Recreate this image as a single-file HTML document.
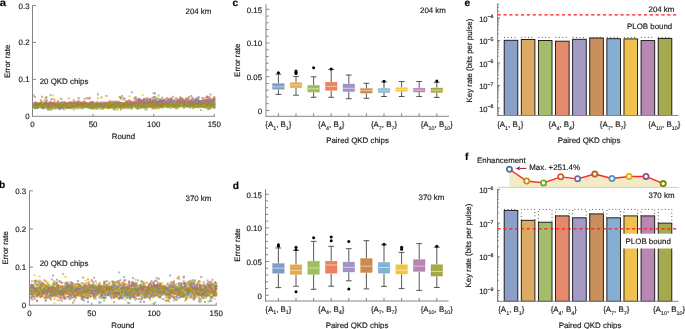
<!DOCTYPE html>
<html><head><meta charset="utf-8"><style>
html,body{margin:0;padding:0;background:#fff;}
svg{display:block;font-family:"Liberation Sans", sans-serif;will-change:transform;text-rendering:geometricPrecision;}
text{stroke:#1a1a1a;stroke-width:0.16px;}
</style></head><body>
<svg width="685" height="329" viewBox="0 0 685 329">
<defs><filter id="soft" x="-5%" y="-20%" width="110%" height="140%"><feGaussianBlur stdDeviation="0.35"/></filter><filter id="glob" x="0" y="0" width="685" height="329" filterUnits="userSpaceOnUse"><feGaussianBlur stdDeviation="0.3"/></filter></defs>
<rect width="685" height="329" fill="#fff"/>
<g filter="url(#glob)">
<g filter="url(#soft)">
<path d="M32.7 104.3h2.1v2.1h-2.1zM33.9 106.3h2.1v2.1h-2.1zM35.1 104.4h2.1v2.1h-2.1zM36.3 106.6h2.1v2.1h-2.1zM37.5 104.9h2.1v2.1h-2.1zM38.7 105.0h2.1v2.1h-2.1zM39.9 104.2h2.1v2.1h-2.1zM41.1 101.1h2.1v2.1h-2.1zM42.4 103.8h2.1v2.1h-2.1zM43.6 99.3h2.1v2.1h-2.1zM44.8 105.3h2.1v2.1h-2.1zM46.0 104.4h2.1v2.1h-2.1zM47.2 103.8h2.1v2.1h-2.1zM48.4 107.1h2.1v2.1h-2.1zM49.6 103.8h2.1v2.1h-2.1zM50.8 106.7h2.1v2.1h-2.1zM52.1 104.8h2.1v2.1h-2.1zM53.3 100.4h2.1v2.1h-2.1zM54.5 104.8h2.1v2.1h-2.1zM55.7 105.1h2.1v2.1h-2.1zM56.9 103.9h2.1v2.1h-2.1zM58.1 104.6h2.1v2.1h-2.1zM59.3 106.1h2.1v2.1h-2.1zM60.5 98.1h2.1v2.1h-2.1zM61.8 105.4h2.1v2.1h-2.1zM63.0 108.4h2.1v2.1h-2.1zM64.2 104.1h2.1v2.1h-2.1zM65.4 106.3h2.1v2.1h-2.1zM66.6 106.4h2.1v2.1h-2.1zM67.8 106.5h2.1v2.1h-2.1zM69.0 101.8h2.1v2.1h-2.1zM70.2 104.7h2.1v2.1h-2.1zM71.4 104.1h2.1v2.1h-2.1zM72.7 104.0h2.1v2.1h-2.1zM73.9 103.2h2.1v2.1h-2.1zM75.1 104.8h2.1v2.1h-2.1zM76.3 105.5h2.1v2.1h-2.1zM77.5 105.6h2.1v2.1h-2.1zM78.7 104.3h2.1v2.1h-2.1zM79.9 104.4h2.1v2.1h-2.1zM81.1 105.8h2.1v2.1h-2.1zM82.4 106.8h2.1v2.1h-2.1zM83.6 103.2h2.1v2.1h-2.1zM84.8 103.8h2.1v2.1h-2.1zM86.0 104.8h2.1v2.1h-2.1zM87.2 105.3h2.1v2.1h-2.1zM88.4 103.8h2.1v2.1h-2.1zM89.6 105.6h2.1v2.1h-2.1zM90.8 105.3h2.1v2.1h-2.1zM92.0 108.0h2.1v2.1h-2.1zM93.3 103.8h2.1v2.1h-2.1zM94.5 104.2h2.1v2.1h-2.1zM95.7 105.4h2.1v2.1h-2.1zM96.9 104.3h2.1v2.1h-2.1zM98.1 105.7h2.1v2.1h-2.1zM99.3 103.9h2.1v2.1h-2.1zM100.5 105.1h2.1v2.1h-2.1zM101.7 105.9h2.1v2.1h-2.1zM103.0 105.6h2.1v2.1h-2.1zM104.2 103.8h2.1v2.1h-2.1zM105.4 105.0h2.1v2.1h-2.1zM106.6 104.0h2.1v2.1h-2.1zM107.8 106.4h2.1v2.1h-2.1zM109.0 104.9h2.1v2.1h-2.1zM110.2 105.3h2.1v2.1h-2.1zM111.4 103.7h2.1v2.1h-2.1zM112.7 106.2h2.1v2.1h-2.1zM113.9 104.7h2.1v2.1h-2.1zM115.1 104.5h2.1v2.1h-2.1zM116.3 104.0h2.1v2.1h-2.1zM117.5 104.5h2.1v2.1h-2.1zM118.7 103.9h2.1v2.1h-2.1zM119.9 103.8h2.1v2.1h-2.1zM121.1 105.8h2.1v2.1h-2.1zM122.4 106.4h2.1v2.1h-2.1zM123.6 104.4h2.1v2.1h-2.1zM124.8 104.6h2.1v2.1h-2.1zM126.0 104.3h2.1v2.1h-2.1zM127.2 104.7h2.1v2.1h-2.1zM128.4 104.7h2.1v2.1h-2.1zM129.6 105.7h2.1v2.1h-2.1zM130.8 106.6h2.1v2.1h-2.1zM132.0 105.1h2.1v2.1h-2.1zM133.3 105.1h2.1v2.1h-2.1zM134.5 106.7h2.1v2.1h-2.1zM135.7 105.6h2.1v2.1h-2.1zM136.9 107.0h2.1v2.1h-2.1zM138.1 103.7h2.1v2.1h-2.1zM139.3 106.9h2.1v2.1h-2.1zM140.5 105.6h2.1v2.1h-2.1zM141.7 103.1h2.1v2.1h-2.1zM143.0 107.0h2.1v2.1h-2.1zM144.2 107.6h2.1v2.1h-2.1zM145.4 106.0h2.1v2.1h-2.1zM146.6 102.9h2.1v2.1h-2.1zM147.8 104.0h2.1v2.1h-2.1zM149.0 98.3h2.1v2.1h-2.1zM150.2 105.3h2.1v2.1h-2.1zM151.4 104.2h2.1v2.1h-2.1zM152.6 106.6h2.1v2.1h-2.1zM153.9 101.6h2.1v2.1h-2.1zM155.1 104.7h2.1v2.1h-2.1zM156.3 105.1h2.1v2.1h-2.1zM157.5 105.1h2.1v2.1h-2.1zM158.7 105.5h2.1v2.1h-2.1zM159.9 104.8h2.1v2.1h-2.1zM161.1 105.1h2.1v2.1h-2.1zM162.3 102.0h2.1v2.1h-2.1zM163.6 105.7h2.1v2.1h-2.1zM164.8 104.6h2.1v2.1h-2.1zM166.0 103.7h2.1v2.1h-2.1zM167.2 103.1h2.1v2.1h-2.1zM168.4 106.0h2.1v2.1h-2.1zM169.6 103.6h2.1v2.1h-2.1zM170.8 103.0h2.1v2.1h-2.1zM172.0 105.9h2.1v2.1h-2.1zM173.3 103.4h2.1v2.1h-2.1zM174.5 102.3h2.1v2.1h-2.1zM175.7 107.5h2.1v2.1h-2.1zM176.9 101.7h2.1v2.1h-2.1zM178.1 103.8h2.1v2.1h-2.1zM179.3 105.4h2.1v2.1h-2.1zM180.5 101.1h2.1v2.1h-2.1zM181.7 104.6h2.1v2.1h-2.1zM182.9 104.2h2.1v2.1h-2.1zM184.2 104.1h2.1v2.1h-2.1zM185.4 104.0h2.1v2.1h-2.1zM186.6 105.6h2.1v2.1h-2.1zM187.8 105.7h2.1v2.1h-2.1zM189.0 104.7h2.1v2.1h-2.1zM190.2 105.1h2.1v2.1h-2.1zM191.4 102.8h2.1v2.1h-2.1zM192.6 104.2h2.1v2.1h-2.1zM193.9 104.5h2.1v2.1h-2.1zM195.1 103.1h2.1v2.1h-2.1zM196.3 106.0h2.1v2.1h-2.1zM197.5 105.8h2.1v2.1h-2.1zM198.7 103.8h2.1v2.1h-2.1zM199.9 104.6h2.1v2.1h-2.1zM201.1 103.3h2.1v2.1h-2.1zM202.3 103.3h2.1v2.1h-2.1zM203.6 105.6h2.1v2.1h-2.1zM204.8 103.1h2.1v2.1h-2.1zM206.0 102.9h2.1v2.1h-2.1zM207.2 104.8h2.1v2.1h-2.1zM208.4 104.8h2.1v2.1h-2.1zM209.6 106.7h2.1v2.1h-2.1zM210.8 103.7h2.1v2.1h-2.1zM212.0 101.5h2.1v2.1h-2.1zM213.2 106.6h2.1v2.1h-2.1z" fill="#5D9EC7" fill-opacity="0.6"/>
<path d="M32.7 102.3h2.1v2.1h-2.1zM33.9 105.9h2.1v2.1h-2.1zM35.1 106.1h2.1v2.1h-2.1zM36.3 103.9h2.1v2.1h-2.1zM37.5 102.1h2.1v2.1h-2.1zM38.7 104.1h2.1v2.1h-2.1zM39.9 103.9h2.1v2.1h-2.1zM41.1 103.4h2.1v2.1h-2.1zM42.4 103.5h2.1v2.1h-2.1zM43.6 103.2h2.1v2.1h-2.1zM44.8 105.7h2.1v2.1h-2.1zM46.0 107.5h2.1v2.1h-2.1zM47.2 103.7h2.1v2.1h-2.1zM48.4 104.0h2.1v2.1h-2.1zM49.6 104.7h2.1v2.1h-2.1zM50.8 106.4h2.1v2.1h-2.1zM52.1 105.6h2.1v2.1h-2.1zM53.3 104.9h2.1v2.1h-2.1zM54.5 103.8h2.1v2.1h-2.1zM55.7 105.0h2.1v2.1h-2.1zM56.9 106.2h2.1v2.1h-2.1zM58.1 104.8h2.1v2.1h-2.1zM59.3 97.6h2.1v2.1h-2.1zM60.5 104.5h2.1v2.1h-2.1zM61.8 106.4h2.1v2.1h-2.1zM63.0 103.1h2.1v2.1h-2.1zM64.2 104.7h2.1v2.1h-2.1zM65.4 104.9h2.1v2.1h-2.1zM66.6 101.6h2.1v2.1h-2.1zM67.8 105.3h2.1v2.1h-2.1zM69.0 103.5h2.1v2.1h-2.1zM70.2 103.5h2.1v2.1h-2.1zM71.4 105.6h2.1v2.1h-2.1zM72.7 104.3h2.1v2.1h-2.1zM73.9 103.9h2.1v2.1h-2.1zM75.1 100.7h2.1v2.1h-2.1zM76.3 104.2h2.1v2.1h-2.1zM77.5 102.5h2.1v2.1h-2.1zM78.7 104.9h2.1v2.1h-2.1zM79.9 104.9h2.1v2.1h-2.1zM81.1 105.5h2.1v2.1h-2.1zM82.4 104.6h2.1v2.1h-2.1zM83.6 105.7h2.1v2.1h-2.1zM84.8 104.0h2.1v2.1h-2.1zM86.0 104.0h2.1v2.1h-2.1zM87.2 103.7h2.1v2.1h-2.1zM88.4 107.0h2.1v2.1h-2.1zM89.6 105.0h2.1v2.1h-2.1zM90.8 104.3h2.1v2.1h-2.1zM92.0 102.3h2.1v2.1h-2.1zM93.3 105.0h2.1v2.1h-2.1zM94.5 103.4h2.1v2.1h-2.1zM95.7 101.7h2.1v2.1h-2.1zM96.9 104.5h2.1v2.1h-2.1zM98.1 104.6h2.1v2.1h-2.1zM99.3 105.5h2.1v2.1h-2.1zM100.5 106.6h2.1v2.1h-2.1zM101.7 103.4h2.1v2.1h-2.1zM103.0 104.6h2.1v2.1h-2.1zM104.2 104.7h2.1v2.1h-2.1zM105.4 101.5h2.1v2.1h-2.1zM106.6 106.3h2.1v2.1h-2.1zM107.8 104.4h2.1v2.1h-2.1zM109.0 106.1h2.1v2.1h-2.1zM110.2 103.9h2.1v2.1h-2.1zM111.4 104.2h2.1v2.1h-2.1zM112.7 106.2h2.1v2.1h-2.1zM113.9 104.7h2.1v2.1h-2.1zM115.1 103.8h2.1v2.1h-2.1zM116.3 102.1h2.1v2.1h-2.1zM117.5 104.1h2.1v2.1h-2.1zM118.7 104.2h2.1v2.1h-2.1zM119.9 104.4h2.1v2.1h-2.1zM121.1 105.6h2.1v2.1h-2.1zM122.4 99.0h2.1v2.1h-2.1zM123.6 103.6h2.1v2.1h-2.1zM124.8 103.8h2.1v2.1h-2.1zM126.0 103.0h2.1v2.1h-2.1zM127.2 104.0h2.1v2.1h-2.1zM128.4 95.3h2.1v2.1h-2.1zM129.6 103.6h2.1v2.1h-2.1zM130.8 106.2h2.1v2.1h-2.1zM132.0 105.7h2.1v2.1h-2.1zM133.3 103.2h2.1v2.1h-2.1zM134.5 103.8h2.1v2.1h-2.1zM135.7 105.1h2.1v2.1h-2.1zM136.9 103.7h2.1v2.1h-2.1zM138.1 106.5h2.1v2.1h-2.1zM139.3 102.6h2.1v2.1h-2.1zM140.5 105.5h2.1v2.1h-2.1zM141.7 105.8h2.1v2.1h-2.1zM143.0 102.9h2.1v2.1h-2.1zM144.2 104.2h2.1v2.1h-2.1zM145.4 104.0h2.1v2.1h-2.1zM146.6 104.7h2.1v2.1h-2.1zM147.8 104.7h2.1v2.1h-2.1zM149.0 105.1h2.1v2.1h-2.1zM150.2 102.4h2.1v2.1h-2.1zM151.4 108.4h2.1v2.1h-2.1zM152.6 100.4h2.1v2.1h-2.1zM153.9 97.2h2.1v2.1h-2.1zM155.1 107.8h2.1v2.1h-2.1zM156.3 104.1h2.1v2.1h-2.1zM157.5 102.7h2.1v2.1h-2.1zM158.7 104.5h2.1v2.1h-2.1zM159.9 103.6h2.1v2.1h-2.1zM161.1 105.6h2.1v2.1h-2.1zM162.3 104.5h2.1v2.1h-2.1zM163.6 102.2h2.1v2.1h-2.1zM164.8 104.1h2.1v2.1h-2.1zM166.0 105.9h2.1v2.1h-2.1zM167.2 105.3h2.1v2.1h-2.1zM168.4 103.2h2.1v2.1h-2.1zM169.6 102.8h2.1v2.1h-2.1zM170.8 104.4h2.1v2.1h-2.1zM172.0 104.3h2.1v2.1h-2.1zM173.3 105.8h2.1v2.1h-2.1zM174.5 104.3h2.1v2.1h-2.1zM175.7 105.0h2.1v2.1h-2.1zM176.9 105.5h2.1v2.1h-2.1zM178.1 104.1h2.1v2.1h-2.1zM179.3 103.8h2.1v2.1h-2.1zM180.5 102.8h2.1v2.1h-2.1zM181.7 102.2h2.1v2.1h-2.1zM182.9 104.1h2.1v2.1h-2.1zM184.2 104.5h2.1v2.1h-2.1zM185.4 101.5h2.1v2.1h-2.1zM186.6 102.8h2.1v2.1h-2.1zM187.8 103.1h2.1v2.1h-2.1zM189.0 104.2h2.1v2.1h-2.1zM190.2 104.3h2.1v2.1h-2.1zM191.4 105.5h2.1v2.1h-2.1zM192.6 104.6h2.1v2.1h-2.1zM193.9 104.4h2.1v2.1h-2.1zM195.1 103.9h2.1v2.1h-2.1zM196.3 103.6h2.1v2.1h-2.1zM197.5 105.9h2.1v2.1h-2.1zM198.7 103.4h2.1v2.1h-2.1zM199.9 105.3h2.1v2.1h-2.1zM201.1 104.7h2.1v2.1h-2.1zM202.3 100.8h2.1v2.1h-2.1zM203.6 104.1h2.1v2.1h-2.1zM204.8 101.9h2.1v2.1h-2.1zM206.0 102.2h2.1v2.1h-2.1zM207.2 104.7h2.1v2.1h-2.1zM208.4 103.2h2.1v2.1h-2.1zM209.6 105.6h2.1v2.1h-2.1zM210.8 105.1h2.1v2.1h-2.1zM212.0 104.0h2.1v2.1h-2.1zM213.2 100.3h2.1v2.1h-2.1z" fill="#FFBF00" fill-opacity="0.6"/>
<path d="M32.7 103.9h2.1v2.1h-2.1zM33.9 105.7h2.1v2.1h-2.1zM35.1 103.2h2.1v2.1h-2.1zM36.3 103.5h2.1v2.1h-2.1zM37.5 103.8h2.1v2.1h-2.1zM38.7 104.9h2.1v2.1h-2.1zM39.9 105.0h2.1v2.1h-2.1zM41.1 105.3h2.1v2.1h-2.1zM42.4 102.2h2.1v2.1h-2.1zM43.6 102.3h2.1v2.1h-2.1zM44.8 102.4h2.1v2.1h-2.1zM46.0 103.7h2.1v2.1h-2.1zM47.2 102.7h2.1v2.1h-2.1zM48.4 105.4h2.1v2.1h-2.1zM49.6 102.6h2.1v2.1h-2.1zM50.8 106.2h2.1v2.1h-2.1zM52.1 104.7h2.1v2.1h-2.1zM53.3 104.5h2.1v2.1h-2.1zM54.5 103.6h2.1v2.1h-2.1zM55.7 102.6h2.1v2.1h-2.1zM56.9 103.2h2.1v2.1h-2.1zM58.1 104.8h2.1v2.1h-2.1zM59.3 101.9h2.1v2.1h-2.1zM60.5 104.3h2.1v2.1h-2.1zM61.8 104.5h2.1v2.1h-2.1zM63.0 104.4h2.1v2.1h-2.1zM64.2 105.1h2.1v2.1h-2.1zM65.4 104.2h2.1v2.1h-2.1zM66.6 105.3h2.1v2.1h-2.1zM67.8 106.8h2.1v2.1h-2.1zM69.0 105.3h2.1v2.1h-2.1zM70.2 106.3h2.1v2.1h-2.1zM71.4 103.1h2.1v2.1h-2.1zM72.7 106.6h2.1v2.1h-2.1zM73.9 102.2h2.1v2.1h-2.1zM75.1 104.9h2.1v2.1h-2.1zM76.3 103.1h2.1v2.1h-2.1zM77.5 104.7h2.1v2.1h-2.1zM78.7 103.5h2.1v2.1h-2.1zM79.9 106.5h2.1v2.1h-2.1zM81.1 104.7h2.1v2.1h-2.1zM82.4 103.9h2.1v2.1h-2.1zM83.6 100.8h2.1v2.1h-2.1zM84.8 105.7h2.1v2.1h-2.1zM86.0 104.5h2.1v2.1h-2.1zM87.2 103.9h2.1v2.1h-2.1zM88.4 104.5h2.1v2.1h-2.1zM89.6 103.6h2.1v2.1h-2.1zM90.8 103.8h2.1v2.1h-2.1zM92.0 102.4h2.1v2.1h-2.1zM93.3 103.1h2.1v2.1h-2.1zM94.5 104.6h2.1v2.1h-2.1zM95.7 104.9h2.1v2.1h-2.1zM96.9 106.3h2.1v2.1h-2.1zM98.1 104.4h2.1v2.1h-2.1zM99.3 102.1h2.1v2.1h-2.1zM100.5 104.5h2.1v2.1h-2.1zM101.7 104.4h2.1v2.1h-2.1zM103.0 106.1h2.1v2.1h-2.1zM104.2 103.1h2.1v2.1h-2.1zM105.4 105.8h2.1v2.1h-2.1zM106.6 102.7h2.1v2.1h-2.1zM107.8 106.5h2.1v2.1h-2.1zM109.0 106.1h2.1v2.1h-2.1zM110.2 104.4h2.1v2.1h-2.1zM111.4 104.7h2.1v2.1h-2.1zM112.7 103.7h2.1v2.1h-2.1zM113.9 104.6h2.1v2.1h-2.1zM115.1 103.5h2.1v2.1h-2.1zM116.3 105.0h2.1v2.1h-2.1zM117.5 100.7h2.1v2.1h-2.1zM118.7 102.6h2.1v2.1h-2.1zM119.9 102.8h2.1v2.1h-2.1zM121.1 102.6h2.1v2.1h-2.1zM122.4 103.4h2.1v2.1h-2.1zM123.6 103.3h2.1v2.1h-2.1zM124.8 103.8h2.1v2.1h-2.1zM126.0 103.7h2.1v2.1h-2.1zM127.2 101.8h2.1v2.1h-2.1zM128.4 103.4h2.1v2.1h-2.1zM129.6 102.8h2.1v2.1h-2.1zM130.8 104.4h2.1v2.1h-2.1zM132.0 102.2h2.1v2.1h-2.1zM133.3 103.9h2.1v2.1h-2.1zM134.5 101.0h2.1v2.1h-2.1zM135.7 106.9h2.1v2.1h-2.1zM136.9 104.7h2.1v2.1h-2.1zM138.1 100.6h2.1v2.1h-2.1zM139.3 102.6h2.1v2.1h-2.1zM140.5 105.2h2.1v2.1h-2.1zM141.7 103.9h2.1v2.1h-2.1zM143.0 98.4h2.1v2.1h-2.1zM144.2 104.4h2.1v2.1h-2.1zM145.4 103.0h2.1v2.1h-2.1zM146.6 105.6h2.1v2.1h-2.1zM147.8 103.0h2.1v2.1h-2.1zM149.0 102.6h2.1v2.1h-2.1zM150.2 105.5h2.1v2.1h-2.1zM151.4 103.8h2.1v2.1h-2.1zM152.6 104.4h2.1v2.1h-2.1zM153.9 96.0h2.1v2.1h-2.1zM155.1 102.2h2.1v2.1h-2.1zM156.3 105.6h2.1v2.1h-2.1zM157.5 103.7h2.1v2.1h-2.1zM158.7 104.2h2.1v2.1h-2.1zM159.9 101.9h2.1v2.1h-2.1zM161.1 104.1h2.1v2.1h-2.1zM162.3 103.3h2.1v2.1h-2.1zM163.6 105.0h2.1v2.1h-2.1zM164.8 103.2h2.1v2.1h-2.1zM166.0 104.4h2.1v2.1h-2.1zM167.2 102.2h2.1v2.1h-2.1zM168.4 101.5h2.1v2.1h-2.1zM169.6 102.6h2.1v2.1h-2.1zM170.8 103.1h2.1v2.1h-2.1zM172.0 104.9h2.1v2.1h-2.1zM173.3 102.0h2.1v2.1h-2.1zM174.5 107.0h2.1v2.1h-2.1zM175.7 102.8h2.1v2.1h-2.1zM176.9 102.3h2.1v2.1h-2.1zM178.1 103.5h2.1v2.1h-2.1zM179.3 96.2h2.1v2.1h-2.1zM180.5 104.2h2.1v2.1h-2.1zM181.7 103.1h2.1v2.1h-2.1zM182.9 101.8h2.1v2.1h-2.1zM184.2 104.7h2.1v2.1h-2.1zM185.4 103.9h2.1v2.1h-2.1zM186.6 104.1h2.1v2.1h-2.1zM187.8 104.5h2.1v2.1h-2.1zM189.0 105.1h2.1v2.1h-2.1zM190.2 100.8h2.1v2.1h-2.1zM191.4 104.8h2.1v2.1h-2.1zM192.6 101.4h2.1v2.1h-2.1zM193.9 102.0h2.1v2.1h-2.1zM195.1 102.5h2.1v2.1h-2.1zM196.3 105.7h2.1v2.1h-2.1zM197.5 102.2h2.1v2.1h-2.1zM198.7 103.5h2.1v2.1h-2.1zM199.9 102.8h2.1v2.1h-2.1zM201.1 100.9h2.1v2.1h-2.1zM202.3 102.3h2.1v2.1h-2.1zM203.6 105.0h2.1v2.1h-2.1zM204.8 105.4h2.1v2.1h-2.1zM206.0 99.0h2.1v2.1h-2.1zM207.2 102.4h2.1v2.1h-2.1zM208.4 101.3h2.1v2.1h-2.1zM209.6 103.9h2.1v2.1h-2.1zM210.8 102.4h2.1v2.1h-2.1zM212.0 103.5h2.1v2.1h-2.1zM213.2 102.6h2.1v2.1h-2.1z" fill="#C56E1A" fill-opacity="0.6"/>
<path d="M32.7 103.6h2.1v2.1h-2.1zM33.9 106.6h2.1v2.1h-2.1zM35.1 103.9h2.1v2.1h-2.1zM36.3 107.0h2.1v2.1h-2.1zM37.5 104.9h2.1v2.1h-2.1zM38.7 104.2h2.1v2.1h-2.1zM39.9 106.3h2.1v2.1h-2.1zM41.1 104.4h2.1v2.1h-2.1zM42.4 102.4h2.1v2.1h-2.1zM43.6 104.8h2.1v2.1h-2.1zM44.8 104.1h2.1v2.1h-2.1zM46.0 102.4h2.1v2.1h-2.1zM47.2 103.0h2.1v2.1h-2.1zM48.4 104.7h2.1v2.1h-2.1zM49.6 103.4h2.1v2.1h-2.1zM50.8 104.3h2.1v2.1h-2.1zM52.1 105.7h2.1v2.1h-2.1zM53.3 104.8h2.1v2.1h-2.1zM54.5 101.7h2.1v2.1h-2.1zM55.7 104.3h2.1v2.1h-2.1zM56.9 103.7h2.1v2.1h-2.1zM58.1 105.1h2.1v2.1h-2.1zM59.3 106.4h2.1v2.1h-2.1zM60.5 105.3h2.1v2.1h-2.1zM61.8 103.9h2.1v2.1h-2.1zM63.0 104.0h2.1v2.1h-2.1zM64.2 102.3h2.1v2.1h-2.1zM65.4 104.9h2.1v2.1h-2.1zM66.6 104.3h2.1v2.1h-2.1zM67.8 105.5h2.1v2.1h-2.1zM69.0 103.3h2.1v2.1h-2.1zM70.2 104.1h2.1v2.1h-2.1zM71.4 105.5h2.1v2.1h-2.1zM72.7 103.0h2.1v2.1h-2.1zM73.9 104.3h2.1v2.1h-2.1zM75.1 102.4h2.1v2.1h-2.1zM76.3 102.2h2.1v2.1h-2.1zM77.5 103.7h2.1v2.1h-2.1zM78.7 105.4h2.1v2.1h-2.1zM79.9 105.0h2.1v2.1h-2.1zM81.1 105.0h2.1v2.1h-2.1zM82.4 106.2h2.1v2.1h-2.1zM83.6 101.6h2.1v2.1h-2.1zM84.8 104.2h2.1v2.1h-2.1zM86.0 105.7h2.1v2.1h-2.1zM87.2 103.5h2.1v2.1h-2.1zM88.4 105.6h2.1v2.1h-2.1zM89.6 104.4h2.1v2.1h-2.1zM90.8 102.1h2.1v2.1h-2.1zM92.0 103.4h2.1v2.1h-2.1zM93.3 106.0h2.1v2.1h-2.1zM94.5 105.4h2.1v2.1h-2.1zM95.7 103.5h2.1v2.1h-2.1zM96.9 103.9h2.1v2.1h-2.1zM98.1 104.5h2.1v2.1h-2.1zM99.3 103.9h2.1v2.1h-2.1zM100.5 104.1h2.1v2.1h-2.1zM101.7 103.0h2.1v2.1h-2.1zM103.0 101.5h2.1v2.1h-2.1zM104.2 102.9h2.1v2.1h-2.1zM105.4 103.2h2.1v2.1h-2.1zM106.6 105.2h2.1v2.1h-2.1zM107.8 104.2h2.1v2.1h-2.1zM109.0 105.9h2.1v2.1h-2.1zM110.2 104.0h2.1v2.1h-2.1zM111.4 104.8h2.1v2.1h-2.1zM112.7 103.2h2.1v2.1h-2.1zM113.9 104.2h2.1v2.1h-2.1zM115.1 101.5h2.1v2.1h-2.1zM116.3 103.1h2.1v2.1h-2.1zM117.5 105.2h2.1v2.1h-2.1zM118.7 102.8h2.1v2.1h-2.1zM119.9 103.1h2.1v2.1h-2.1zM121.1 104.6h2.1v2.1h-2.1zM122.4 102.1h2.1v2.1h-2.1zM123.6 103.8h2.1v2.1h-2.1zM124.8 100.5h2.1v2.1h-2.1zM126.0 104.8h2.1v2.1h-2.1zM127.2 104.2h2.1v2.1h-2.1zM128.4 101.5h2.1v2.1h-2.1zM129.6 101.7h2.1v2.1h-2.1zM130.8 102.6h2.1v2.1h-2.1zM132.0 102.1h2.1v2.1h-2.1zM133.3 102.7h2.1v2.1h-2.1zM134.5 103.7h2.1v2.1h-2.1zM135.7 98.3h2.1v2.1h-2.1zM136.9 99.9h2.1v2.1h-2.1zM138.1 99.5h2.1v2.1h-2.1zM139.3 100.3h2.1v2.1h-2.1zM140.5 100.7h2.1v2.1h-2.1zM141.7 101.0h2.1v2.1h-2.1zM143.0 100.2h2.1v2.1h-2.1zM144.2 100.9h2.1v2.1h-2.1zM145.4 103.2h2.1v2.1h-2.1zM146.6 102.6h2.1v2.1h-2.1zM147.8 102.2h2.1v2.1h-2.1zM149.0 102.2h2.1v2.1h-2.1zM150.2 102.8h2.1v2.1h-2.1zM151.4 99.2h2.1v2.1h-2.1zM152.6 101.6h2.1v2.1h-2.1zM153.9 98.8h2.1v2.1h-2.1zM155.1 100.6h2.1v2.1h-2.1zM156.3 101.1h2.1v2.1h-2.1zM157.5 102.2h2.1v2.1h-2.1zM158.7 101.3h2.1v2.1h-2.1zM159.9 99.8h2.1v2.1h-2.1zM161.1 96.7h2.1v2.1h-2.1zM162.3 105.0h2.1v2.1h-2.1zM163.6 101.4h2.1v2.1h-2.1zM164.8 103.4h2.1v2.1h-2.1zM166.0 100.3h2.1v2.1h-2.1zM167.2 99.1h2.1v2.1h-2.1zM168.4 103.3h2.1v2.1h-2.1zM169.6 104.3h2.1v2.1h-2.1zM170.8 99.7h2.1v2.1h-2.1zM172.0 103.9h2.1v2.1h-2.1zM173.3 99.8h2.1v2.1h-2.1zM174.5 98.3h2.1v2.1h-2.1zM175.7 101.2h2.1v2.1h-2.1zM176.9 99.2h2.1v2.1h-2.1zM178.1 101.0h2.1v2.1h-2.1zM179.3 102.8h2.1v2.1h-2.1zM180.5 103.4h2.1v2.1h-2.1zM181.7 102.5h2.1v2.1h-2.1zM182.9 102.0h2.1v2.1h-2.1zM184.2 103.9h2.1v2.1h-2.1zM185.4 101.2h2.1v2.1h-2.1zM186.6 101.1h2.1v2.1h-2.1zM187.8 102.8h2.1v2.1h-2.1zM189.0 100.8h2.1v2.1h-2.1zM190.2 99.2h2.1v2.1h-2.1zM191.4 102.8h2.1v2.1h-2.1zM192.6 101.3h2.1v2.1h-2.1zM193.9 100.3h2.1v2.1h-2.1zM195.1 102.5h2.1v2.1h-2.1zM196.3 98.8h2.1v2.1h-2.1zM197.5 102.1h2.1v2.1h-2.1zM198.7 101.8h2.1v2.1h-2.1zM199.9 101.4h2.1v2.1h-2.1zM201.1 100.2h2.1v2.1h-2.1zM202.3 101.2h2.1v2.1h-2.1zM203.6 102.1h2.1v2.1h-2.1zM204.8 100.3h2.1v2.1h-2.1zM206.0 96.2h2.1v2.1h-2.1zM207.2 101.0h2.1v2.1h-2.1zM208.4 107.2h2.1v2.1h-2.1zM209.6 101.4h2.1v2.1h-2.1zM210.8 101.9h2.1v2.1h-2.1zM212.0 100.1h2.1v2.1h-2.1zM213.2 99.8h2.1v2.1h-2.1z" fill="#5E81B5" fill-opacity="0.6"/>
<path d="M32.7 103.7h2.1v2.1h-2.1zM33.9 103.7h2.1v2.1h-2.1zM35.1 106.1h2.1v2.1h-2.1zM36.3 104.8h2.1v2.1h-2.1zM37.5 104.2h2.1v2.1h-2.1zM38.7 104.7h2.1v2.1h-2.1zM39.9 103.0h2.1v2.1h-2.1zM41.1 102.6h2.1v2.1h-2.1zM42.4 103.6h2.1v2.1h-2.1zM43.6 105.0h2.1v2.1h-2.1zM44.8 102.2h2.1v2.1h-2.1zM46.0 102.8h2.1v2.1h-2.1zM47.2 104.9h2.1v2.1h-2.1zM48.4 105.6h2.1v2.1h-2.1zM49.6 102.3h2.1v2.1h-2.1zM50.8 103.2h2.1v2.1h-2.1zM52.1 102.4h2.1v2.1h-2.1zM53.3 103.6h2.1v2.1h-2.1zM54.5 102.5h2.1v2.1h-2.1zM55.7 101.9h2.1v2.1h-2.1zM56.9 104.0h2.1v2.1h-2.1zM58.1 104.3h2.1v2.1h-2.1zM59.3 103.6h2.1v2.1h-2.1zM60.5 103.9h2.1v2.1h-2.1zM61.8 103.7h2.1v2.1h-2.1zM63.0 106.3h2.1v2.1h-2.1zM64.2 102.0h2.1v2.1h-2.1zM65.4 104.4h2.1v2.1h-2.1zM66.6 103.3h2.1v2.1h-2.1zM67.8 103.7h2.1v2.1h-2.1zM69.0 101.2h2.1v2.1h-2.1zM70.2 104.3h2.1v2.1h-2.1zM71.4 103.5h2.1v2.1h-2.1zM72.7 103.7h2.1v2.1h-2.1zM73.9 105.5h2.1v2.1h-2.1zM75.1 103.9h2.1v2.1h-2.1zM76.3 103.5h2.1v2.1h-2.1zM77.5 102.8h2.1v2.1h-2.1zM78.7 103.7h2.1v2.1h-2.1zM79.9 102.5h2.1v2.1h-2.1zM81.1 102.3h2.1v2.1h-2.1zM82.4 104.3h2.1v2.1h-2.1zM83.6 104.6h2.1v2.1h-2.1zM84.8 104.2h2.1v2.1h-2.1zM86.0 105.2h2.1v2.1h-2.1zM87.2 103.7h2.1v2.1h-2.1zM88.4 102.8h2.1v2.1h-2.1zM89.6 103.6h2.1v2.1h-2.1zM90.8 103.8h2.1v2.1h-2.1zM92.0 102.6h2.1v2.1h-2.1zM93.3 107.3h2.1v2.1h-2.1zM94.5 103.1h2.1v2.1h-2.1zM95.7 104.4h2.1v2.1h-2.1zM96.9 101.3h2.1v2.1h-2.1zM98.1 104.7h2.1v2.1h-2.1zM99.3 102.7h2.1v2.1h-2.1zM100.5 103.2h2.1v2.1h-2.1zM101.7 104.8h2.1v2.1h-2.1zM103.0 103.1h2.1v2.1h-2.1zM104.2 103.2h2.1v2.1h-2.1zM105.4 102.8h2.1v2.1h-2.1zM106.6 104.4h2.1v2.1h-2.1zM107.8 104.8h2.1v2.1h-2.1zM109.0 104.6h2.1v2.1h-2.1zM110.2 103.6h2.1v2.1h-2.1zM111.4 100.6h2.1v2.1h-2.1zM112.7 104.6h2.1v2.1h-2.1zM113.9 102.7h2.1v2.1h-2.1zM115.1 103.4h2.1v2.1h-2.1zM116.3 105.2h2.1v2.1h-2.1zM117.5 104.7h2.1v2.1h-2.1zM118.7 102.7h2.1v2.1h-2.1zM119.9 103.7h2.1v2.1h-2.1zM121.1 104.0h2.1v2.1h-2.1zM122.4 101.9h2.1v2.1h-2.1zM123.6 106.3h2.1v2.1h-2.1zM124.8 106.0h2.1v2.1h-2.1zM126.0 101.6h2.1v2.1h-2.1zM127.2 104.5h2.1v2.1h-2.1zM128.4 104.9h2.1v2.1h-2.1zM129.6 103.0h2.1v2.1h-2.1zM130.8 102.7h2.1v2.1h-2.1zM132.0 104.5h2.1v2.1h-2.1zM133.3 102.6h2.1v2.1h-2.1zM134.5 102.4h2.1v2.1h-2.1zM135.7 102.8h2.1v2.1h-2.1zM136.9 103.6h2.1v2.1h-2.1zM138.1 97.8h2.1v2.1h-2.1zM139.3 104.4h2.1v2.1h-2.1zM140.5 103.4h2.1v2.1h-2.1zM141.7 101.9h2.1v2.1h-2.1zM143.0 104.7h2.1v2.1h-2.1zM144.2 104.7h2.1v2.1h-2.1zM145.4 104.1h2.1v2.1h-2.1zM146.6 102.4h2.1v2.1h-2.1zM147.8 103.9h2.1v2.1h-2.1zM149.0 105.5h2.1v2.1h-2.1zM150.2 103.1h2.1v2.1h-2.1zM151.4 104.2h2.1v2.1h-2.1zM152.6 104.6h2.1v2.1h-2.1zM153.9 104.0h2.1v2.1h-2.1zM155.1 104.4h2.1v2.1h-2.1zM156.3 103.7h2.1v2.1h-2.1zM157.5 102.8h2.1v2.1h-2.1zM158.7 102.0h2.1v2.1h-2.1zM159.9 102.9h2.1v2.1h-2.1zM161.1 103.2h2.1v2.1h-2.1zM162.3 105.6h2.1v2.1h-2.1zM163.6 102.8h2.1v2.1h-2.1zM164.8 101.7h2.1v2.1h-2.1zM166.0 105.5h2.1v2.1h-2.1zM167.2 105.8h2.1v2.1h-2.1zM168.4 103.6h2.1v2.1h-2.1zM169.6 103.5h2.1v2.1h-2.1zM170.8 101.4h2.1v2.1h-2.1zM172.0 103.3h2.1v2.1h-2.1zM173.3 106.0h2.1v2.1h-2.1zM174.5 105.3h2.1v2.1h-2.1zM175.7 102.5h2.1v2.1h-2.1zM176.9 103.2h2.1v2.1h-2.1zM178.1 104.1h2.1v2.1h-2.1zM179.3 97.0h2.1v2.1h-2.1zM180.5 102.6h2.1v2.1h-2.1zM181.7 102.8h2.1v2.1h-2.1zM182.9 103.6h2.1v2.1h-2.1zM184.2 104.4h2.1v2.1h-2.1zM185.4 104.4h2.1v2.1h-2.1zM186.6 101.5h2.1v2.1h-2.1zM187.8 102.8h2.1v2.1h-2.1zM189.0 103.9h2.1v2.1h-2.1zM190.2 101.4h2.1v2.1h-2.1zM191.4 103.6h2.1v2.1h-2.1zM192.6 103.2h2.1v2.1h-2.1zM193.9 104.3h2.1v2.1h-2.1zM195.1 102.6h2.1v2.1h-2.1zM196.3 103.7h2.1v2.1h-2.1zM197.5 102.2h2.1v2.1h-2.1zM198.7 102.2h2.1v2.1h-2.1zM199.9 103.6h2.1v2.1h-2.1zM201.1 103.2h2.1v2.1h-2.1zM202.3 104.2h2.1v2.1h-2.1zM203.6 102.5h2.1v2.1h-2.1zM204.8 103.9h2.1v2.1h-2.1zM206.0 103.6h2.1v2.1h-2.1zM207.2 103.2h2.1v2.1h-2.1zM208.4 104.2h2.1v2.1h-2.1zM209.6 104.2h2.1v2.1h-2.1zM210.8 104.2h2.1v2.1h-2.1zM212.0 102.7h2.1v2.1h-2.1zM213.2 102.6h2.1v2.1h-2.1z" fill="#E19C24" fill-opacity="0.6"/>
<path d="M32.7 103.5h2.1v2.1h-2.1zM33.9 102.8h2.1v2.1h-2.1zM35.1 103.1h2.1v2.1h-2.1zM36.3 105.3h2.1v2.1h-2.1zM37.5 104.5h2.1v2.1h-2.1zM38.7 103.9h2.1v2.1h-2.1zM39.9 104.9h2.1v2.1h-2.1zM41.1 104.9h2.1v2.1h-2.1zM42.4 102.7h2.1v2.1h-2.1zM43.6 104.2h2.1v2.1h-2.1zM44.8 104.0h2.1v2.1h-2.1zM46.0 103.9h2.1v2.1h-2.1zM47.2 103.0h2.1v2.1h-2.1zM48.4 103.6h2.1v2.1h-2.1zM49.6 104.4h2.1v2.1h-2.1zM50.8 104.2h2.1v2.1h-2.1zM52.1 102.5h2.1v2.1h-2.1zM53.3 104.1h2.1v2.1h-2.1zM54.5 104.3h2.1v2.1h-2.1zM55.7 105.5h2.1v2.1h-2.1zM56.9 103.7h2.1v2.1h-2.1zM58.1 108.0h2.1v2.1h-2.1zM59.3 105.9h2.1v2.1h-2.1zM60.5 103.0h2.1v2.1h-2.1zM61.8 102.4h2.1v2.1h-2.1zM63.0 103.9h2.1v2.1h-2.1zM64.2 105.5h2.1v2.1h-2.1zM65.4 102.7h2.1v2.1h-2.1zM66.6 105.0h2.1v2.1h-2.1zM67.8 105.1h2.1v2.1h-2.1zM69.0 104.4h2.1v2.1h-2.1zM70.2 103.6h2.1v2.1h-2.1zM71.4 103.6h2.1v2.1h-2.1zM72.7 102.0h2.1v2.1h-2.1zM73.9 103.9h2.1v2.1h-2.1zM75.1 103.6h2.1v2.1h-2.1zM76.3 104.3h2.1v2.1h-2.1zM77.5 104.1h2.1v2.1h-2.1zM78.7 104.9h2.1v2.1h-2.1zM79.9 102.7h2.1v2.1h-2.1zM81.1 103.3h2.1v2.1h-2.1zM82.4 105.0h2.1v2.1h-2.1zM83.6 102.8h2.1v2.1h-2.1zM84.8 104.3h2.1v2.1h-2.1zM86.0 105.9h2.1v2.1h-2.1zM87.2 103.0h2.1v2.1h-2.1zM88.4 105.6h2.1v2.1h-2.1zM89.6 107.1h2.1v2.1h-2.1zM90.8 106.7h2.1v2.1h-2.1zM92.0 101.0h2.1v2.1h-2.1zM93.3 105.5h2.1v2.1h-2.1zM94.5 102.8h2.1v2.1h-2.1zM95.7 102.2h2.1v2.1h-2.1zM96.9 105.9h2.1v2.1h-2.1zM98.1 104.8h2.1v2.1h-2.1zM99.3 104.4h2.1v2.1h-2.1zM100.5 106.0h2.1v2.1h-2.1zM101.7 103.6h2.1v2.1h-2.1zM103.0 103.9h2.1v2.1h-2.1zM104.2 102.4h2.1v2.1h-2.1zM105.4 102.3h2.1v2.1h-2.1zM106.6 103.8h2.1v2.1h-2.1zM107.8 106.7h2.1v2.1h-2.1zM109.0 105.9h2.1v2.1h-2.1zM110.2 102.0h2.1v2.1h-2.1zM111.4 104.3h2.1v2.1h-2.1zM112.7 102.8h2.1v2.1h-2.1zM113.9 104.3h2.1v2.1h-2.1zM115.1 102.6h2.1v2.1h-2.1zM116.3 104.3h2.1v2.1h-2.1zM117.5 106.0h2.1v2.1h-2.1zM118.7 106.7h2.1v2.1h-2.1zM119.9 108.3h2.1v2.1h-2.1zM121.1 104.2h2.1v2.1h-2.1zM122.4 104.0h2.1v2.1h-2.1zM123.6 104.6h2.1v2.1h-2.1zM124.8 106.4h2.1v2.1h-2.1zM126.0 103.9h2.1v2.1h-2.1zM127.2 103.5h2.1v2.1h-2.1zM128.4 103.4h2.1v2.1h-2.1zM129.6 104.0h2.1v2.1h-2.1zM130.8 102.6h2.1v2.1h-2.1zM132.0 102.2h2.1v2.1h-2.1zM133.3 104.5h2.1v2.1h-2.1zM134.5 101.2h2.1v2.1h-2.1zM135.7 100.6h2.1v2.1h-2.1zM136.9 104.0h2.1v2.1h-2.1zM138.1 98.5h2.1v2.1h-2.1zM139.3 100.7h2.1v2.1h-2.1zM140.5 99.6h2.1v2.1h-2.1zM141.7 100.8h2.1v2.1h-2.1zM143.0 101.8h2.1v2.1h-2.1zM144.2 104.2h2.1v2.1h-2.1zM145.4 104.4h2.1v2.1h-2.1zM146.6 97.5h2.1v2.1h-2.1zM147.8 103.2h2.1v2.1h-2.1zM149.0 102.5h2.1v2.1h-2.1zM150.2 102.6h2.1v2.1h-2.1zM151.4 101.0h2.1v2.1h-2.1zM152.6 100.4h2.1v2.1h-2.1zM153.9 100.7h2.1v2.1h-2.1zM155.1 100.7h2.1v2.1h-2.1zM156.3 102.2h2.1v2.1h-2.1zM157.5 100.4h2.1v2.1h-2.1zM158.7 101.6h2.1v2.1h-2.1zM159.9 103.3h2.1v2.1h-2.1zM161.1 99.7h2.1v2.1h-2.1zM162.3 99.2h2.1v2.1h-2.1zM163.6 103.2h2.1v2.1h-2.1zM164.8 100.2h2.1v2.1h-2.1zM166.0 103.2h2.1v2.1h-2.1zM167.2 98.8h2.1v2.1h-2.1zM168.4 102.3h2.1v2.1h-2.1zM169.6 97.4h2.1v2.1h-2.1zM170.8 102.4h2.1v2.1h-2.1zM172.0 103.4h2.1v2.1h-2.1zM173.3 101.5h2.1v2.1h-2.1zM174.5 104.1h2.1v2.1h-2.1zM175.7 102.8h2.1v2.1h-2.1zM176.9 100.6h2.1v2.1h-2.1zM178.1 102.2h2.1v2.1h-2.1zM179.3 98.4h2.1v2.1h-2.1zM180.5 102.3h2.1v2.1h-2.1zM181.7 100.8h2.1v2.1h-2.1zM182.9 103.0h2.1v2.1h-2.1zM184.2 100.5h2.1v2.1h-2.1zM185.4 103.5h2.1v2.1h-2.1zM186.6 102.7h2.1v2.1h-2.1zM187.8 99.8h2.1v2.1h-2.1zM189.0 100.4h2.1v2.1h-2.1zM190.2 102.3h2.1v2.1h-2.1zM191.4 103.0h2.1v2.1h-2.1zM192.6 98.6h2.1v2.1h-2.1zM193.9 101.0h2.1v2.1h-2.1zM195.1 103.1h2.1v2.1h-2.1zM196.3 101.0h2.1v2.1h-2.1zM197.5 96.0h2.1v2.1h-2.1zM198.7 102.4h2.1v2.1h-2.1zM199.9 100.0h2.1v2.1h-2.1zM201.1 103.9h2.1v2.1h-2.1zM202.3 99.4h2.1v2.1h-2.1zM203.6 100.5h2.1v2.1h-2.1zM204.8 100.2h2.1v2.1h-2.1zM206.0 95.5h2.1v2.1h-2.1zM207.2 100.2h2.1v2.1h-2.1zM208.4 99.8h2.1v2.1h-2.1zM209.6 100.0h2.1v2.1h-2.1zM210.8 98.9h2.1v2.1h-2.1zM212.0 101.5h2.1v2.1h-2.1zM213.2 97.8h2.1v2.1h-2.1z" fill="#A5609D" fill-opacity="0.6"/>
<path d="M32.7 94.6h2.1v2.1h-2.1zM33.9 96.0h2.1v2.1h-2.1zM35.1 104.6h2.1v2.1h-2.1zM36.3 104.3h2.1v2.1h-2.1zM37.5 103.8h2.1v2.1h-2.1zM38.7 104.3h2.1v2.1h-2.1zM39.9 103.7h2.1v2.1h-2.1zM41.1 102.3h2.1v2.1h-2.1zM42.4 102.8h2.1v2.1h-2.1zM43.6 103.6h2.1v2.1h-2.1zM44.8 102.3h2.1v2.1h-2.1zM46.0 105.3h2.1v2.1h-2.1zM47.2 103.1h2.1v2.1h-2.1zM48.4 101.6h2.1v2.1h-2.1zM49.6 102.1h2.1v2.1h-2.1zM50.8 105.0h2.1v2.1h-2.1zM52.1 103.9h2.1v2.1h-2.1zM53.3 98.4h2.1v2.1h-2.1zM54.5 103.9h2.1v2.1h-2.1zM55.7 103.8h2.1v2.1h-2.1zM56.9 105.7h2.1v2.1h-2.1zM58.1 103.0h2.1v2.1h-2.1zM59.3 103.5h2.1v2.1h-2.1zM60.5 105.2h2.1v2.1h-2.1zM61.8 105.7h2.1v2.1h-2.1zM63.0 102.7h2.1v2.1h-2.1zM64.2 103.2h2.1v2.1h-2.1zM65.4 104.4h2.1v2.1h-2.1zM66.6 102.3h2.1v2.1h-2.1zM67.8 102.0h2.1v2.1h-2.1zM69.0 104.2h2.1v2.1h-2.1zM70.2 104.5h2.1v2.1h-2.1zM71.4 102.9h2.1v2.1h-2.1zM72.7 104.6h2.1v2.1h-2.1zM73.9 102.6h2.1v2.1h-2.1zM75.1 105.0h2.1v2.1h-2.1zM76.3 103.0h2.1v2.1h-2.1zM77.5 102.1h2.1v2.1h-2.1zM78.7 103.0h2.1v2.1h-2.1zM79.9 103.5h2.1v2.1h-2.1zM81.1 103.0h2.1v2.1h-2.1zM82.4 104.6h2.1v2.1h-2.1zM83.6 103.5h2.1v2.1h-2.1zM84.8 102.3h2.1v2.1h-2.1zM86.0 97.1h2.1v2.1h-2.1zM87.2 102.4h2.1v2.1h-2.1zM88.4 103.9h2.1v2.1h-2.1zM89.6 104.2h2.1v2.1h-2.1zM90.8 101.9h2.1v2.1h-2.1zM92.0 105.2h2.1v2.1h-2.1zM93.3 103.6h2.1v2.1h-2.1zM94.5 102.8h2.1v2.1h-2.1zM95.7 103.1h2.1v2.1h-2.1zM96.9 106.0h2.1v2.1h-2.1zM98.1 102.5h2.1v2.1h-2.1zM99.3 103.9h2.1v2.1h-2.1zM100.5 104.1h2.1v2.1h-2.1zM101.7 104.2h2.1v2.1h-2.1zM103.0 102.6h2.1v2.1h-2.1zM104.2 103.9h2.1v2.1h-2.1zM105.4 104.0h2.1v2.1h-2.1zM106.6 104.8h2.1v2.1h-2.1zM107.8 104.8h2.1v2.1h-2.1zM109.0 100.6h2.1v2.1h-2.1zM110.2 103.2h2.1v2.1h-2.1zM111.4 101.5h2.1v2.1h-2.1zM112.7 103.6h2.1v2.1h-2.1zM113.9 100.7h2.1v2.1h-2.1zM115.1 103.9h2.1v2.1h-2.1zM116.3 105.7h2.1v2.1h-2.1zM117.5 102.8h2.1v2.1h-2.1zM118.7 104.3h2.1v2.1h-2.1zM119.9 103.2h2.1v2.1h-2.1zM121.1 102.7h2.1v2.1h-2.1zM122.4 102.9h2.1v2.1h-2.1zM123.6 103.7h2.1v2.1h-2.1zM124.8 103.1h2.1v2.1h-2.1zM126.0 100.8h2.1v2.1h-2.1zM127.2 103.1h2.1v2.1h-2.1zM128.4 104.1h2.1v2.1h-2.1zM129.6 101.2h2.1v2.1h-2.1zM130.8 100.8h2.1v2.1h-2.1zM132.0 103.3h2.1v2.1h-2.1zM133.3 103.7h2.1v2.1h-2.1zM134.5 99.8h2.1v2.1h-2.1zM135.7 102.2h2.1v2.1h-2.1zM136.9 103.1h2.1v2.1h-2.1zM138.1 101.2h2.1v2.1h-2.1zM139.3 102.2h2.1v2.1h-2.1zM140.5 101.5h2.1v2.1h-2.1zM141.7 99.9h2.1v2.1h-2.1zM143.0 102.8h2.1v2.1h-2.1zM144.2 101.1h2.1v2.1h-2.1zM145.4 102.5h2.1v2.1h-2.1zM146.6 98.8h2.1v2.1h-2.1zM147.8 102.3h2.1v2.1h-2.1zM149.0 98.1h2.1v2.1h-2.1zM150.2 101.2h2.1v2.1h-2.1zM151.4 103.5h2.1v2.1h-2.1zM152.6 100.0h2.1v2.1h-2.1zM153.9 102.6h2.1v2.1h-2.1zM155.1 102.8h2.1v2.1h-2.1zM156.3 102.6h2.1v2.1h-2.1zM157.5 103.1h2.1v2.1h-2.1zM158.7 100.2h2.1v2.1h-2.1zM159.9 99.5h2.1v2.1h-2.1zM161.1 99.8h2.1v2.1h-2.1zM162.3 101.7h2.1v2.1h-2.1zM163.6 103.3h2.1v2.1h-2.1zM164.8 98.0h2.1v2.1h-2.1zM166.0 96.9h2.1v2.1h-2.1zM167.2 98.0h2.1v2.1h-2.1zM168.4 98.9h2.1v2.1h-2.1zM169.6 103.5h2.1v2.1h-2.1zM170.8 101.5h2.1v2.1h-2.1zM172.0 104.6h2.1v2.1h-2.1zM173.3 103.0h2.1v2.1h-2.1zM174.5 104.1h2.1v2.1h-2.1zM175.7 97.2h2.1v2.1h-2.1zM176.9 98.9h2.1v2.1h-2.1zM178.1 103.4h2.1v2.1h-2.1zM179.3 98.4h2.1v2.1h-2.1zM180.5 100.6h2.1v2.1h-2.1zM181.7 100.9h2.1v2.1h-2.1zM182.9 99.8h2.1v2.1h-2.1zM184.2 101.2h2.1v2.1h-2.1zM185.4 99.3h2.1v2.1h-2.1zM186.6 98.8h2.1v2.1h-2.1zM187.8 97.5h2.1v2.1h-2.1zM189.0 104.0h2.1v2.1h-2.1zM190.2 101.8h2.1v2.1h-2.1zM191.4 97.9h2.1v2.1h-2.1zM192.6 102.5h2.1v2.1h-2.1zM193.9 99.1h2.1v2.1h-2.1zM195.1 101.6h2.1v2.1h-2.1zM196.3 102.7h2.1v2.1h-2.1zM197.5 100.3h2.1v2.1h-2.1zM198.7 103.4h2.1v2.1h-2.1zM199.9 101.0h2.1v2.1h-2.1zM201.1 100.0h2.1v2.1h-2.1zM202.3 101.2h2.1v2.1h-2.1zM203.6 97.0h2.1v2.1h-2.1zM204.8 99.0h2.1v2.1h-2.1zM206.0 96.5h2.1v2.1h-2.1zM207.2 96.8h2.1v2.1h-2.1zM208.4 98.1h2.1v2.1h-2.1zM209.6 93.4h2.1v2.1h-2.1zM210.8 97.9h2.1v2.1h-2.1zM212.0 101.2h2.1v2.1h-2.1zM213.2 101.7h2.1v2.1h-2.1z" fill="#EB6235" fill-opacity="0.6"/>
<path d="M32.7 103.4h2.1v2.1h-2.1zM33.9 102.5h2.1v2.1h-2.1zM35.1 103.3h2.1v2.1h-2.1zM36.3 102.0h2.1v2.1h-2.1zM37.5 102.7h2.1v2.1h-2.1zM38.7 103.3h2.1v2.1h-2.1zM39.9 104.7h2.1v2.1h-2.1zM41.1 104.3h2.1v2.1h-2.1zM42.4 104.9h2.1v2.1h-2.1zM43.6 107.0h2.1v2.1h-2.1zM44.8 101.7h2.1v2.1h-2.1zM46.0 99.3h2.1v2.1h-2.1zM47.2 105.7h2.1v2.1h-2.1zM48.4 105.1h2.1v2.1h-2.1zM49.6 103.5h2.1v2.1h-2.1zM50.8 104.2h2.1v2.1h-2.1zM52.1 103.4h2.1v2.1h-2.1zM53.3 103.9h2.1v2.1h-2.1zM54.5 103.7h2.1v2.1h-2.1zM55.7 104.0h2.1v2.1h-2.1zM56.9 105.7h2.1v2.1h-2.1zM58.1 104.2h2.1v2.1h-2.1zM59.3 103.5h2.1v2.1h-2.1zM60.5 104.0h2.1v2.1h-2.1zM61.8 103.3h2.1v2.1h-2.1zM63.0 105.2h2.1v2.1h-2.1zM64.2 101.7h2.1v2.1h-2.1zM65.4 103.8h2.1v2.1h-2.1zM66.6 105.2h2.1v2.1h-2.1zM67.8 104.2h2.1v2.1h-2.1zM69.0 103.7h2.1v2.1h-2.1zM70.2 101.3h2.1v2.1h-2.1zM71.4 104.0h2.1v2.1h-2.1zM72.7 102.5h2.1v2.1h-2.1zM73.9 103.9h2.1v2.1h-2.1zM75.1 102.1h2.1v2.1h-2.1zM76.3 104.1h2.1v2.1h-2.1zM77.5 101.3h2.1v2.1h-2.1zM78.7 104.4h2.1v2.1h-2.1zM79.9 102.9h2.1v2.1h-2.1zM81.1 103.6h2.1v2.1h-2.1zM82.4 105.6h2.1v2.1h-2.1zM83.6 104.0h2.1v2.1h-2.1zM84.8 103.1h2.1v2.1h-2.1zM86.0 104.9h2.1v2.1h-2.1zM87.2 103.1h2.1v2.1h-2.1zM88.4 104.5h2.1v2.1h-2.1zM89.6 103.5h2.1v2.1h-2.1zM90.8 105.2h2.1v2.1h-2.1zM92.0 102.0h2.1v2.1h-2.1zM93.3 105.8h2.1v2.1h-2.1zM94.5 105.2h2.1v2.1h-2.1zM95.7 102.4h2.1v2.1h-2.1zM96.9 103.9h2.1v2.1h-2.1zM98.1 103.4h2.1v2.1h-2.1zM99.3 104.4h2.1v2.1h-2.1zM100.5 101.0h2.1v2.1h-2.1zM101.7 104.8h2.1v2.1h-2.1zM103.0 102.7h2.1v2.1h-2.1zM104.2 102.4h2.1v2.1h-2.1zM105.4 102.7h2.1v2.1h-2.1zM106.6 102.5h2.1v2.1h-2.1zM107.8 102.6h2.1v2.1h-2.1zM109.0 104.5h2.1v2.1h-2.1zM110.2 104.5h2.1v2.1h-2.1zM111.4 100.9h2.1v2.1h-2.1zM112.7 104.2h2.1v2.1h-2.1zM113.9 103.7h2.1v2.1h-2.1zM115.1 102.8h2.1v2.1h-2.1zM116.3 102.9h2.1v2.1h-2.1zM117.5 103.9h2.1v2.1h-2.1zM118.7 105.6h2.1v2.1h-2.1zM119.9 103.8h2.1v2.1h-2.1zM121.1 103.1h2.1v2.1h-2.1zM122.4 102.0h2.1v2.1h-2.1zM123.6 104.2h2.1v2.1h-2.1zM124.8 104.4h2.1v2.1h-2.1zM126.0 103.6h2.1v2.1h-2.1zM127.2 105.0h2.1v2.1h-2.1zM128.4 102.2h2.1v2.1h-2.1zM129.6 101.2h2.1v2.1h-2.1zM130.8 91.2h2.1v2.1h-2.1zM132.0 102.8h2.1v2.1h-2.1zM133.3 101.8h2.1v2.1h-2.1zM134.5 97.9h2.1v2.1h-2.1zM135.7 103.1h2.1v2.1h-2.1zM136.9 104.4h2.1v2.1h-2.1zM138.1 101.5h2.1v2.1h-2.1zM139.3 99.7h2.1v2.1h-2.1zM140.5 101.1h2.1v2.1h-2.1zM141.7 102.6h2.1v2.1h-2.1zM143.0 102.5h2.1v2.1h-2.1zM144.2 102.0h2.1v2.1h-2.1zM145.4 99.5h2.1v2.1h-2.1zM146.6 103.4h2.1v2.1h-2.1zM147.8 100.0h2.1v2.1h-2.1zM149.0 100.0h2.1v2.1h-2.1zM150.2 102.0h2.1v2.1h-2.1zM151.4 100.4h2.1v2.1h-2.1zM152.6 102.0h2.1v2.1h-2.1zM153.9 101.5h2.1v2.1h-2.1zM155.1 100.0h2.1v2.1h-2.1zM156.3 102.2h2.1v2.1h-2.1zM157.5 101.8h2.1v2.1h-2.1zM158.7 98.7h2.1v2.1h-2.1zM159.9 99.5h2.1v2.1h-2.1zM161.1 105.7h2.1v2.1h-2.1zM162.3 101.2h2.1v2.1h-2.1zM163.6 98.9h2.1v2.1h-2.1zM164.8 101.2h2.1v2.1h-2.1zM166.0 102.7h2.1v2.1h-2.1zM167.2 102.9h2.1v2.1h-2.1zM168.4 104.1h2.1v2.1h-2.1zM169.6 100.9h2.1v2.1h-2.1zM170.8 102.0h2.1v2.1h-2.1zM172.0 100.9h2.1v2.1h-2.1zM173.3 99.5h2.1v2.1h-2.1zM174.5 104.4h2.1v2.1h-2.1zM175.7 103.3h2.1v2.1h-2.1zM176.9 101.3h2.1v2.1h-2.1zM178.1 103.5h2.1v2.1h-2.1zM179.3 101.1h2.1v2.1h-2.1zM180.5 103.1h2.1v2.1h-2.1zM181.7 101.3h2.1v2.1h-2.1zM182.9 99.4h2.1v2.1h-2.1zM184.2 104.3h2.1v2.1h-2.1zM185.4 102.6h2.1v2.1h-2.1zM186.6 104.5h2.1v2.1h-2.1zM187.8 100.8h2.1v2.1h-2.1zM189.0 102.4h2.1v2.1h-2.1zM190.2 95.1h2.1v2.1h-2.1zM191.4 96.8h2.1v2.1h-2.1zM192.6 100.5h2.1v2.1h-2.1zM193.9 103.9h2.1v2.1h-2.1zM195.1 101.7h2.1v2.1h-2.1zM196.3 101.8h2.1v2.1h-2.1zM197.5 97.2h2.1v2.1h-2.1zM198.7 101.7h2.1v2.1h-2.1zM199.9 102.4h2.1v2.1h-2.1zM201.1 104.4h2.1v2.1h-2.1zM202.3 99.0h2.1v2.1h-2.1zM203.6 99.0h2.1v2.1h-2.1zM204.8 100.8h2.1v2.1h-2.1zM206.0 104.7h2.1v2.1h-2.1zM207.2 98.6h2.1v2.1h-2.1zM208.4 102.2h2.1v2.1h-2.1zM209.6 101.5h2.1v2.1h-2.1zM210.8 100.9h2.1v2.1h-2.1zM212.0 100.8h2.1v2.1h-2.1zM213.2 98.4h2.1v2.1h-2.1z" fill="#8778B3" fill-opacity="0.6"/>
<path d="M32.7 105.2h2.1v2.1h-2.1zM33.9 104.4h2.1v2.1h-2.1zM35.1 103.3h2.1v2.1h-2.1zM36.3 106.6h2.1v2.1h-2.1zM37.5 102.4h2.1v2.1h-2.1zM38.7 103.3h2.1v2.1h-2.1zM39.9 105.6h2.1v2.1h-2.1zM41.1 105.6h2.1v2.1h-2.1zM42.4 104.2h2.1v2.1h-2.1zM43.6 102.5h2.1v2.1h-2.1zM44.8 104.5h2.1v2.1h-2.1zM46.0 105.1h2.1v2.1h-2.1zM47.2 106.1h2.1v2.1h-2.1zM48.4 105.0h2.1v2.1h-2.1zM49.6 103.9h2.1v2.1h-2.1zM50.8 106.1h2.1v2.1h-2.1zM52.1 103.8h2.1v2.1h-2.1zM53.3 106.3h2.1v2.1h-2.1zM54.5 104.4h2.1v2.1h-2.1zM55.7 104.4h2.1v2.1h-2.1zM56.9 105.3h2.1v2.1h-2.1zM58.1 105.0h2.1v2.1h-2.1zM59.3 106.8h2.1v2.1h-2.1zM60.5 104.3h2.1v2.1h-2.1zM61.8 105.7h2.1v2.1h-2.1zM63.0 105.9h2.1v2.1h-2.1zM64.2 105.2h2.1v2.1h-2.1zM65.4 104.1h2.1v2.1h-2.1zM66.6 103.7h2.1v2.1h-2.1zM67.8 105.3h2.1v2.1h-2.1zM69.0 106.2h2.1v2.1h-2.1zM70.2 105.5h2.1v2.1h-2.1zM71.4 106.5h2.1v2.1h-2.1zM72.7 108.4h2.1v2.1h-2.1zM73.9 104.6h2.1v2.1h-2.1zM75.1 104.1h2.1v2.1h-2.1zM76.3 104.6h2.1v2.1h-2.1zM77.5 104.1h2.1v2.1h-2.1zM78.7 104.1h2.1v2.1h-2.1zM79.9 106.7h2.1v2.1h-2.1zM81.1 104.0h2.1v2.1h-2.1zM82.4 103.1h2.1v2.1h-2.1zM83.6 104.5h2.1v2.1h-2.1zM84.8 105.3h2.1v2.1h-2.1zM86.0 105.0h2.1v2.1h-2.1zM87.2 105.7h2.1v2.1h-2.1zM88.4 105.0h2.1v2.1h-2.1zM89.6 106.9h2.1v2.1h-2.1zM90.8 104.9h2.1v2.1h-2.1zM92.0 104.3h2.1v2.1h-2.1zM93.3 104.3h2.1v2.1h-2.1zM94.5 106.5h2.1v2.1h-2.1zM95.7 105.2h2.1v2.1h-2.1zM96.9 105.2h2.1v2.1h-2.1zM98.1 102.7h2.1v2.1h-2.1zM99.3 106.0h2.1v2.1h-2.1zM100.5 104.0h2.1v2.1h-2.1zM101.7 106.1h2.1v2.1h-2.1zM103.0 106.0h2.1v2.1h-2.1zM104.2 106.5h2.1v2.1h-2.1zM105.4 104.7h2.1v2.1h-2.1zM106.6 107.1h2.1v2.1h-2.1zM107.8 103.1h2.1v2.1h-2.1zM109.0 106.7h2.1v2.1h-2.1zM110.2 103.9h2.1v2.1h-2.1zM111.4 105.6h2.1v2.1h-2.1zM112.7 108.3h2.1v2.1h-2.1zM113.9 106.9h2.1v2.1h-2.1zM115.1 104.3h2.1v2.1h-2.1zM116.3 108.7h2.1v2.1h-2.1zM117.5 106.0h2.1v2.1h-2.1zM118.7 103.7h2.1v2.1h-2.1zM119.9 104.9h2.1v2.1h-2.1zM121.1 105.7h2.1v2.1h-2.1zM122.4 105.6h2.1v2.1h-2.1zM123.6 104.0h2.1v2.1h-2.1zM124.8 102.2h2.1v2.1h-2.1zM126.0 103.8h2.1v2.1h-2.1zM127.2 107.2h2.1v2.1h-2.1zM128.4 105.4h2.1v2.1h-2.1zM129.6 107.1h2.1v2.1h-2.1zM130.8 104.9h2.1v2.1h-2.1zM132.0 102.7h2.1v2.1h-2.1zM133.3 104.1h2.1v2.1h-2.1zM134.5 104.8h2.1v2.1h-2.1zM135.7 105.2h2.1v2.1h-2.1zM136.9 107.9h2.1v2.1h-2.1zM138.1 106.2h2.1v2.1h-2.1zM139.3 104.9h2.1v2.1h-2.1zM140.5 103.1h2.1v2.1h-2.1zM141.7 105.9h2.1v2.1h-2.1zM143.0 105.3h2.1v2.1h-2.1zM144.2 104.3h2.1v2.1h-2.1zM145.4 108.7h2.1v2.1h-2.1zM146.6 105.4h2.1v2.1h-2.1zM147.8 106.0h2.1v2.1h-2.1zM149.0 102.9h2.1v2.1h-2.1zM150.2 105.4h2.1v2.1h-2.1zM151.4 106.5h2.1v2.1h-2.1zM152.6 104.8h2.1v2.1h-2.1zM153.9 98.2h2.1v2.1h-2.1zM155.1 105.1h2.1v2.1h-2.1zM156.3 105.3h2.1v2.1h-2.1zM157.5 103.7h2.1v2.1h-2.1zM158.7 105.1h2.1v2.1h-2.1zM159.9 102.6h2.1v2.1h-2.1zM161.1 103.4h2.1v2.1h-2.1zM162.3 98.9h2.1v2.1h-2.1zM163.6 104.5h2.1v2.1h-2.1zM164.8 104.1h2.1v2.1h-2.1zM166.0 102.6h2.1v2.1h-2.1zM167.2 104.0h2.1v2.1h-2.1zM168.4 105.3h2.1v2.1h-2.1zM169.6 106.9h2.1v2.1h-2.1zM170.8 103.8h2.1v2.1h-2.1zM172.0 103.7h2.1v2.1h-2.1zM173.3 104.7h2.1v2.1h-2.1zM174.5 102.6h2.1v2.1h-2.1zM175.7 101.9h2.1v2.1h-2.1zM176.9 106.9h2.1v2.1h-2.1zM178.1 103.6h2.1v2.1h-2.1zM179.3 104.1h2.1v2.1h-2.1zM180.5 103.5h2.1v2.1h-2.1zM181.7 102.6h2.1v2.1h-2.1zM182.9 106.5h2.1v2.1h-2.1zM184.2 104.4h2.1v2.1h-2.1zM185.4 102.5h2.1v2.1h-2.1zM186.6 102.3h2.1v2.1h-2.1zM187.8 103.7h2.1v2.1h-2.1zM189.0 104.3h2.1v2.1h-2.1zM190.2 104.4h2.1v2.1h-2.1zM191.4 106.8h2.1v2.1h-2.1zM192.6 106.2h2.1v2.1h-2.1zM193.9 102.6h2.1v2.1h-2.1zM195.1 104.4h2.1v2.1h-2.1zM196.3 105.7h2.1v2.1h-2.1zM197.5 106.4h2.1v2.1h-2.1zM198.7 105.1h2.1v2.1h-2.1zM199.9 103.0h2.1v2.1h-2.1zM201.1 104.6h2.1v2.1h-2.1zM202.3 98.8h2.1v2.1h-2.1zM203.6 105.5h2.1v2.1h-2.1zM204.8 105.2h2.1v2.1h-2.1zM206.0 106.2h2.1v2.1h-2.1zM207.2 104.3h2.1v2.1h-2.1zM208.4 104.6h2.1v2.1h-2.1zM209.6 106.5h2.1v2.1h-2.1zM210.8 106.0h2.1v2.1h-2.1zM212.0 104.6h2.1v2.1h-2.1zM213.2 106.2h2.1v2.1h-2.1z" fill="#8FB032" fill-opacity="0.6"/>
<path d="M32.7 104.2h2.1v2.1h-2.1zM33.9 102.8h2.1v2.1h-2.1zM35.1 102.5h2.1v2.1h-2.1zM36.3 104.4h2.1v2.1h-2.1zM37.5 103.9h2.1v2.1h-2.1zM38.7 102.3h2.1v2.1h-2.1zM39.9 105.6h2.1v2.1h-2.1zM41.1 106.9h2.1v2.1h-2.1zM42.4 107.4h2.1v2.1h-2.1zM43.6 105.7h2.1v2.1h-2.1zM44.8 104.6h2.1v2.1h-2.1zM46.0 105.3h2.1v2.1h-2.1zM47.2 106.4h2.1v2.1h-2.1zM48.4 105.3h2.1v2.1h-2.1zM49.6 108.9h2.1v2.1h-2.1zM50.8 105.3h2.1v2.1h-2.1zM52.1 104.1h2.1v2.1h-2.1zM53.3 104.8h2.1v2.1h-2.1zM54.5 103.5h2.1v2.1h-2.1zM55.7 103.7h2.1v2.1h-2.1zM56.9 104.7h2.1v2.1h-2.1zM58.1 106.6h2.1v2.1h-2.1zM59.3 107.6h2.1v2.1h-2.1zM60.5 104.2h2.1v2.1h-2.1zM61.8 106.4h2.1v2.1h-2.1zM63.0 104.3h2.1v2.1h-2.1zM64.2 105.0h2.1v2.1h-2.1zM65.4 105.0h2.1v2.1h-2.1zM66.6 104.7h2.1v2.1h-2.1zM67.8 104.3h2.1v2.1h-2.1zM69.0 103.2h2.1v2.1h-2.1zM70.2 105.3h2.1v2.1h-2.1zM71.4 105.0h2.1v2.1h-2.1zM72.7 102.4h2.1v2.1h-2.1zM73.9 104.5h2.1v2.1h-2.1zM75.1 104.7h2.1v2.1h-2.1zM76.3 104.7h2.1v2.1h-2.1zM77.5 104.5h2.1v2.1h-2.1zM78.7 103.7h2.1v2.1h-2.1zM79.9 105.1h2.1v2.1h-2.1zM81.1 104.1h2.1v2.1h-2.1zM82.4 103.1h2.1v2.1h-2.1zM83.6 103.2h2.1v2.1h-2.1zM84.8 104.4h2.1v2.1h-2.1zM86.0 104.9h2.1v2.1h-2.1zM87.2 102.7h2.1v2.1h-2.1zM88.4 103.9h2.1v2.1h-2.1zM89.6 105.0h2.1v2.1h-2.1zM90.8 105.1h2.1v2.1h-2.1zM92.0 105.3h2.1v2.1h-2.1zM93.3 105.5h2.1v2.1h-2.1zM94.5 102.3h2.1v2.1h-2.1zM95.7 105.7h2.1v2.1h-2.1zM96.9 106.5h2.1v2.1h-2.1zM98.1 105.3h2.1v2.1h-2.1zM99.3 104.8h2.1v2.1h-2.1zM100.5 96.5h2.1v2.1h-2.1zM101.7 104.9h2.1v2.1h-2.1zM103.0 105.2h2.1v2.1h-2.1zM104.2 104.2h2.1v2.1h-2.1zM105.4 104.2h2.1v2.1h-2.1zM106.6 103.4h2.1v2.1h-2.1zM107.8 105.7h2.1v2.1h-2.1zM109.0 105.2h2.1v2.1h-2.1zM110.2 102.5h2.1v2.1h-2.1zM111.4 103.6h2.1v2.1h-2.1zM112.7 107.3h2.1v2.1h-2.1zM113.9 104.3h2.1v2.1h-2.1zM115.1 104.7h2.1v2.1h-2.1zM116.3 107.0h2.1v2.1h-2.1zM117.5 104.4h2.1v2.1h-2.1zM118.7 96.1h2.1v2.1h-2.1zM119.9 105.2h2.1v2.1h-2.1zM121.1 104.4h2.1v2.1h-2.1zM122.4 107.1h2.1v2.1h-2.1zM123.6 106.5h2.1v2.1h-2.1zM124.8 104.9h2.1v2.1h-2.1zM126.0 103.8h2.1v2.1h-2.1zM127.2 105.2h2.1v2.1h-2.1zM128.4 105.3h2.1v2.1h-2.1zM129.6 105.1h2.1v2.1h-2.1zM130.8 104.0h2.1v2.1h-2.1zM132.0 105.7h2.1v2.1h-2.1zM133.3 103.6h2.1v2.1h-2.1zM134.5 95.9h2.1v2.1h-2.1zM135.7 103.4h2.1v2.1h-2.1zM136.9 105.8h2.1v2.1h-2.1zM138.1 103.4h2.1v2.1h-2.1zM139.3 106.0h2.1v2.1h-2.1zM140.5 103.0h2.1v2.1h-2.1zM141.7 104.1h2.1v2.1h-2.1zM143.0 104.6h2.1v2.1h-2.1zM144.2 104.4h2.1v2.1h-2.1zM145.4 106.7h2.1v2.1h-2.1zM146.6 103.9h2.1v2.1h-2.1zM147.8 103.2h2.1v2.1h-2.1zM149.0 101.6h2.1v2.1h-2.1zM150.2 102.0h2.1v2.1h-2.1zM151.4 105.6h2.1v2.1h-2.1zM152.6 103.0h2.1v2.1h-2.1zM153.9 106.9h2.1v2.1h-2.1zM155.1 105.7h2.1v2.1h-2.1zM156.3 106.3h2.1v2.1h-2.1zM157.5 107.2h2.1v2.1h-2.1zM158.7 105.0h2.1v2.1h-2.1zM159.9 104.7h2.1v2.1h-2.1zM161.1 105.1h2.1v2.1h-2.1zM162.3 105.2h2.1v2.1h-2.1zM163.6 103.9h2.1v2.1h-2.1zM164.8 103.0h2.1v2.1h-2.1zM166.0 104.5h2.1v2.1h-2.1zM167.2 103.1h2.1v2.1h-2.1zM168.4 103.9h2.1v2.1h-2.1zM169.6 105.1h2.1v2.1h-2.1zM170.8 99.4h2.1v2.1h-2.1zM172.0 104.4h2.1v2.1h-2.1zM173.3 102.5h2.1v2.1h-2.1zM174.5 104.5h2.1v2.1h-2.1zM175.7 104.2h2.1v2.1h-2.1zM176.9 102.9h2.1v2.1h-2.1zM178.1 103.1h2.1v2.1h-2.1zM179.3 104.9h2.1v2.1h-2.1zM180.5 105.2h2.1v2.1h-2.1zM181.7 102.4h2.1v2.1h-2.1zM182.9 103.0h2.1v2.1h-2.1zM184.2 102.5h2.1v2.1h-2.1zM185.4 105.0h2.1v2.1h-2.1zM186.6 104.9h2.1v2.1h-2.1zM187.8 103.5h2.1v2.1h-2.1zM189.0 102.4h2.1v2.1h-2.1zM190.2 103.9h2.1v2.1h-2.1zM191.4 104.5h2.1v2.1h-2.1zM192.6 106.8h2.1v2.1h-2.1zM193.9 103.8h2.1v2.1h-2.1zM195.1 103.6h2.1v2.1h-2.1zM196.3 105.4h2.1v2.1h-2.1zM197.5 99.5h2.1v2.1h-2.1zM198.7 104.2h2.1v2.1h-2.1zM199.9 105.1h2.1v2.1h-2.1zM201.1 104.5h2.1v2.1h-2.1zM202.3 104.8h2.1v2.1h-2.1zM203.6 103.8h2.1v2.1h-2.1zM204.8 103.1h2.1v2.1h-2.1zM206.0 105.5h2.1v2.1h-2.1zM207.2 106.0h2.1v2.1h-2.1zM208.4 107.6h2.1v2.1h-2.1zM209.6 99.6h2.1v2.1h-2.1zM210.8 105.5h2.1v2.1h-2.1zM212.0 105.7h2.1v2.1h-2.1zM213.2 105.3h2.1v2.1h-2.1z" fill="#929600" fill-opacity="0.6"/>
<path d="M32.7 102.7h2.1v2.1h-2.1zM33.9 101.7h2.1v2.1h-2.1zM35.1 104.2h2.1v2.1h-2.1zM36.3 106.4h2.1v2.1h-2.1zM37.5 104.1h2.1v2.1h-2.1zM38.7 105.4h2.1v2.1h-2.1zM39.9 103.9h2.1v2.1h-2.1zM41.1 103.6h2.1v2.1h-2.1zM42.4 104.0h2.1v2.1h-2.1zM43.6 104.4h2.1v2.1h-2.1zM44.8 104.7h2.1v2.1h-2.1zM46.0 105.9h2.1v2.1h-2.1zM47.2 105.4h2.1v2.1h-2.1zM48.4 105.9h2.1v2.1h-2.1zM49.6 93.8h2.1v2.1h-2.1zM50.8 104.8h2.1v2.1h-2.1zM52.1 104.0h2.1v2.1h-2.1zM53.3 104.1h2.1v2.1h-2.1zM54.5 104.5h2.1v2.1h-2.1zM55.7 105.8h2.1v2.1h-2.1zM56.9 103.4h2.1v2.1h-2.1zM58.1 104.4h2.1v2.1h-2.1zM59.3 103.4h2.1v2.1h-2.1zM60.5 102.2h2.1v2.1h-2.1zM61.8 103.6h2.1v2.1h-2.1zM63.0 103.8h2.1v2.1h-2.1zM64.2 104.9h2.1v2.1h-2.1zM65.4 105.2h2.1v2.1h-2.1zM66.6 103.8h2.1v2.1h-2.1zM67.8 104.4h2.1v2.1h-2.1zM69.0 104.5h2.1v2.1h-2.1zM70.2 104.9h2.1v2.1h-2.1zM71.4 104.8h2.1v2.1h-2.1zM72.7 103.9h2.1v2.1h-2.1zM73.9 104.4h2.1v2.1h-2.1zM75.1 107.2h2.1v2.1h-2.1zM76.3 105.0h2.1v2.1h-2.1zM77.5 105.1h2.1v2.1h-2.1zM78.7 104.4h2.1v2.1h-2.1zM79.9 104.0h2.1v2.1h-2.1zM81.1 105.3h2.1v2.1h-2.1zM82.4 104.3h2.1v2.1h-2.1zM83.6 105.5h2.1v2.1h-2.1zM84.8 102.8h2.1v2.1h-2.1zM86.0 101.9h2.1v2.1h-2.1zM87.2 104.9h2.1v2.1h-2.1zM88.4 103.1h2.1v2.1h-2.1zM89.6 104.6h2.1v2.1h-2.1zM90.8 104.5h2.1v2.1h-2.1zM92.0 105.8h2.1v2.1h-2.1zM93.3 105.5h2.1v2.1h-2.1zM94.5 102.7h2.1v2.1h-2.1zM95.7 104.3h2.1v2.1h-2.1zM96.9 105.1h2.1v2.1h-2.1zM98.1 103.4h2.1v2.1h-2.1zM99.3 105.6h2.1v2.1h-2.1zM100.5 102.0h2.1v2.1h-2.1zM101.7 103.3h2.1v2.1h-2.1zM103.0 105.1h2.1v2.1h-2.1zM104.2 104.3h2.1v2.1h-2.1zM105.4 103.5h2.1v2.1h-2.1zM106.6 104.5h2.1v2.1h-2.1zM107.8 102.8h2.1v2.1h-2.1zM109.0 105.9h2.1v2.1h-2.1zM110.2 106.2h2.1v2.1h-2.1zM111.4 104.0h2.1v2.1h-2.1zM112.7 105.0h2.1v2.1h-2.1zM113.9 104.9h2.1v2.1h-2.1zM115.1 103.9h2.1v2.1h-2.1zM116.3 104.4h2.1v2.1h-2.1zM117.5 101.9h2.1v2.1h-2.1zM118.7 103.7h2.1v2.1h-2.1zM119.9 105.1h2.1v2.1h-2.1zM121.1 101.9h2.1v2.1h-2.1zM122.4 97.2h2.1v2.1h-2.1zM123.6 104.9h2.1v2.1h-2.1zM124.8 104.6h2.1v2.1h-2.1zM126.0 106.1h2.1v2.1h-2.1zM127.2 101.0h2.1v2.1h-2.1zM128.4 102.7h2.1v2.1h-2.1zM129.6 105.1h2.1v2.1h-2.1zM130.8 102.4h2.1v2.1h-2.1zM132.0 102.9h2.1v2.1h-2.1zM133.3 104.4h2.1v2.1h-2.1zM134.5 103.3h2.1v2.1h-2.1zM135.7 101.0h2.1v2.1h-2.1zM136.9 105.7h2.1v2.1h-2.1zM138.1 105.9h2.1v2.1h-2.1zM139.3 103.2h2.1v2.1h-2.1zM140.5 105.0h2.1v2.1h-2.1zM141.7 103.9h2.1v2.1h-2.1zM143.0 104.3h2.1v2.1h-2.1zM144.2 105.2h2.1v2.1h-2.1zM145.4 103.0h2.1v2.1h-2.1zM146.6 103.2h2.1v2.1h-2.1zM147.8 102.5h2.1v2.1h-2.1zM149.0 103.9h2.1v2.1h-2.1zM150.2 104.6h2.1v2.1h-2.1zM151.4 104.0h2.1v2.1h-2.1zM152.6 96.1h2.1v2.1h-2.1zM153.9 105.6h2.1v2.1h-2.1zM155.1 103.2h2.1v2.1h-2.1zM156.3 103.9h2.1v2.1h-2.1zM157.5 105.3h2.1v2.1h-2.1zM158.7 104.7h2.1v2.1h-2.1zM159.9 103.2h2.1v2.1h-2.1zM161.1 102.2h2.1v2.1h-2.1zM162.3 103.0h2.1v2.1h-2.1zM163.6 103.2h2.1v2.1h-2.1zM164.8 103.7h2.1v2.1h-2.1zM166.0 103.7h2.1v2.1h-2.1zM167.2 104.2h2.1v2.1h-2.1zM168.4 103.1h2.1v2.1h-2.1zM169.6 102.6h2.1v2.1h-2.1zM170.8 101.6h2.1v2.1h-2.1zM172.0 103.4h2.1v2.1h-2.1zM173.3 103.0h2.1v2.1h-2.1zM174.5 101.2h2.1v2.1h-2.1zM175.7 105.3h2.1v2.1h-2.1zM176.9 104.2h2.1v2.1h-2.1zM178.1 102.8h2.1v2.1h-2.1zM179.3 103.4h2.1v2.1h-2.1zM180.5 105.0h2.1v2.1h-2.1zM181.7 104.6h2.1v2.1h-2.1zM182.9 102.5h2.1v2.1h-2.1zM184.2 104.4h2.1v2.1h-2.1zM185.4 102.1h2.1v2.1h-2.1zM186.6 104.6h2.1v2.1h-2.1zM187.8 102.8h2.1v2.1h-2.1zM189.0 106.4h2.1v2.1h-2.1zM190.2 102.2h2.1v2.1h-2.1zM191.4 104.1h2.1v2.1h-2.1zM192.6 102.4h2.1v2.1h-2.1zM193.9 105.7h2.1v2.1h-2.1zM195.1 105.0h2.1v2.1h-2.1zM196.3 103.4h2.1v2.1h-2.1zM197.5 103.5h2.1v2.1h-2.1zM198.7 104.0h2.1v2.1h-2.1zM199.9 105.9h2.1v2.1h-2.1zM201.1 104.5h2.1v2.1h-2.1zM202.3 101.5h2.1v2.1h-2.1zM203.6 104.8h2.1v2.1h-2.1zM204.8 103.2h2.1v2.1h-2.1zM206.0 103.8h2.1v2.1h-2.1zM207.2 101.2h2.1v2.1h-2.1zM208.4 100.6h2.1v2.1h-2.1zM209.6 104.4h2.1v2.1h-2.1zM210.8 102.9h2.1v2.1h-2.1zM212.0 101.3h2.1v2.1h-2.1zM213.2 106.0h2.1v2.1h-2.1z" fill="#5D9EC7" fill-opacity="0.6"/>
<path d="M32.7 103.3h2.1v2.1h-2.1zM33.9 101.4h2.1v2.1h-2.1zM35.1 103.1h2.1v2.1h-2.1zM36.3 103.8h2.1v2.1h-2.1zM37.5 102.5h2.1v2.1h-2.1zM38.7 104.8h2.1v2.1h-2.1zM39.9 104.1h2.1v2.1h-2.1zM41.1 102.0h2.1v2.1h-2.1zM42.4 103.7h2.1v2.1h-2.1zM43.6 104.0h2.1v2.1h-2.1zM44.8 105.5h2.1v2.1h-2.1zM46.0 96.2h2.1v2.1h-2.1zM47.2 104.9h2.1v2.1h-2.1zM48.4 102.8h2.1v2.1h-2.1zM49.6 103.1h2.1v2.1h-2.1zM50.8 103.8h2.1v2.1h-2.1zM52.1 94.5h2.1v2.1h-2.1zM53.3 103.8h2.1v2.1h-2.1zM54.5 102.1h2.1v2.1h-2.1zM55.7 103.6h2.1v2.1h-2.1zM56.9 105.6h2.1v2.1h-2.1zM58.1 104.7h2.1v2.1h-2.1zM59.3 106.5h2.1v2.1h-2.1zM60.5 104.2h2.1v2.1h-2.1zM61.8 104.4h2.1v2.1h-2.1zM63.0 106.1h2.1v2.1h-2.1zM64.2 105.6h2.1v2.1h-2.1zM65.4 104.9h2.1v2.1h-2.1zM66.6 102.0h2.1v2.1h-2.1zM67.8 103.4h2.1v2.1h-2.1zM69.0 103.8h2.1v2.1h-2.1zM70.2 104.4h2.1v2.1h-2.1zM71.4 103.4h2.1v2.1h-2.1zM72.7 104.4h2.1v2.1h-2.1zM73.9 104.1h2.1v2.1h-2.1zM75.1 105.7h2.1v2.1h-2.1zM76.3 104.0h2.1v2.1h-2.1zM77.5 104.2h2.1v2.1h-2.1zM78.7 102.5h2.1v2.1h-2.1zM79.9 105.7h2.1v2.1h-2.1zM81.1 104.7h2.1v2.1h-2.1zM82.4 106.2h2.1v2.1h-2.1zM83.6 104.5h2.1v2.1h-2.1zM84.8 104.2h2.1v2.1h-2.1zM86.0 101.9h2.1v2.1h-2.1zM87.2 102.4h2.1v2.1h-2.1zM88.4 105.1h2.1v2.1h-2.1zM89.6 103.8h2.1v2.1h-2.1zM90.8 104.8h2.1v2.1h-2.1zM92.0 102.9h2.1v2.1h-2.1zM93.3 106.7h2.1v2.1h-2.1zM94.5 105.9h2.1v2.1h-2.1zM95.7 103.7h2.1v2.1h-2.1zM96.9 105.0h2.1v2.1h-2.1zM98.1 105.3h2.1v2.1h-2.1zM99.3 105.6h2.1v2.1h-2.1zM100.5 104.2h2.1v2.1h-2.1zM101.7 103.9h2.1v2.1h-2.1zM103.0 104.4h2.1v2.1h-2.1zM104.2 106.7h2.1v2.1h-2.1zM105.4 104.0h2.1v2.1h-2.1zM106.6 101.8h2.1v2.1h-2.1zM107.8 101.4h2.1v2.1h-2.1zM109.0 102.0h2.1v2.1h-2.1zM110.2 106.3h2.1v2.1h-2.1zM111.4 103.8h2.1v2.1h-2.1zM112.7 104.3h2.1v2.1h-2.1zM113.9 102.5h2.1v2.1h-2.1zM115.1 104.6h2.1v2.1h-2.1zM116.3 104.7h2.1v2.1h-2.1zM117.5 103.6h2.1v2.1h-2.1zM118.7 100.8h2.1v2.1h-2.1zM119.9 102.7h2.1v2.1h-2.1zM121.1 106.3h2.1v2.1h-2.1zM122.4 102.1h2.1v2.1h-2.1zM123.6 103.1h2.1v2.1h-2.1zM124.8 103.6h2.1v2.1h-2.1zM126.0 103.9h2.1v2.1h-2.1zM127.2 100.8h2.1v2.1h-2.1zM128.4 106.5h2.1v2.1h-2.1zM129.6 104.9h2.1v2.1h-2.1zM130.8 105.6h2.1v2.1h-2.1zM132.0 101.3h2.1v2.1h-2.1zM133.3 102.7h2.1v2.1h-2.1zM134.5 104.7h2.1v2.1h-2.1zM135.7 103.6h2.1v2.1h-2.1zM136.9 99.1h2.1v2.1h-2.1zM138.1 103.9h2.1v2.1h-2.1zM139.3 103.6h2.1v2.1h-2.1zM140.5 102.8h2.1v2.1h-2.1zM141.7 93.9h2.1v2.1h-2.1zM143.0 104.7h2.1v2.1h-2.1zM144.2 103.9h2.1v2.1h-2.1zM145.4 105.5h2.1v2.1h-2.1zM146.6 101.9h2.1v2.1h-2.1zM147.8 102.8h2.1v2.1h-2.1zM149.0 102.0h2.1v2.1h-2.1zM150.2 104.7h2.1v2.1h-2.1zM151.4 101.3h2.1v2.1h-2.1zM152.6 104.3h2.1v2.1h-2.1zM153.9 101.9h2.1v2.1h-2.1zM155.1 103.5h2.1v2.1h-2.1zM156.3 96.8h2.1v2.1h-2.1zM157.5 104.5h2.1v2.1h-2.1zM158.7 101.9h2.1v2.1h-2.1zM159.9 103.9h2.1v2.1h-2.1zM161.1 102.2h2.1v2.1h-2.1zM162.3 103.8h2.1v2.1h-2.1zM163.6 102.5h2.1v2.1h-2.1zM164.8 103.6h2.1v2.1h-2.1zM166.0 104.5h2.1v2.1h-2.1zM167.2 103.0h2.1v2.1h-2.1zM168.4 104.1h2.1v2.1h-2.1zM169.6 102.4h2.1v2.1h-2.1zM170.8 105.8h2.1v2.1h-2.1zM172.0 102.6h2.1v2.1h-2.1zM173.3 103.1h2.1v2.1h-2.1zM174.5 97.4h2.1v2.1h-2.1zM175.7 102.8h2.1v2.1h-2.1zM176.9 104.4h2.1v2.1h-2.1zM178.1 103.9h2.1v2.1h-2.1zM179.3 102.0h2.1v2.1h-2.1zM180.5 104.2h2.1v2.1h-2.1zM181.7 101.3h2.1v2.1h-2.1zM182.9 105.9h2.1v2.1h-2.1zM184.2 105.2h2.1v2.1h-2.1zM185.4 102.2h2.1v2.1h-2.1zM186.6 102.1h2.1v2.1h-2.1zM187.8 103.6h2.1v2.1h-2.1zM189.0 104.5h2.1v2.1h-2.1zM190.2 104.3h2.1v2.1h-2.1zM191.4 104.1h2.1v2.1h-2.1zM192.6 104.1h2.1v2.1h-2.1zM193.9 100.0h2.1v2.1h-2.1zM195.1 104.2h2.1v2.1h-2.1zM196.3 104.6h2.1v2.1h-2.1zM197.5 104.6h2.1v2.1h-2.1zM198.7 104.4h2.1v2.1h-2.1zM199.9 100.9h2.1v2.1h-2.1zM201.1 103.8h2.1v2.1h-2.1zM202.3 103.4h2.1v2.1h-2.1zM203.6 104.2h2.1v2.1h-2.1zM204.8 101.1h2.1v2.1h-2.1zM206.0 101.8h2.1v2.1h-2.1zM207.2 103.8h2.1v2.1h-2.1zM208.4 103.7h2.1v2.1h-2.1zM209.6 101.8h2.1v2.1h-2.1zM210.8 105.3h2.1v2.1h-2.1zM212.0 101.7h2.1v2.1h-2.1zM213.2 103.3h2.1v2.1h-2.1z" fill="#FFBF00" fill-opacity="0.6"/>
<path d="M32.7 104.6h2.1v2.1h-2.1zM33.9 104.1h2.1v2.1h-2.1zM35.1 105.8h2.1v2.1h-2.1zM36.3 104.9h2.1v2.1h-2.1zM37.5 104.4h2.1v2.1h-2.1zM38.7 104.4h2.1v2.1h-2.1zM39.9 101.0h2.1v2.1h-2.1zM41.1 95.7h2.1v2.1h-2.1zM42.4 103.1h2.1v2.1h-2.1zM43.6 102.0h2.1v2.1h-2.1zM44.8 103.9h2.1v2.1h-2.1zM46.0 102.0h2.1v2.1h-2.1zM47.2 103.2h2.1v2.1h-2.1zM48.4 104.0h2.1v2.1h-2.1zM49.6 102.8h2.1v2.1h-2.1zM50.8 102.2h2.1v2.1h-2.1zM52.1 103.4h2.1v2.1h-2.1zM53.3 102.6h2.1v2.1h-2.1zM54.5 104.1h2.1v2.1h-2.1zM55.7 103.5h2.1v2.1h-2.1zM56.9 103.5h2.1v2.1h-2.1zM58.1 101.8h2.1v2.1h-2.1zM59.3 103.1h2.1v2.1h-2.1zM60.5 102.7h2.1v2.1h-2.1zM61.8 105.6h2.1v2.1h-2.1zM63.0 100.8h2.1v2.1h-2.1zM64.2 104.3h2.1v2.1h-2.1zM65.4 102.5h2.1v2.1h-2.1zM66.6 103.3h2.1v2.1h-2.1zM67.8 103.8h2.1v2.1h-2.1zM69.0 103.3h2.1v2.1h-2.1zM70.2 102.6h2.1v2.1h-2.1zM71.4 103.1h2.1v2.1h-2.1zM72.7 105.2h2.1v2.1h-2.1zM73.9 105.0h2.1v2.1h-2.1zM75.1 102.4h2.1v2.1h-2.1zM76.3 103.2h2.1v2.1h-2.1zM77.5 103.3h2.1v2.1h-2.1zM78.7 104.6h2.1v2.1h-2.1zM79.9 102.0h2.1v2.1h-2.1zM81.1 103.7h2.1v2.1h-2.1zM82.4 101.8h2.1v2.1h-2.1zM83.6 104.4h2.1v2.1h-2.1zM84.8 104.8h2.1v2.1h-2.1zM86.0 103.6h2.1v2.1h-2.1zM87.2 104.2h2.1v2.1h-2.1zM88.4 105.0h2.1v2.1h-2.1zM89.6 101.4h2.1v2.1h-2.1zM90.8 104.7h2.1v2.1h-2.1zM92.0 102.9h2.1v2.1h-2.1zM93.3 103.8h2.1v2.1h-2.1zM94.5 103.7h2.1v2.1h-2.1zM95.7 103.6h2.1v2.1h-2.1zM96.9 103.1h2.1v2.1h-2.1zM98.1 105.4h2.1v2.1h-2.1zM99.3 104.2h2.1v2.1h-2.1zM100.5 104.3h2.1v2.1h-2.1zM101.7 105.2h2.1v2.1h-2.1zM103.0 105.6h2.1v2.1h-2.1zM104.2 104.0h2.1v2.1h-2.1zM105.4 94.9h2.1v2.1h-2.1zM106.6 104.7h2.1v2.1h-2.1zM107.8 105.9h2.1v2.1h-2.1zM109.0 102.5h2.1v2.1h-2.1zM110.2 105.9h2.1v2.1h-2.1zM111.4 104.0h2.1v2.1h-2.1zM112.7 103.4h2.1v2.1h-2.1zM113.9 102.6h2.1v2.1h-2.1zM115.1 103.8h2.1v2.1h-2.1zM116.3 101.5h2.1v2.1h-2.1zM117.5 104.2h2.1v2.1h-2.1zM118.7 104.0h2.1v2.1h-2.1zM119.9 101.9h2.1v2.1h-2.1zM121.1 102.2h2.1v2.1h-2.1zM122.4 104.1h2.1v2.1h-2.1zM123.6 102.3h2.1v2.1h-2.1zM124.8 103.0h2.1v2.1h-2.1zM126.0 102.7h2.1v2.1h-2.1zM127.2 105.5h2.1v2.1h-2.1zM128.4 103.9h2.1v2.1h-2.1zM129.6 103.3h2.1v2.1h-2.1zM130.8 104.1h2.1v2.1h-2.1zM132.0 103.0h2.1v2.1h-2.1zM133.3 103.0h2.1v2.1h-2.1zM134.5 103.0h2.1v2.1h-2.1zM135.7 102.5h2.1v2.1h-2.1zM136.9 105.0h2.1v2.1h-2.1zM138.1 102.8h2.1v2.1h-2.1zM139.3 102.4h2.1v2.1h-2.1zM140.5 104.4h2.1v2.1h-2.1zM141.7 104.8h2.1v2.1h-2.1zM143.0 105.6h2.1v2.1h-2.1zM144.2 102.2h2.1v2.1h-2.1zM145.4 103.3h2.1v2.1h-2.1zM146.6 102.9h2.1v2.1h-2.1zM147.8 102.5h2.1v2.1h-2.1zM149.0 100.5h2.1v2.1h-2.1zM150.2 102.3h2.1v2.1h-2.1zM151.4 99.4h2.1v2.1h-2.1zM152.6 103.2h2.1v2.1h-2.1zM153.9 101.4h2.1v2.1h-2.1zM155.1 103.6h2.1v2.1h-2.1zM156.3 101.5h2.1v2.1h-2.1zM157.5 103.4h2.1v2.1h-2.1zM158.7 100.6h2.1v2.1h-2.1zM159.9 105.1h2.1v2.1h-2.1zM161.1 100.6h2.1v2.1h-2.1zM162.3 104.0h2.1v2.1h-2.1zM163.6 104.2h2.1v2.1h-2.1zM164.8 104.0h2.1v2.1h-2.1zM166.0 103.9h2.1v2.1h-2.1zM167.2 101.9h2.1v2.1h-2.1zM168.4 101.5h2.1v2.1h-2.1zM169.6 101.0h2.1v2.1h-2.1zM170.8 104.3h2.1v2.1h-2.1zM172.0 105.8h2.1v2.1h-2.1zM173.3 105.2h2.1v2.1h-2.1zM174.5 103.9h2.1v2.1h-2.1zM175.7 102.1h2.1v2.1h-2.1zM176.9 104.9h2.1v2.1h-2.1zM178.1 105.3h2.1v2.1h-2.1zM179.3 102.0h2.1v2.1h-2.1zM180.5 103.1h2.1v2.1h-2.1zM181.7 104.8h2.1v2.1h-2.1zM182.9 103.7h2.1v2.1h-2.1zM184.2 104.0h2.1v2.1h-2.1zM185.4 104.8h2.1v2.1h-2.1zM186.6 102.3h2.1v2.1h-2.1zM187.8 102.3h2.1v2.1h-2.1zM189.0 103.7h2.1v2.1h-2.1zM190.2 101.6h2.1v2.1h-2.1zM191.4 102.3h2.1v2.1h-2.1zM192.6 101.2h2.1v2.1h-2.1zM193.9 103.4h2.1v2.1h-2.1zM195.1 102.4h2.1v2.1h-2.1zM196.3 104.1h2.1v2.1h-2.1zM197.5 103.4h2.1v2.1h-2.1zM198.7 104.4h2.1v2.1h-2.1zM199.9 104.4h2.1v2.1h-2.1zM201.1 105.3h2.1v2.1h-2.1zM202.3 102.8h2.1v2.1h-2.1zM203.6 106.4h2.1v2.1h-2.1zM204.8 105.1h2.1v2.1h-2.1zM206.0 103.2h2.1v2.1h-2.1zM207.2 104.4h2.1v2.1h-2.1zM208.4 103.5h2.1v2.1h-2.1zM209.6 105.4h2.1v2.1h-2.1zM210.8 101.7h2.1v2.1h-2.1zM212.0 103.5h2.1v2.1h-2.1zM213.2 97.3h2.1v2.1h-2.1z" fill="#C56E1A" fill-opacity="0.6"/>
<path d="M32.7 104.6h2.1v2.1h-2.1zM33.9 106.1h2.1v2.1h-2.1zM35.1 104.4h2.1v2.1h-2.1zM36.3 106.1h2.1v2.1h-2.1zM37.5 105.1h2.1v2.1h-2.1zM38.7 105.7h2.1v2.1h-2.1zM39.9 104.7h2.1v2.1h-2.1zM41.1 105.6h2.1v2.1h-2.1zM42.4 103.5h2.1v2.1h-2.1zM43.6 102.9h2.1v2.1h-2.1zM44.8 103.6h2.1v2.1h-2.1zM46.0 104.8h2.1v2.1h-2.1zM47.2 108.7h2.1v2.1h-2.1zM48.4 104.7h2.1v2.1h-2.1zM49.6 100.6h2.1v2.1h-2.1zM50.8 104.1h2.1v2.1h-2.1zM52.1 105.2h2.1v2.1h-2.1zM53.3 105.4h2.1v2.1h-2.1zM54.5 106.8h2.1v2.1h-2.1zM55.7 103.3h2.1v2.1h-2.1zM56.9 105.9h2.1v2.1h-2.1zM58.1 104.0h2.1v2.1h-2.1zM59.3 105.7h2.1v2.1h-2.1zM60.5 101.3h2.1v2.1h-2.1zM61.8 106.8h2.1v2.1h-2.1zM63.0 105.0h2.1v2.1h-2.1zM64.2 105.4h2.1v2.1h-2.1zM65.4 104.2h2.1v2.1h-2.1zM66.6 105.5h2.1v2.1h-2.1zM67.8 103.7h2.1v2.1h-2.1zM69.0 105.4h2.1v2.1h-2.1zM70.2 105.3h2.1v2.1h-2.1zM71.4 104.0h2.1v2.1h-2.1zM72.7 100.6h2.1v2.1h-2.1zM73.9 104.3h2.1v2.1h-2.1zM75.1 102.2h2.1v2.1h-2.1zM76.3 104.4h2.1v2.1h-2.1zM77.5 101.6h2.1v2.1h-2.1zM78.7 105.5h2.1v2.1h-2.1zM79.9 103.8h2.1v2.1h-2.1zM81.1 105.9h2.1v2.1h-2.1zM82.4 104.8h2.1v2.1h-2.1zM83.6 97.7h2.1v2.1h-2.1zM84.8 102.1h2.1v2.1h-2.1zM86.0 104.3h2.1v2.1h-2.1zM87.2 103.9h2.1v2.1h-2.1zM88.4 104.1h2.1v2.1h-2.1zM89.6 101.2h2.1v2.1h-2.1zM90.8 104.9h2.1v2.1h-2.1zM92.0 102.8h2.1v2.1h-2.1zM93.3 103.2h2.1v2.1h-2.1zM94.5 105.7h2.1v2.1h-2.1zM95.7 104.2h2.1v2.1h-2.1zM96.9 103.0h2.1v2.1h-2.1zM98.1 102.9h2.1v2.1h-2.1zM99.3 105.0h2.1v2.1h-2.1zM100.5 103.9h2.1v2.1h-2.1zM101.7 105.3h2.1v2.1h-2.1zM103.0 104.2h2.1v2.1h-2.1zM104.2 103.4h2.1v2.1h-2.1zM105.4 104.0h2.1v2.1h-2.1zM106.6 102.3h2.1v2.1h-2.1zM107.8 103.1h2.1v2.1h-2.1zM109.0 104.3h2.1v2.1h-2.1zM110.2 105.1h2.1v2.1h-2.1zM111.4 104.3h2.1v2.1h-2.1zM112.7 104.0h2.1v2.1h-2.1zM113.9 104.0h2.1v2.1h-2.1zM115.1 103.9h2.1v2.1h-2.1zM116.3 103.3h2.1v2.1h-2.1zM117.5 103.1h2.1v2.1h-2.1zM118.7 102.7h2.1v2.1h-2.1zM119.9 105.7h2.1v2.1h-2.1zM121.1 103.4h2.1v2.1h-2.1zM122.4 103.6h2.1v2.1h-2.1zM123.6 104.7h2.1v2.1h-2.1zM124.8 102.2h2.1v2.1h-2.1zM126.0 102.0h2.1v2.1h-2.1zM127.2 104.0h2.1v2.1h-2.1zM128.4 99.2h2.1v2.1h-2.1zM129.6 101.2h2.1v2.1h-2.1zM130.8 103.4h2.1v2.1h-2.1zM132.0 103.3h2.1v2.1h-2.1zM133.3 101.9h2.1v2.1h-2.1zM134.5 102.9h2.1v2.1h-2.1zM135.7 103.6h2.1v2.1h-2.1zM136.9 98.7h2.1v2.1h-2.1zM138.1 99.7h2.1v2.1h-2.1zM139.3 99.7h2.1v2.1h-2.1zM140.5 98.9h2.1v2.1h-2.1zM141.7 101.5h2.1v2.1h-2.1zM143.0 98.8h2.1v2.1h-2.1zM144.2 104.6h2.1v2.1h-2.1zM145.4 99.9h2.1v2.1h-2.1zM146.6 103.0h2.1v2.1h-2.1zM147.8 101.4h2.1v2.1h-2.1zM149.0 104.7h2.1v2.1h-2.1zM150.2 101.1h2.1v2.1h-2.1zM151.4 100.5h2.1v2.1h-2.1zM152.6 92.2h2.1v2.1h-2.1zM153.9 92.3h2.1v2.1h-2.1zM155.1 101.9h2.1v2.1h-2.1zM156.3 98.2h2.1v2.1h-2.1zM157.5 100.5h2.1v2.1h-2.1zM158.7 100.9h2.1v2.1h-2.1zM159.9 104.8h2.1v2.1h-2.1zM161.1 100.6h2.1v2.1h-2.1zM162.3 104.1h2.1v2.1h-2.1zM163.6 100.3h2.1v2.1h-2.1zM164.8 101.0h2.1v2.1h-2.1zM166.0 104.2h2.1v2.1h-2.1zM167.2 100.8h2.1v2.1h-2.1zM168.4 104.7h2.1v2.1h-2.1zM169.6 99.5h2.1v2.1h-2.1zM170.8 97.8h2.1v2.1h-2.1zM172.0 101.8h2.1v2.1h-2.1zM173.3 102.9h2.1v2.1h-2.1zM174.5 102.0h2.1v2.1h-2.1zM175.7 101.5h2.1v2.1h-2.1zM176.9 98.7h2.1v2.1h-2.1zM178.1 102.8h2.1v2.1h-2.1zM179.3 100.9h2.1v2.1h-2.1zM180.5 100.2h2.1v2.1h-2.1zM181.7 102.6h2.1v2.1h-2.1zM182.9 104.0h2.1v2.1h-2.1zM184.2 100.3h2.1v2.1h-2.1zM185.4 100.3h2.1v2.1h-2.1zM186.6 104.5h2.1v2.1h-2.1zM187.8 104.2h2.1v2.1h-2.1zM189.0 100.5h2.1v2.1h-2.1zM190.2 103.7h2.1v2.1h-2.1zM191.4 100.2h2.1v2.1h-2.1zM192.6 99.9h2.1v2.1h-2.1zM193.9 101.4h2.1v2.1h-2.1zM195.1 98.7h2.1v2.1h-2.1zM196.3 98.2h2.1v2.1h-2.1zM197.5 101.6h2.1v2.1h-2.1zM198.7 101.1h2.1v2.1h-2.1zM199.9 102.9h2.1v2.1h-2.1zM201.1 97.0h2.1v2.1h-2.1zM202.3 100.9h2.1v2.1h-2.1zM203.6 102.6h2.1v2.1h-2.1zM204.8 103.2h2.1v2.1h-2.1zM206.0 99.9h2.1v2.1h-2.1zM207.2 102.0h2.1v2.1h-2.1zM208.4 102.4h2.1v2.1h-2.1zM209.6 103.8h2.1v2.1h-2.1zM210.8 102.8h2.1v2.1h-2.1zM212.0 98.5h2.1v2.1h-2.1zM213.2 102.7h2.1v2.1h-2.1z" fill="#5E81B5" fill-opacity="0.6"/>
<path d="M32.7 102.9h2.1v2.1h-2.1zM33.9 106.6h2.1v2.1h-2.1zM35.1 105.8h2.1v2.1h-2.1zM36.3 102.5h2.1v2.1h-2.1zM37.5 104.4h2.1v2.1h-2.1zM38.7 105.7h2.1v2.1h-2.1zM39.9 105.8h2.1v2.1h-2.1zM41.1 105.3h2.1v2.1h-2.1zM42.4 103.6h2.1v2.1h-2.1zM43.6 103.3h2.1v2.1h-2.1zM44.8 97.0h2.1v2.1h-2.1zM46.0 104.0h2.1v2.1h-2.1zM47.2 105.2h2.1v2.1h-2.1zM48.4 104.5h2.1v2.1h-2.1zM49.6 104.8h2.1v2.1h-2.1zM50.8 103.3h2.1v2.1h-2.1zM52.1 104.7h2.1v2.1h-2.1zM53.3 102.9h2.1v2.1h-2.1zM54.5 101.9h2.1v2.1h-2.1zM55.7 104.7h2.1v2.1h-2.1zM56.9 103.0h2.1v2.1h-2.1zM58.1 104.3h2.1v2.1h-2.1zM59.3 103.5h2.1v2.1h-2.1zM60.5 104.2h2.1v2.1h-2.1zM61.8 105.2h2.1v2.1h-2.1zM63.0 104.6h2.1v2.1h-2.1zM64.2 106.3h2.1v2.1h-2.1zM65.4 105.4h2.1v2.1h-2.1zM66.6 102.9h2.1v2.1h-2.1zM67.8 97.3h2.1v2.1h-2.1zM69.0 102.2h2.1v2.1h-2.1zM70.2 105.2h2.1v2.1h-2.1zM71.4 103.2h2.1v2.1h-2.1zM72.7 102.7h2.1v2.1h-2.1zM73.9 102.3h2.1v2.1h-2.1zM75.1 106.7h2.1v2.1h-2.1zM76.3 102.1h2.1v2.1h-2.1zM77.5 105.1h2.1v2.1h-2.1zM78.7 100.8h2.1v2.1h-2.1zM79.9 105.8h2.1v2.1h-2.1zM81.1 104.3h2.1v2.1h-2.1zM82.4 104.9h2.1v2.1h-2.1zM83.6 102.0h2.1v2.1h-2.1zM84.8 104.1h2.1v2.1h-2.1zM86.0 104.4h2.1v2.1h-2.1zM87.2 104.1h2.1v2.1h-2.1zM88.4 103.1h2.1v2.1h-2.1zM89.6 102.3h2.1v2.1h-2.1zM90.8 103.6h2.1v2.1h-2.1zM92.0 102.1h2.1v2.1h-2.1zM93.3 102.7h2.1v2.1h-2.1zM94.5 105.0h2.1v2.1h-2.1zM95.7 103.8h2.1v2.1h-2.1zM96.9 97.3h2.1v2.1h-2.1zM98.1 104.1h2.1v2.1h-2.1zM99.3 103.6h2.1v2.1h-2.1zM100.5 104.4h2.1v2.1h-2.1zM101.7 103.6h2.1v2.1h-2.1zM103.0 103.4h2.1v2.1h-2.1zM104.2 102.2h2.1v2.1h-2.1zM105.4 103.9h2.1v2.1h-2.1zM106.6 104.7h2.1v2.1h-2.1zM107.8 103.8h2.1v2.1h-2.1zM109.0 104.0h2.1v2.1h-2.1zM110.2 104.2h2.1v2.1h-2.1zM111.4 103.7h2.1v2.1h-2.1zM112.7 105.4h2.1v2.1h-2.1zM113.9 105.0h2.1v2.1h-2.1zM115.1 100.7h2.1v2.1h-2.1zM116.3 100.6h2.1v2.1h-2.1zM117.5 103.1h2.1v2.1h-2.1zM118.7 102.3h2.1v2.1h-2.1zM119.9 104.4h2.1v2.1h-2.1zM121.1 105.5h2.1v2.1h-2.1zM122.4 103.1h2.1v2.1h-2.1zM123.6 104.8h2.1v2.1h-2.1zM124.8 102.1h2.1v2.1h-2.1zM126.0 105.2h2.1v2.1h-2.1zM127.2 103.0h2.1v2.1h-2.1zM128.4 103.8h2.1v2.1h-2.1zM129.6 104.4h2.1v2.1h-2.1zM130.8 105.3h2.1v2.1h-2.1zM132.0 105.0h2.1v2.1h-2.1zM133.3 104.6h2.1v2.1h-2.1zM134.5 97.0h2.1v2.1h-2.1zM135.7 103.8h2.1v2.1h-2.1zM136.9 101.8h2.1v2.1h-2.1zM138.1 105.5h2.1v2.1h-2.1zM139.3 103.5h2.1v2.1h-2.1zM140.5 101.8h2.1v2.1h-2.1zM141.7 104.2h2.1v2.1h-2.1zM143.0 104.1h2.1v2.1h-2.1zM144.2 103.0h2.1v2.1h-2.1zM145.4 103.8h2.1v2.1h-2.1zM146.6 103.5h2.1v2.1h-2.1zM147.8 103.9h2.1v2.1h-2.1zM149.0 104.1h2.1v2.1h-2.1zM150.2 104.9h2.1v2.1h-2.1zM151.4 103.5h2.1v2.1h-2.1zM152.6 103.1h2.1v2.1h-2.1zM153.9 102.7h2.1v2.1h-2.1zM155.1 103.9h2.1v2.1h-2.1zM156.3 104.3h2.1v2.1h-2.1zM157.5 106.4h2.1v2.1h-2.1zM158.7 102.6h2.1v2.1h-2.1zM159.9 103.5h2.1v2.1h-2.1zM161.1 105.6h2.1v2.1h-2.1zM162.3 103.7h2.1v2.1h-2.1zM163.6 105.6h2.1v2.1h-2.1zM164.8 103.5h2.1v2.1h-2.1zM166.0 104.3h2.1v2.1h-2.1zM167.2 103.8h2.1v2.1h-2.1zM168.4 103.8h2.1v2.1h-2.1zM169.6 103.1h2.1v2.1h-2.1zM170.8 103.2h2.1v2.1h-2.1zM172.0 104.1h2.1v2.1h-2.1zM173.3 104.1h2.1v2.1h-2.1zM174.5 102.3h2.1v2.1h-2.1zM175.7 105.2h2.1v2.1h-2.1zM176.9 102.6h2.1v2.1h-2.1zM178.1 103.4h2.1v2.1h-2.1zM179.3 102.7h2.1v2.1h-2.1zM180.5 103.3h2.1v2.1h-2.1zM181.7 103.5h2.1v2.1h-2.1zM182.9 102.9h2.1v2.1h-2.1zM184.2 102.0h2.1v2.1h-2.1zM185.4 104.4h2.1v2.1h-2.1zM186.6 104.9h2.1v2.1h-2.1zM187.8 105.4h2.1v2.1h-2.1zM189.0 102.0h2.1v2.1h-2.1zM190.2 103.6h2.1v2.1h-2.1zM191.4 103.0h2.1v2.1h-2.1zM192.6 105.1h2.1v2.1h-2.1zM193.9 101.3h2.1v2.1h-2.1zM195.1 98.6h2.1v2.1h-2.1zM196.3 105.9h2.1v2.1h-2.1zM197.5 105.7h2.1v2.1h-2.1zM198.7 103.4h2.1v2.1h-2.1zM199.9 104.2h2.1v2.1h-2.1zM201.1 103.2h2.1v2.1h-2.1zM202.3 102.4h2.1v2.1h-2.1zM203.6 104.5h2.1v2.1h-2.1zM204.8 103.8h2.1v2.1h-2.1zM206.0 103.4h2.1v2.1h-2.1zM207.2 106.0h2.1v2.1h-2.1zM208.4 103.7h2.1v2.1h-2.1zM209.6 102.0h2.1v2.1h-2.1zM210.8 103.4h2.1v2.1h-2.1zM212.0 103.2h2.1v2.1h-2.1zM213.2 101.6h2.1v2.1h-2.1z" fill="#E19C24" fill-opacity="0.6"/>
<path d="M32.7 104.4h2.1v2.1h-2.1zM33.9 104.0h2.1v2.1h-2.1zM35.1 104.2h2.1v2.1h-2.1zM36.3 103.0h2.1v2.1h-2.1zM37.5 105.1h2.1v2.1h-2.1zM38.7 102.6h2.1v2.1h-2.1zM39.9 104.7h2.1v2.1h-2.1zM41.1 104.5h2.1v2.1h-2.1zM42.4 105.7h2.1v2.1h-2.1zM43.6 105.1h2.1v2.1h-2.1zM44.8 100.6h2.1v2.1h-2.1zM46.0 105.9h2.1v2.1h-2.1zM47.2 104.1h2.1v2.1h-2.1zM48.4 102.0h2.1v2.1h-2.1zM49.6 102.3h2.1v2.1h-2.1zM50.8 102.8h2.1v2.1h-2.1zM52.1 103.3h2.1v2.1h-2.1zM53.3 105.4h2.1v2.1h-2.1zM54.5 103.3h2.1v2.1h-2.1zM55.7 103.7h2.1v2.1h-2.1zM56.9 100.2h2.1v2.1h-2.1zM58.1 103.7h2.1v2.1h-2.1zM59.3 107.2h2.1v2.1h-2.1zM60.5 102.9h2.1v2.1h-2.1zM61.8 104.1h2.1v2.1h-2.1zM63.0 104.1h2.1v2.1h-2.1zM64.2 104.1h2.1v2.1h-2.1zM65.4 104.4h2.1v2.1h-2.1zM66.6 103.1h2.1v2.1h-2.1zM67.8 107.0h2.1v2.1h-2.1zM69.0 102.0h2.1v2.1h-2.1zM70.2 102.7h2.1v2.1h-2.1zM71.4 105.0h2.1v2.1h-2.1zM72.7 105.2h2.1v2.1h-2.1zM73.9 102.7h2.1v2.1h-2.1zM75.1 103.2h2.1v2.1h-2.1zM76.3 101.8h2.1v2.1h-2.1zM77.5 103.2h2.1v2.1h-2.1zM78.7 103.1h2.1v2.1h-2.1zM79.9 104.3h2.1v2.1h-2.1zM81.1 104.9h2.1v2.1h-2.1zM82.4 103.2h2.1v2.1h-2.1zM83.6 105.2h2.1v2.1h-2.1zM84.8 102.6h2.1v2.1h-2.1zM86.0 105.0h2.1v2.1h-2.1zM87.2 103.3h2.1v2.1h-2.1zM88.4 97.4h2.1v2.1h-2.1zM89.6 102.5h2.1v2.1h-2.1zM90.8 102.9h2.1v2.1h-2.1zM92.0 102.7h2.1v2.1h-2.1zM93.3 104.9h2.1v2.1h-2.1zM94.5 104.5h2.1v2.1h-2.1zM95.7 103.1h2.1v2.1h-2.1zM96.9 105.1h2.1v2.1h-2.1zM98.1 104.3h2.1v2.1h-2.1zM99.3 104.3h2.1v2.1h-2.1zM100.5 104.3h2.1v2.1h-2.1zM101.7 103.6h2.1v2.1h-2.1zM103.0 103.6h2.1v2.1h-2.1zM104.2 103.1h2.1v2.1h-2.1zM105.4 103.3h2.1v2.1h-2.1zM106.6 103.2h2.1v2.1h-2.1zM107.8 101.9h2.1v2.1h-2.1zM109.0 103.6h2.1v2.1h-2.1zM110.2 103.3h2.1v2.1h-2.1zM111.4 104.6h2.1v2.1h-2.1zM112.7 105.3h2.1v2.1h-2.1zM113.9 105.1h2.1v2.1h-2.1zM115.1 103.9h2.1v2.1h-2.1zM116.3 103.3h2.1v2.1h-2.1zM117.5 101.6h2.1v2.1h-2.1zM118.7 102.5h2.1v2.1h-2.1zM119.9 96.8h2.1v2.1h-2.1zM121.1 104.3h2.1v2.1h-2.1zM122.4 104.0h2.1v2.1h-2.1zM123.6 97.7h2.1v2.1h-2.1zM124.8 104.7h2.1v2.1h-2.1zM126.0 103.6h2.1v2.1h-2.1zM127.2 106.1h2.1v2.1h-2.1zM128.4 103.7h2.1v2.1h-2.1zM129.6 103.5h2.1v2.1h-2.1zM130.8 104.9h2.1v2.1h-2.1zM132.0 103.0h2.1v2.1h-2.1zM133.3 102.4h2.1v2.1h-2.1zM134.5 103.6h2.1v2.1h-2.1zM135.7 102.0h2.1v2.1h-2.1zM136.9 101.7h2.1v2.1h-2.1zM138.1 104.7h2.1v2.1h-2.1zM139.3 104.6h2.1v2.1h-2.1zM140.5 106.2h2.1v2.1h-2.1zM141.7 105.0h2.1v2.1h-2.1zM143.0 104.0h2.1v2.1h-2.1zM144.2 102.9h2.1v2.1h-2.1zM145.4 102.0h2.1v2.1h-2.1zM146.6 103.5h2.1v2.1h-2.1zM147.8 103.5h2.1v2.1h-2.1zM149.0 105.1h2.1v2.1h-2.1zM150.2 102.2h2.1v2.1h-2.1zM151.4 104.8h2.1v2.1h-2.1zM152.6 106.8h2.1v2.1h-2.1zM153.9 104.8h2.1v2.1h-2.1zM155.1 104.7h2.1v2.1h-2.1zM156.3 100.8h2.1v2.1h-2.1zM157.5 103.6h2.1v2.1h-2.1zM158.7 104.7h2.1v2.1h-2.1zM159.9 105.6h2.1v2.1h-2.1zM161.1 103.2h2.1v2.1h-2.1zM162.3 102.5h2.1v2.1h-2.1zM163.6 103.2h2.1v2.1h-2.1zM164.8 101.9h2.1v2.1h-2.1zM166.0 105.9h2.1v2.1h-2.1zM167.2 104.9h2.1v2.1h-2.1zM168.4 102.4h2.1v2.1h-2.1zM169.6 103.7h2.1v2.1h-2.1zM170.8 103.8h2.1v2.1h-2.1zM172.0 102.4h2.1v2.1h-2.1zM173.3 102.9h2.1v2.1h-2.1zM174.5 103.5h2.1v2.1h-2.1zM175.7 101.4h2.1v2.1h-2.1zM176.9 104.0h2.1v2.1h-2.1zM178.1 103.0h2.1v2.1h-2.1zM179.3 102.6h2.1v2.1h-2.1zM180.5 103.1h2.1v2.1h-2.1zM181.7 103.0h2.1v2.1h-2.1zM182.9 102.3h2.1v2.1h-2.1zM184.2 102.3h2.1v2.1h-2.1zM185.4 97.7h2.1v2.1h-2.1zM186.6 104.0h2.1v2.1h-2.1zM187.8 103.6h2.1v2.1h-2.1zM189.0 104.7h2.1v2.1h-2.1zM190.2 103.0h2.1v2.1h-2.1zM191.4 103.3h2.1v2.1h-2.1zM192.6 103.0h2.1v2.1h-2.1zM193.9 102.8h2.1v2.1h-2.1zM195.1 105.3h2.1v2.1h-2.1zM196.3 104.2h2.1v2.1h-2.1zM197.5 105.3h2.1v2.1h-2.1zM198.7 104.6h2.1v2.1h-2.1zM199.9 104.0h2.1v2.1h-2.1zM201.1 102.2h2.1v2.1h-2.1zM202.3 101.8h2.1v2.1h-2.1zM203.6 102.6h2.1v2.1h-2.1zM204.8 102.9h2.1v2.1h-2.1zM206.0 103.8h2.1v2.1h-2.1zM207.2 102.4h2.1v2.1h-2.1zM208.4 104.9h2.1v2.1h-2.1zM209.6 102.8h2.1v2.1h-2.1zM210.8 103.7h2.1v2.1h-2.1zM212.0 104.3h2.1v2.1h-2.1zM213.2 103.8h2.1v2.1h-2.1z" fill="#A5609D" fill-opacity="0.6"/>
<path d="M32.7 103.1h2.1v2.1h-2.1zM33.9 103.4h2.1v2.1h-2.1zM35.1 101.6h2.1v2.1h-2.1zM36.3 103.4h2.1v2.1h-2.1zM37.5 103.9h2.1v2.1h-2.1zM38.7 103.8h2.1v2.1h-2.1zM39.9 103.3h2.1v2.1h-2.1zM41.1 105.1h2.1v2.1h-2.1zM42.4 103.8h2.1v2.1h-2.1zM43.6 103.8h2.1v2.1h-2.1zM44.8 102.5h2.1v2.1h-2.1zM46.0 103.0h2.1v2.1h-2.1zM47.2 102.4h2.1v2.1h-2.1zM48.4 105.5h2.1v2.1h-2.1zM49.6 102.3h2.1v2.1h-2.1zM50.8 103.3h2.1v2.1h-2.1zM52.1 101.9h2.1v2.1h-2.1zM53.3 104.2h2.1v2.1h-2.1zM54.5 102.9h2.1v2.1h-2.1zM55.7 102.7h2.1v2.1h-2.1zM56.9 101.6h2.1v2.1h-2.1zM58.1 103.3h2.1v2.1h-2.1zM59.3 102.4h2.1v2.1h-2.1zM60.5 102.7h2.1v2.1h-2.1zM61.8 103.7h2.1v2.1h-2.1zM63.0 105.7h2.1v2.1h-2.1zM64.2 103.4h2.1v2.1h-2.1zM65.4 102.9h2.1v2.1h-2.1zM66.6 103.2h2.1v2.1h-2.1zM67.8 102.0h2.1v2.1h-2.1zM69.0 103.2h2.1v2.1h-2.1zM70.2 102.9h2.1v2.1h-2.1zM71.4 102.1h2.1v2.1h-2.1zM72.7 102.1h2.1v2.1h-2.1zM73.9 102.3h2.1v2.1h-2.1zM75.1 101.1h2.1v2.1h-2.1zM76.3 103.3h2.1v2.1h-2.1zM77.5 99.8h2.1v2.1h-2.1zM78.7 103.7h2.1v2.1h-2.1zM79.9 101.6h2.1v2.1h-2.1zM81.1 102.7h2.1v2.1h-2.1zM82.4 100.8h2.1v2.1h-2.1zM83.6 103.2h2.1v2.1h-2.1zM84.8 103.5h2.1v2.1h-2.1zM86.0 103.5h2.1v2.1h-2.1zM87.2 102.6h2.1v2.1h-2.1zM88.4 96.8h2.1v2.1h-2.1zM89.6 103.9h2.1v2.1h-2.1zM90.8 101.0h2.1v2.1h-2.1zM92.0 106.2h2.1v2.1h-2.1zM93.3 103.7h2.1v2.1h-2.1zM94.5 102.7h2.1v2.1h-2.1zM95.7 103.9h2.1v2.1h-2.1zM96.9 93.3h2.1v2.1h-2.1zM98.1 102.8h2.1v2.1h-2.1zM99.3 103.7h2.1v2.1h-2.1zM100.5 103.2h2.1v2.1h-2.1zM101.7 103.4h2.1v2.1h-2.1zM103.0 102.6h2.1v2.1h-2.1zM104.2 102.3h2.1v2.1h-2.1zM105.4 102.3h2.1v2.1h-2.1zM106.6 106.6h2.1v2.1h-2.1zM107.8 101.0h2.1v2.1h-2.1zM109.0 100.6h2.1v2.1h-2.1zM110.2 101.8h2.1v2.1h-2.1zM111.4 102.1h2.1v2.1h-2.1zM112.7 105.7h2.1v2.1h-2.1zM113.9 102.0h2.1v2.1h-2.1zM115.1 103.5h2.1v2.1h-2.1zM116.3 104.4h2.1v2.1h-2.1zM117.5 103.8h2.1v2.1h-2.1zM118.7 102.6h2.1v2.1h-2.1zM119.9 106.3h2.1v2.1h-2.1zM121.1 94.9h2.1v2.1h-2.1zM122.4 103.7h2.1v2.1h-2.1zM123.6 102.9h2.1v2.1h-2.1zM124.8 103.8h2.1v2.1h-2.1zM126.0 100.2h2.1v2.1h-2.1zM127.2 100.7h2.1v2.1h-2.1zM128.4 99.8h2.1v2.1h-2.1zM129.6 102.5h2.1v2.1h-2.1zM130.8 102.9h2.1v2.1h-2.1zM132.0 100.7h2.1v2.1h-2.1zM133.3 97.5h2.1v2.1h-2.1zM134.5 101.4h2.1v2.1h-2.1zM135.7 101.4h2.1v2.1h-2.1zM136.9 104.0h2.1v2.1h-2.1zM138.1 101.7h2.1v2.1h-2.1zM139.3 100.5h2.1v2.1h-2.1zM140.5 100.4h2.1v2.1h-2.1zM141.7 99.6h2.1v2.1h-2.1zM143.0 97.8h2.1v2.1h-2.1zM144.2 101.4h2.1v2.1h-2.1zM145.4 97.5h2.1v2.1h-2.1zM146.6 99.5h2.1v2.1h-2.1zM147.8 102.5h2.1v2.1h-2.1zM149.0 100.5h2.1v2.1h-2.1zM150.2 100.0h2.1v2.1h-2.1zM151.4 96.9h2.1v2.1h-2.1zM152.6 102.0h2.1v2.1h-2.1zM153.9 99.8h2.1v2.1h-2.1zM155.1 103.4h2.1v2.1h-2.1zM156.3 101.5h2.1v2.1h-2.1zM157.5 102.2h2.1v2.1h-2.1zM158.7 98.2h2.1v2.1h-2.1zM159.9 103.0h2.1v2.1h-2.1zM161.1 101.5h2.1v2.1h-2.1zM162.3 104.3h2.1v2.1h-2.1zM163.6 101.4h2.1v2.1h-2.1zM164.8 101.5h2.1v2.1h-2.1zM166.0 101.4h2.1v2.1h-2.1zM167.2 103.4h2.1v2.1h-2.1zM168.4 103.4h2.1v2.1h-2.1zM169.6 97.7h2.1v2.1h-2.1zM170.8 103.2h2.1v2.1h-2.1zM172.0 95.7h2.1v2.1h-2.1zM173.3 101.2h2.1v2.1h-2.1zM174.5 100.9h2.1v2.1h-2.1zM175.7 99.7h2.1v2.1h-2.1zM176.9 102.4h2.1v2.1h-2.1zM178.1 102.6h2.1v2.1h-2.1zM179.3 99.1h2.1v2.1h-2.1zM180.5 100.4h2.1v2.1h-2.1zM181.7 98.5h2.1v2.1h-2.1zM182.9 101.6h2.1v2.1h-2.1zM184.2 102.6h2.1v2.1h-2.1zM185.4 97.6h2.1v2.1h-2.1zM186.6 97.7h2.1v2.1h-2.1zM187.8 102.1h2.1v2.1h-2.1zM189.0 101.6h2.1v2.1h-2.1zM190.2 99.3h2.1v2.1h-2.1zM191.4 101.2h2.1v2.1h-2.1zM192.6 102.6h2.1v2.1h-2.1zM193.9 100.7h2.1v2.1h-2.1zM195.1 98.8h2.1v2.1h-2.1zM196.3 99.6h2.1v2.1h-2.1zM197.5 99.9h2.1v2.1h-2.1zM198.7 99.9h2.1v2.1h-2.1zM199.9 103.4h2.1v2.1h-2.1zM201.1 100.8h2.1v2.1h-2.1zM202.3 100.5h2.1v2.1h-2.1zM203.6 99.7h2.1v2.1h-2.1zM204.8 99.8h2.1v2.1h-2.1zM206.0 100.3h2.1v2.1h-2.1zM207.2 99.7h2.1v2.1h-2.1zM208.4 96.1h2.1v2.1h-2.1zM209.6 100.9h2.1v2.1h-2.1zM210.8 100.2h2.1v2.1h-2.1zM212.0 100.7h2.1v2.1h-2.1zM213.2 96.0h2.1v2.1h-2.1z" fill="#EB6235" fill-opacity="0.6"/>
<path d="M32.7 105.0h2.1v2.1h-2.1zM33.9 102.2h2.1v2.1h-2.1zM35.1 101.9h2.1v2.1h-2.1zM36.3 104.6h2.1v2.1h-2.1zM37.5 105.7h2.1v2.1h-2.1zM38.7 103.3h2.1v2.1h-2.1zM39.9 102.7h2.1v2.1h-2.1zM41.1 103.9h2.1v2.1h-2.1zM42.4 107.2h2.1v2.1h-2.1zM43.6 103.8h2.1v2.1h-2.1zM44.8 96.5h2.1v2.1h-2.1zM46.0 106.7h2.1v2.1h-2.1zM47.2 104.0h2.1v2.1h-2.1zM48.4 104.3h2.1v2.1h-2.1zM49.6 103.8h2.1v2.1h-2.1zM50.8 102.2h2.1v2.1h-2.1zM52.1 103.6h2.1v2.1h-2.1zM53.3 104.5h2.1v2.1h-2.1zM54.5 103.6h2.1v2.1h-2.1zM55.7 106.3h2.1v2.1h-2.1zM56.9 106.3h2.1v2.1h-2.1zM58.1 104.6h2.1v2.1h-2.1zM59.3 105.3h2.1v2.1h-2.1zM60.5 106.5h2.1v2.1h-2.1zM61.8 102.1h2.1v2.1h-2.1zM63.0 103.8h2.1v2.1h-2.1zM64.2 102.8h2.1v2.1h-2.1zM65.4 106.0h2.1v2.1h-2.1zM66.6 105.2h2.1v2.1h-2.1zM67.8 105.7h2.1v2.1h-2.1zM69.0 103.6h2.1v2.1h-2.1zM70.2 101.7h2.1v2.1h-2.1zM71.4 104.7h2.1v2.1h-2.1zM72.7 105.8h2.1v2.1h-2.1zM73.9 105.0h2.1v2.1h-2.1zM75.1 103.6h2.1v2.1h-2.1zM76.3 103.9h2.1v2.1h-2.1zM77.5 97.1h2.1v2.1h-2.1zM78.7 103.0h2.1v2.1h-2.1zM79.9 104.5h2.1v2.1h-2.1zM81.1 101.8h2.1v2.1h-2.1zM82.4 103.1h2.1v2.1h-2.1zM83.6 103.4h2.1v2.1h-2.1zM84.8 104.0h2.1v2.1h-2.1zM86.0 103.9h2.1v2.1h-2.1zM87.2 104.1h2.1v2.1h-2.1zM88.4 102.7h2.1v2.1h-2.1zM89.6 106.3h2.1v2.1h-2.1zM90.8 105.6h2.1v2.1h-2.1zM92.0 102.4h2.1v2.1h-2.1zM93.3 105.5h2.1v2.1h-2.1zM94.5 103.9h2.1v2.1h-2.1zM95.7 104.6h2.1v2.1h-2.1zM96.9 105.4h2.1v2.1h-2.1zM98.1 104.5h2.1v2.1h-2.1zM99.3 104.9h2.1v2.1h-2.1zM100.5 102.9h2.1v2.1h-2.1zM101.7 104.6h2.1v2.1h-2.1zM103.0 104.6h2.1v2.1h-2.1zM104.2 105.4h2.1v2.1h-2.1zM105.4 102.7h2.1v2.1h-2.1zM106.6 104.6h2.1v2.1h-2.1zM107.8 104.7h2.1v2.1h-2.1zM109.0 104.8h2.1v2.1h-2.1zM110.2 105.1h2.1v2.1h-2.1zM111.4 106.2h2.1v2.1h-2.1zM112.7 104.3h2.1v2.1h-2.1zM113.9 100.8h2.1v2.1h-2.1zM115.1 101.9h2.1v2.1h-2.1zM116.3 104.7h2.1v2.1h-2.1zM117.5 103.3h2.1v2.1h-2.1zM118.7 103.2h2.1v2.1h-2.1zM119.9 105.5h2.1v2.1h-2.1zM121.1 103.4h2.1v2.1h-2.1zM122.4 103.2h2.1v2.1h-2.1zM123.6 102.7h2.1v2.1h-2.1zM124.8 104.9h2.1v2.1h-2.1zM126.0 102.3h2.1v2.1h-2.1zM127.2 103.5h2.1v2.1h-2.1zM128.4 103.2h2.1v2.1h-2.1zM129.6 104.4h2.1v2.1h-2.1zM130.8 103.6h2.1v2.1h-2.1zM132.0 102.6h2.1v2.1h-2.1zM133.3 104.8h2.1v2.1h-2.1zM134.5 102.3h2.1v2.1h-2.1zM135.7 103.2h2.1v2.1h-2.1zM136.9 102.2h2.1v2.1h-2.1zM138.1 97.9h2.1v2.1h-2.1zM139.3 99.4h2.1v2.1h-2.1zM140.5 101.1h2.1v2.1h-2.1zM141.7 103.0h2.1v2.1h-2.1zM143.0 103.5h2.1v2.1h-2.1zM144.2 103.7h2.1v2.1h-2.1zM145.4 99.0h2.1v2.1h-2.1zM146.6 100.1h2.1v2.1h-2.1zM147.8 102.1h2.1v2.1h-2.1zM149.0 98.1h2.1v2.1h-2.1zM150.2 103.5h2.1v2.1h-2.1zM151.4 103.0h2.1v2.1h-2.1zM152.6 101.5h2.1v2.1h-2.1zM153.9 100.1h2.1v2.1h-2.1zM155.1 103.6h2.1v2.1h-2.1zM156.3 104.0h2.1v2.1h-2.1zM157.5 102.1h2.1v2.1h-2.1zM158.7 100.8h2.1v2.1h-2.1zM159.9 102.5h2.1v2.1h-2.1zM161.1 103.5h2.1v2.1h-2.1zM162.3 98.8h2.1v2.1h-2.1zM163.6 104.2h2.1v2.1h-2.1zM164.8 101.5h2.1v2.1h-2.1zM166.0 103.3h2.1v2.1h-2.1zM167.2 101.1h2.1v2.1h-2.1zM168.4 99.4h2.1v2.1h-2.1zM169.6 100.0h2.1v2.1h-2.1zM170.8 100.5h2.1v2.1h-2.1zM172.0 99.9h2.1v2.1h-2.1zM173.3 105.0h2.1v2.1h-2.1zM174.5 103.0h2.1v2.1h-2.1zM175.7 101.2h2.1v2.1h-2.1zM176.9 103.4h2.1v2.1h-2.1zM178.1 100.5h2.1v2.1h-2.1zM179.3 98.2h2.1v2.1h-2.1zM180.5 97.3h2.1v2.1h-2.1zM181.7 99.6h2.1v2.1h-2.1zM182.9 102.7h2.1v2.1h-2.1zM184.2 102.6h2.1v2.1h-2.1zM185.4 103.8h2.1v2.1h-2.1zM186.6 101.9h2.1v2.1h-2.1zM187.8 100.8h2.1v2.1h-2.1zM189.0 104.5h2.1v2.1h-2.1zM190.2 104.2h2.1v2.1h-2.1zM191.4 100.9h2.1v2.1h-2.1zM192.6 104.3h2.1v2.1h-2.1zM193.9 100.5h2.1v2.1h-2.1zM195.1 102.0h2.1v2.1h-2.1zM196.3 99.1h2.1v2.1h-2.1zM197.5 100.5h2.1v2.1h-2.1zM198.7 100.1h2.1v2.1h-2.1zM199.9 102.0h2.1v2.1h-2.1zM201.1 100.5h2.1v2.1h-2.1zM202.3 102.7h2.1v2.1h-2.1zM203.6 102.1h2.1v2.1h-2.1zM204.8 101.6h2.1v2.1h-2.1zM206.0 102.1h2.1v2.1h-2.1zM207.2 99.3h2.1v2.1h-2.1zM208.4 97.7h2.1v2.1h-2.1zM209.6 99.5h2.1v2.1h-2.1zM210.8 101.5h2.1v2.1h-2.1zM212.0 103.0h2.1v2.1h-2.1zM213.2 99.5h2.1v2.1h-2.1z" fill="#8778B3" fill-opacity="0.6"/>
<path d="M32.7 104.9h2.1v2.1h-2.1zM33.9 106.9h2.1v2.1h-2.1zM35.1 105.4h2.1v2.1h-2.1zM36.3 106.0h2.1v2.1h-2.1zM37.5 104.9h2.1v2.1h-2.1zM38.7 105.6h2.1v2.1h-2.1zM39.9 103.9h2.1v2.1h-2.1zM41.1 104.4h2.1v2.1h-2.1zM42.4 106.0h2.1v2.1h-2.1zM43.6 104.2h2.1v2.1h-2.1zM44.8 104.1h2.1v2.1h-2.1zM46.0 105.5h2.1v2.1h-2.1zM47.2 107.8h2.1v2.1h-2.1zM48.4 107.1h2.1v2.1h-2.1zM49.6 104.7h2.1v2.1h-2.1zM50.8 107.8h2.1v2.1h-2.1zM52.1 105.1h2.1v2.1h-2.1zM53.3 106.0h2.1v2.1h-2.1zM54.5 107.6h2.1v2.1h-2.1zM55.7 105.1h2.1v2.1h-2.1zM56.9 106.5h2.1v2.1h-2.1zM58.1 103.0h2.1v2.1h-2.1zM59.3 103.3h2.1v2.1h-2.1zM60.5 105.0h2.1v2.1h-2.1zM61.8 102.9h2.1v2.1h-2.1zM63.0 105.7h2.1v2.1h-2.1zM64.2 103.7h2.1v2.1h-2.1zM65.4 107.2h2.1v2.1h-2.1zM66.6 104.3h2.1v2.1h-2.1zM67.8 104.9h2.1v2.1h-2.1zM69.0 104.2h2.1v2.1h-2.1zM70.2 107.4h2.1v2.1h-2.1zM71.4 105.2h2.1v2.1h-2.1zM72.7 98.9h2.1v2.1h-2.1zM73.9 103.6h2.1v2.1h-2.1zM75.1 106.6h2.1v2.1h-2.1zM76.3 106.2h2.1v2.1h-2.1zM77.5 105.3h2.1v2.1h-2.1zM78.7 104.9h2.1v2.1h-2.1zM79.9 105.3h2.1v2.1h-2.1zM81.1 107.3h2.1v2.1h-2.1zM82.4 104.7h2.1v2.1h-2.1zM83.6 104.3h2.1v2.1h-2.1zM84.8 104.9h2.1v2.1h-2.1zM86.0 106.3h2.1v2.1h-2.1zM87.2 105.8h2.1v2.1h-2.1zM88.4 106.8h2.1v2.1h-2.1zM89.6 105.0h2.1v2.1h-2.1zM90.8 105.2h2.1v2.1h-2.1zM92.0 105.2h2.1v2.1h-2.1zM93.3 102.9h2.1v2.1h-2.1zM94.5 105.9h2.1v2.1h-2.1zM95.7 101.3h2.1v2.1h-2.1zM96.9 103.9h2.1v2.1h-2.1zM98.1 106.3h2.1v2.1h-2.1zM99.3 107.8h2.1v2.1h-2.1zM100.5 106.4h2.1v2.1h-2.1zM101.7 107.9h2.1v2.1h-2.1zM103.0 104.6h2.1v2.1h-2.1zM104.2 105.5h2.1v2.1h-2.1zM105.4 104.1h2.1v2.1h-2.1zM106.6 103.7h2.1v2.1h-2.1zM107.8 104.5h2.1v2.1h-2.1zM109.0 105.8h2.1v2.1h-2.1zM110.2 102.3h2.1v2.1h-2.1zM111.4 105.3h2.1v2.1h-2.1zM112.7 102.4h2.1v2.1h-2.1zM113.9 108.1h2.1v2.1h-2.1zM115.1 103.9h2.1v2.1h-2.1zM116.3 106.1h2.1v2.1h-2.1zM117.5 104.1h2.1v2.1h-2.1zM118.7 105.2h2.1v2.1h-2.1zM119.9 97.7h2.1v2.1h-2.1zM121.1 102.7h2.1v2.1h-2.1zM122.4 103.5h2.1v2.1h-2.1zM123.6 106.1h2.1v2.1h-2.1zM124.8 105.4h2.1v2.1h-2.1zM126.0 104.7h2.1v2.1h-2.1zM127.2 105.2h2.1v2.1h-2.1zM128.4 105.4h2.1v2.1h-2.1zM129.6 105.9h2.1v2.1h-2.1zM130.8 106.0h2.1v2.1h-2.1zM132.0 105.0h2.1v2.1h-2.1zM133.3 104.3h2.1v2.1h-2.1zM134.5 105.7h2.1v2.1h-2.1zM135.7 103.8h2.1v2.1h-2.1zM136.9 105.9h2.1v2.1h-2.1zM138.1 105.9h2.1v2.1h-2.1zM139.3 104.0h2.1v2.1h-2.1zM140.5 107.0h2.1v2.1h-2.1zM141.7 105.2h2.1v2.1h-2.1zM143.0 105.3h2.1v2.1h-2.1zM144.2 98.4h2.1v2.1h-2.1zM145.4 103.8h2.1v2.1h-2.1zM146.6 106.7h2.1v2.1h-2.1zM147.8 103.8h2.1v2.1h-2.1zM149.0 104.0h2.1v2.1h-2.1zM150.2 103.0h2.1v2.1h-2.1zM151.4 106.4h2.1v2.1h-2.1zM152.6 98.9h2.1v2.1h-2.1zM153.9 106.6h2.1v2.1h-2.1zM155.1 98.4h2.1v2.1h-2.1zM156.3 97.7h2.1v2.1h-2.1zM157.5 94.6h2.1v2.1h-2.1zM158.7 106.1h2.1v2.1h-2.1zM159.9 106.0h2.1v2.1h-2.1zM161.1 106.6h2.1v2.1h-2.1zM162.3 104.7h2.1v2.1h-2.1zM163.6 102.6h2.1v2.1h-2.1zM164.8 103.5h2.1v2.1h-2.1zM166.0 105.3h2.1v2.1h-2.1zM167.2 106.1h2.1v2.1h-2.1zM168.4 102.8h2.1v2.1h-2.1zM169.6 104.3h2.1v2.1h-2.1zM170.8 105.5h2.1v2.1h-2.1zM172.0 102.6h2.1v2.1h-2.1zM173.3 102.7h2.1v2.1h-2.1zM174.5 101.7h2.1v2.1h-2.1zM175.7 103.5h2.1v2.1h-2.1zM176.9 103.4h2.1v2.1h-2.1zM178.1 103.3h2.1v2.1h-2.1zM179.3 104.6h2.1v2.1h-2.1zM180.5 104.0h2.1v2.1h-2.1zM181.7 104.8h2.1v2.1h-2.1zM182.9 106.9h2.1v2.1h-2.1zM184.2 105.4h2.1v2.1h-2.1zM185.4 102.9h2.1v2.1h-2.1zM186.6 105.1h2.1v2.1h-2.1zM187.8 103.5h2.1v2.1h-2.1zM189.0 104.7h2.1v2.1h-2.1zM190.2 104.5h2.1v2.1h-2.1zM191.4 104.4h2.1v2.1h-2.1zM192.6 105.0h2.1v2.1h-2.1zM193.9 104.1h2.1v2.1h-2.1zM195.1 105.8h2.1v2.1h-2.1zM196.3 104.9h2.1v2.1h-2.1zM197.5 104.5h2.1v2.1h-2.1zM198.7 105.5h2.1v2.1h-2.1zM199.9 108.9h2.1v2.1h-2.1zM201.1 105.6h2.1v2.1h-2.1zM202.3 103.4h2.1v2.1h-2.1zM203.6 103.9h2.1v2.1h-2.1zM204.8 105.2h2.1v2.1h-2.1zM206.0 107.0h2.1v2.1h-2.1zM207.2 104.0h2.1v2.1h-2.1zM208.4 105.1h2.1v2.1h-2.1zM209.6 106.6h2.1v2.1h-2.1zM210.8 102.6h2.1v2.1h-2.1zM212.0 103.3h2.1v2.1h-2.1zM213.2 106.9h2.1v2.1h-2.1z" fill="#8FB032" fill-opacity="0.6"/>
<path d="M32.7 106.1h2.1v2.1h-2.1zM33.9 107.2h2.1v2.1h-2.1zM35.1 105.3h2.1v2.1h-2.1zM36.3 106.3h2.1v2.1h-2.1zM37.5 103.6h2.1v2.1h-2.1zM38.7 103.7h2.1v2.1h-2.1zM39.9 99.2h2.1v2.1h-2.1zM41.1 104.2h2.1v2.1h-2.1zM42.4 106.2h2.1v2.1h-2.1zM43.6 103.3h2.1v2.1h-2.1zM44.8 104.0h2.1v2.1h-2.1zM46.0 103.7h2.1v2.1h-2.1zM47.2 105.2h2.1v2.1h-2.1zM48.4 106.8h2.1v2.1h-2.1zM49.6 104.4h2.1v2.1h-2.1zM50.8 98.1h2.1v2.1h-2.1zM52.1 107.3h2.1v2.1h-2.1zM53.3 103.1h2.1v2.1h-2.1zM54.5 103.4h2.1v2.1h-2.1zM55.7 104.2h2.1v2.1h-2.1zM56.9 105.2h2.1v2.1h-2.1zM58.1 105.1h2.1v2.1h-2.1zM59.3 105.0h2.1v2.1h-2.1zM60.5 104.0h2.1v2.1h-2.1zM61.8 103.9h2.1v2.1h-2.1zM63.0 105.8h2.1v2.1h-2.1zM64.2 102.7h2.1v2.1h-2.1zM65.4 106.8h2.1v2.1h-2.1zM66.6 105.1h2.1v2.1h-2.1zM67.8 105.4h2.1v2.1h-2.1zM69.0 104.9h2.1v2.1h-2.1zM70.2 106.1h2.1v2.1h-2.1zM71.4 104.9h2.1v2.1h-2.1zM72.7 102.0h2.1v2.1h-2.1zM73.9 105.2h2.1v2.1h-2.1zM75.1 104.7h2.1v2.1h-2.1zM76.3 104.5h2.1v2.1h-2.1zM77.5 107.1h2.1v2.1h-2.1zM78.7 104.5h2.1v2.1h-2.1zM79.9 103.6h2.1v2.1h-2.1zM81.1 104.8h2.1v2.1h-2.1zM82.4 105.0h2.1v2.1h-2.1zM83.6 105.2h2.1v2.1h-2.1zM84.8 103.8h2.1v2.1h-2.1zM86.0 104.9h2.1v2.1h-2.1zM87.2 106.2h2.1v2.1h-2.1zM88.4 104.1h2.1v2.1h-2.1zM89.6 103.1h2.1v2.1h-2.1zM90.8 106.9h2.1v2.1h-2.1zM92.0 104.9h2.1v2.1h-2.1zM93.3 105.0h2.1v2.1h-2.1zM94.5 107.2h2.1v2.1h-2.1zM95.7 108.0h2.1v2.1h-2.1zM96.9 104.2h2.1v2.1h-2.1zM98.1 105.5h2.1v2.1h-2.1zM99.3 103.4h2.1v2.1h-2.1zM100.5 103.4h2.1v2.1h-2.1zM101.7 107.0h2.1v2.1h-2.1zM103.0 106.2h2.1v2.1h-2.1zM104.2 105.0h2.1v2.1h-2.1zM105.4 102.7h2.1v2.1h-2.1zM106.6 105.0h2.1v2.1h-2.1zM107.8 105.3h2.1v2.1h-2.1zM109.0 103.7h2.1v2.1h-2.1zM110.2 105.7h2.1v2.1h-2.1zM111.4 103.8h2.1v2.1h-2.1zM112.7 103.2h2.1v2.1h-2.1zM113.9 105.3h2.1v2.1h-2.1zM115.1 105.8h2.1v2.1h-2.1zM116.3 103.7h2.1v2.1h-2.1zM117.5 103.1h2.1v2.1h-2.1zM118.7 105.6h2.1v2.1h-2.1zM119.9 106.4h2.1v2.1h-2.1zM121.1 105.1h2.1v2.1h-2.1zM122.4 103.5h2.1v2.1h-2.1zM123.6 104.0h2.1v2.1h-2.1zM124.8 102.3h2.1v2.1h-2.1zM126.0 104.1h2.1v2.1h-2.1zM127.2 104.2h2.1v2.1h-2.1zM128.4 103.6h2.1v2.1h-2.1zM129.6 105.3h2.1v2.1h-2.1zM130.8 107.3h2.1v2.1h-2.1zM132.0 104.0h2.1v2.1h-2.1zM133.3 104.4h2.1v2.1h-2.1zM134.5 104.7h2.1v2.1h-2.1zM135.7 103.7h2.1v2.1h-2.1zM136.9 106.8h2.1v2.1h-2.1zM138.1 104.1h2.1v2.1h-2.1zM139.3 102.9h2.1v2.1h-2.1zM140.5 104.0h2.1v2.1h-2.1zM141.7 105.0h2.1v2.1h-2.1zM143.0 102.6h2.1v2.1h-2.1zM144.2 105.7h2.1v2.1h-2.1zM145.4 106.0h2.1v2.1h-2.1zM146.6 102.0h2.1v2.1h-2.1zM147.8 105.0h2.1v2.1h-2.1zM149.0 104.1h2.1v2.1h-2.1zM150.2 103.5h2.1v2.1h-2.1zM151.4 102.2h2.1v2.1h-2.1zM152.6 104.1h2.1v2.1h-2.1zM153.9 103.6h2.1v2.1h-2.1zM155.1 104.8h2.1v2.1h-2.1zM156.3 104.0h2.1v2.1h-2.1zM157.5 105.6h2.1v2.1h-2.1zM158.7 104.6h2.1v2.1h-2.1zM159.9 105.3h2.1v2.1h-2.1zM161.1 104.3h2.1v2.1h-2.1zM162.3 102.1h2.1v2.1h-2.1zM163.6 103.0h2.1v2.1h-2.1zM164.8 103.2h2.1v2.1h-2.1zM166.0 102.9h2.1v2.1h-2.1zM167.2 104.6h2.1v2.1h-2.1zM168.4 104.4h2.1v2.1h-2.1zM169.6 103.7h2.1v2.1h-2.1zM170.8 104.0h2.1v2.1h-2.1zM172.0 103.7h2.1v2.1h-2.1zM173.3 104.7h2.1v2.1h-2.1zM174.5 103.3h2.1v2.1h-2.1zM175.7 105.0h2.1v2.1h-2.1zM176.9 104.7h2.1v2.1h-2.1zM178.1 104.7h2.1v2.1h-2.1zM179.3 102.4h2.1v2.1h-2.1zM180.5 102.0h2.1v2.1h-2.1zM181.7 98.2h2.1v2.1h-2.1zM182.9 105.0h2.1v2.1h-2.1zM184.2 99.0h2.1v2.1h-2.1zM185.4 105.1h2.1v2.1h-2.1zM186.6 104.8h2.1v2.1h-2.1zM187.8 95.9h2.1v2.1h-2.1zM189.0 102.7h2.1v2.1h-2.1zM190.2 104.6h2.1v2.1h-2.1zM191.4 104.6h2.1v2.1h-2.1zM192.6 103.8h2.1v2.1h-2.1zM193.9 105.2h2.1v2.1h-2.1zM195.1 97.3h2.1v2.1h-2.1zM196.3 102.7h2.1v2.1h-2.1zM197.5 104.0h2.1v2.1h-2.1zM198.7 102.9h2.1v2.1h-2.1zM199.9 103.9h2.1v2.1h-2.1zM201.1 102.4h2.1v2.1h-2.1zM202.3 105.8h2.1v2.1h-2.1zM203.6 105.0h2.1v2.1h-2.1zM204.8 105.2h2.1v2.1h-2.1zM206.0 104.1h2.1v2.1h-2.1zM207.2 108.2h2.1v2.1h-2.1zM208.4 103.5h2.1v2.1h-2.1zM209.6 103.7h2.1v2.1h-2.1zM210.8 103.3h2.1v2.1h-2.1zM212.0 100.3h2.1v2.1h-2.1zM213.2 104.5h2.1v2.1h-2.1z" fill="#929600" fill-opacity="0.6"/>
</g>
<line x1="32.50" y1="5.50" x2="32.50" y2="116.80" stroke="#858585" stroke-width="1" />
<line x1="32.00" y1="116.30" x2="214.80" y2="116.30" stroke="#858585" stroke-width="1" />
<line x1="32.50" y1="79.37" x2="36.00" y2="79.37" stroke="#858585" stroke-width="1" />
<line x1="32.50" y1="42.44" x2="36.00" y2="42.44" stroke="#858585" stroke-width="1" />
<line x1="32.50" y1="5.51" x2="36.00" y2="5.51" stroke="#858585" stroke-width="1" />
<line x1="93.10" y1="116.30" x2="93.10" y2="113.80" stroke="#858585" stroke-width="1" />
<line x1="153.70" y1="116.30" x2="153.70" y2="113.80" stroke="#858585" stroke-width="1" />
<line x1="214.30" y1="116.30" x2="214.30" y2="113.80" stroke="#858585" stroke-width="1" />
<text x="29.60" y="119.10" font-size="7.9" text-anchor="end" fill="#1a1a1a" font-weight="normal" >0</text>
<text x="29.60" y="82.17" font-size="7.9" text-anchor="end" fill="#1a1a1a" font-weight="normal" >0.1</text>
<text x="29.60" y="45.24" font-size="7.9" text-anchor="end" fill="#1a1a1a" font-weight="normal" >0.2</text>
<text x="29.60" y="9.21" font-size="7.9" text-anchor="end" fill="#1a1a1a" font-weight="normal" >0.3</text>
<text x="32.50" y="127.00" font-size="7.9" text-anchor="middle" fill="#1a1a1a" font-weight="normal" >0</text>
<text x="93.10" y="127.00" font-size="7.9" text-anchor="middle" fill="#1a1a1a" font-weight="normal" >50</text>
<text x="153.70" y="127.00" font-size="7.9" text-anchor="middle" fill="#1a1a1a" font-weight="normal" >100</text>
<text x="214.30" y="127.00" font-size="7.9" text-anchor="middle" fill="#1a1a1a" font-weight="normal" >150</text>
<text x="123.40" y="139.30" font-size="7.9" text-anchor="middle" fill="#1a1a1a" font-weight="normal" >Round</text>
<text x="9.90" y="61.40" font-size="7.9" text-anchor="middle" fill="#1a1a1a" font-weight="normal" transform="rotate(-90 9.9 61.4)">Error rate</text>
<text x="185.50" y="14.00" font-size="7.9" text-anchor="start" fill="#1a1a1a" font-weight="normal" >204 km</text>
<text x="39.70" y="84.00" font-size="7.9" text-anchor="start" fill="#1a1a1a" font-weight="normal" >20 QKD chips</text>
<g filter="url(#soft)">
<path d="M29.7 292.9h2.0v2.0h-2.0zM31.0 285.1h2.0v2.0h-2.0zM32.2 285.3h2.0v2.0h-2.0zM33.5 288.1h2.0v2.0h-2.0zM34.7 279.4h2.0v2.0h-2.0zM36.0 283.8h2.0v2.0h-2.0zM37.2 291.6h2.0v2.0h-2.0zM38.5 281.5h2.0v2.0h-2.0zM39.7 286.8h2.0v2.0h-2.0zM40.9 286.4h2.0v2.0h-2.0zM42.2 282.2h2.0v2.0h-2.0zM43.4 287.7h2.0v2.0h-2.0zM44.7 299.0h2.0v2.0h-2.0zM45.9 291.5h2.0v2.0h-2.0zM47.2 291.1h2.0v2.0h-2.0zM48.4 287.3h2.0v2.0h-2.0zM49.7 298.7h2.0v2.0h-2.0zM50.9 286.6h2.0v2.0h-2.0zM52.1 294.3h2.0v2.0h-2.0zM53.4 290.2h2.0v2.0h-2.0zM54.6 289.4h2.0v2.0h-2.0zM55.9 293.2h2.0v2.0h-2.0zM57.1 289.6h2.0v2.0h-2.0zM58.4 290.5h2.0v2.0h-2.0zM59.6 285.7h2.0v2.0h-2.0zM60.9 293.2h2.0v2.0h-2.0zM62.1 291.9h2.0v2.0h-2.0zM63.4 290.8h2.0v2.0h-2.0zM64.6 289.5h2.0v2.0h-2.0zM65.8 292.8h2.0v2.0h-2.0zM67.1 287.6h2.0v2.0h-2.0zM68.3 293.1h2.0v2.0h-2.0zM69.6 289.5h2.0v2.0h-2.0zM70.8 286.9h2.0v2.0h-2.0zM72.1 284.9h2.0v2.0h-2.0zM73.3 290.8h2.0v2.0h-2.0zM74.6 287.2h2.0v2.0h-2.0zM75.8 287.6h2.0v2.0h-2.0zM77.0 294.6h2.0v2.0h-2.0zM78.3 285.4h2.0v2.0h-2.0zM79.5 287.9h2.0v2.0h-2.0zM80.8 296.5h2.0v2.0h-2.0zM82.0 287.3h2.0v2.0h-2.0zM83.3 299.5h2.0v2.0h-2.0zM84.5 295.3h2.0v2.0h-2.0zM85.8 290.0h2.0v2.0h-2.0zM87.0 294.7h2.0v2.0h-2.0zM88.2 286.9h2.0v2.0h-2.0zM89.5 285.6h2.0v2.0h-2.0zM90.7 290.5h2.0v2.0h-2.0zM92.0 287.2h2.0v2.0h-2.0zM93.2 289.3h2.0v2.0h-2.0zM94.5 288.1h2.0v2.0h-2.0zM95.7 287.2h2.0v2.0h-2.0zM97.0 287.4h2.0v2.0h-2.0zM98.2 287.9h2.0v2.0h-2.0zM99.4 286.4h2.0v2.0h-2.0zM100.7 288.3h2.0v2.0h-2.0zM101.9 285.7h2.0v2.0h-2.0zM103.2 288.6h2.0v2.0h-2.0zM104.4 290.1h2.0v2.0h-2.0zM105.7 286.6h2.0v2.0h-2.0zM106.9 288.7h2.0v2.0h-2.0zM108.2 289.2h2.0v2.0h-2.0zM109.4 295.4h2.0v2.0h-2.0zM110.6 288.8h2.0v2.0h-2.0zM111.9 286.2h2.0v2.0h-2.0zM113.1 284.7h2.0v2.0h-2.0zM114.4 282.4h2.0v2.0h-2.0zM115.6 294.5h2.0v2.0h-2.0zM116.9 289.2h2.0v2.0h-2.0zM118.1 271.4h2.0v2.0h-2.0zM119.4 288.0h2.0v2.0h-2.0zM120.6 288.7h2.0v2.0h-2.0zM121.8 284.4h2.0v2.0h-2.0zM123.1 276.1h2.0v2.0h-2.0zM124.3 294.6h2.0v2.0h-2.0zM125.6 286.5h2.0v2.0h-2.0zM126.8 297.0h2.0v2.0h-2.0zM128.1 286.5h2.0v2.0h-2.0zM129.3 293.0h2.0v2.0h-2.0zM130.6 285.2h2.0v2.0h-2.0zM131.8 282.9h2.0v2.0h-2.0zM133.1 284.9h2.0v2.0h-2.0zM134.3 298.8h2.0v2.0h-2.0zM135.5 284.6h2.0v2.0h-2.0zM136.8 293.9h2.0v2.0h-2.0zM138.0 288.4h2.0v2.0h-2.0zM139.3 287.0h2.0v2.0h-2.0zM140.5 288.8h2.0v2.0h-2.0zM141.8 284.5h2.0v2.0h-2.0zM143.0 296.5h2.0v2.0h-2.0zM144.3 292.0h2.0v2.0h-2.0zM145.5 289.1h2.0v2.0h-2.0zM146.7 290.0h2.0v2.0h-2.0zM148.0 286.7h2.0v2.0h-2.0zM149.2 296.0h2.0v2.0h-2.0zM150.5 287.2h2.0v2.0h-2.0zM151.7 285.0h2.0v2.0h-2.0zM153.0 293.8h2.0v2.0h-2.0zM154.2 286.3h2.0v2.0h-2.0zM155.5 280.1h2.0v2.0h-2.0zM156.7 290.9h2.0v2.0h-2.0zM157.9 287.4h2.0v2.0h-2.0zM159.2 294.6h2.0v2.0h-2.0zM160.4 289.1h2.0v2.0h-2.0zM161.7 287.9h2.0v2.0h-2.0zM162.9 285.8h2.0v2.0h-2.0zM164.2 288.7h2.0v2.0h-2.0zM165.4 290.4h2.0v2.0h-2.0zM166.7 287.1h2.0v2.0h-2.0zM167.9 293.5h2.0v2.0h-2.0zM169.1 283.5h2.0v2.0h-2.0zM170.4 282.1h2.0v2.0h-2.0zM171.6 296.0h2.0v2.0h-2.0zM172.9 284.7h2.0v2.0h-2.0zM174.1 290.6h2.0v2.0h-2.0zM175.4 289.0h2.0v2.0h-2.0zM176.6 285.8h2.0v2.0h-2.0zM177.9 282.0h2.0v2.0h-2.0zM179.1 289.4h2.0v2.0h-2.0zM180.3 287.7h2.0v2.0h-2.0zM181.6 293.6h2.0v2.0h-2.0zM182.8 295.5h2.0v2.0h-2.0zM184.1 283.3h2.0v2.0h-2.0zM185.3 290.0h2.0v2.0h-2.0zM186.6 290.1h2.0v2.0h-2.0zM187.8 291.0h2.0v2.0h-2.0zM189.1 288.1h2.0v2.0h-2.0zM190.3 295.7h2.0v2.0h-2.0zM191.6 287.2h2.0v2.0h-2.0zM192.8 297.8h2.0v2.0h-2.0zM194.0 293.3h2.0v2.0h-2.0zM195.3 288.8h2.0v2.0h-2.0zM196.5 283.3h2.0v2.0h-2.0zM197.8 293.2h2.0v2.0h-2.0zM199.0 286.2h2.0v2.0h-2.0zM200.3 284.9h2.0v2.0h-2.0zM201.5 291.6h2.0v2.0h-2.0zM202.8 284.6h2.0v2.0h-2.0zM204.0 294.2h2.0v2.0h-2.0zM205.2 291.3h2.0v2.0h-2.0zM206.5 293.8h2.0v2.0h-2.0zM207.7 292.6h2.0v2.0h-2.0zM209.0 290.4h2.0v2.0h-2.0zM210.2 284.1h2.0v2.0h-2.0zM211.5 289.9h2.0v2.0h-2.0zM212.7 284.8h2.0v2.0h-2.0zM214.0 284.6h2.0v2.0h-2.0zM215.2 291.6h2.0v2.0h-2.0z" fill="#5D9EC7" fill-opacity="0.6"/>
<path d="M29.7 290.7h2.0v2.0h-2.0zM31.0 293.7h2.0v2.0h-2.0zM32.2 292.1h2.0v2.0h-2.0zM33.5 274.3h2.0v2.0h-2.0zM34.7 283.1h2.0v2.0h-2.0zM36.0 280.4h2.0v2.0h-2.0zM37.2 285.1h2.0v2.0h-2.0zM38.5 285.9h2.0v2.0h-2.0zM39.7 284.2h2.0v2.0h-2.0zM40.9 285.8h2.0v2.0h-2.0zM42.2 293.9h2.0v2.0h-2.0zM43.4 286.3h2.0v2.0h-2.0zM44.7 284.8h2.0v2.0h-2.0zM45.9 281.2h2.0v2.0h-2.0zM47.2 281.6h2.0v2.0h-2.0zM48.4 285.0h2.0v2.0h-2.0zM49.7 290.6h2.0v2.0h-2.0zM50.9 290.6h2.0v2.0h-2.0zM52.1 287.3h2.0v2.0h-2.0zM53.4 281.2h2.0v2.0h-2.0zM54.6 290.9h2.0v2.0h-2.0zM55.9 284.0h2.0v2.0h-2.0zM57.1 284.0h2.0v2.0h-2.0zM58.4 290.2h2.0v2.0h-2.0zM59.6 290.4h2.0v2.0h-2.0zM60.9 288.7h2.0v2.0h-2.0zM62.1 291.8h2.0v2.0h-2.0zM63.4 287.0h2.0v2.0h-2.0zM64.6 285.8h2.0v2.0h-2.0zM65.8 291.2h2.0v2.0h-2.0zM67.1 287.5h2.0v2.0h-2.0zM68.3 290.4h2.0v2.0h-2.0zM69.6 281.2h2.0v2.0h-2.0zM70.8 286.3h2.0v2.0h-2.0zM72.1 285.1h2.0v2.0h-2.0zM73.3 287.5h2.0v2.0h-2.0zM74.6 286.6h2.0v2.0h-2.0zM75.8 293.4h2.0v2.0h-2.0zM77.0 288.5h2.0v2.0h-2.0zM78.3 291.8h2.0v2.0h-2.0zM79.5 287.7h2.0v2.0h-2.0zM80.8 285.7h2.0v2.0h-2.0zM82.0 285.6h2.0v2.0h-2.0zM83.3 290.0h2.0v2.0h-2.0zM84.5 279.8h2.0v2.0h-2.0zM85.8 287.6h2.0v2.0h-2.0zM87.0 279.2h2.0v2.0h-2.0zM88.2 291.1h2.0v2.0h-2.0zM89.5 287.2h2.0v2.0h-2.0zM90.7 289.8h2.0v2.0h-2.0zM92.0 287.6h2.0v2.0h-2.0zM93.2 284.5h2.0v2.0h-2.0zM94.5 289.7h2.0v2.0h-2.0zM95.7 290.6h2.0v2.0h-2.0zM97.0 294.1h2.0v2.0h-2.0zM98.2 285.3h2.0v2.0h-2.0zM99.4 285.8h2.0v2.0h-2.0zM100.7 285.9h2.0v2.0h-2.0zM101.9 291.9h2.0v2.0h-2.0zM103.2 283.3h2.0v2.0h-2.0zM104.4 289.4h2.0v2.0h-2.0zM105.7 284.5h2.0v2.0h-2.0zM106.9 287.6h2.0v2.0h-2.0zM108.2 285.9h2.0v2.0h-2.0zM109.4 285.6h2.0v2.0h-2.0zM110.6 289.3h2.0v2.0h-2.0zM111.9 289.8h2.0v2.0h-2.0zM113.1 289.1h2.0v2.0h-2.0zM114.4 281.9h2.0v2.0h-2.0zM115.6 288.1h2.0v2.0h-2.0zM116.9 292.5h2.0v2.0h-2.0zM118.1 287.8h2.0v2.0h-2.0zM119.4 291.0h2.0v2.0h-2.0zM120.6 288.4h2.0v2.0h-2.0zM121.8 287.4h2.0v2.0h-2.0zM123.1 287.0h2.0v2.0h-2.0zM124.3 292.5h2.0v2.0h-2.0zM125.6 289.7h2.0v2.0h-2.0zM126.8 292.9h2.0v2.0h-2.0zM128.1 291.5h2.0v2.0h-2.0zM129.3 288.9h2.0v2.0h-2.0zM130.6 288.6h2.0v2.0h-2.0zM131.8 289.4h2.0v2.0h-2.0zM133.1 286.9h2.0v2.0h-2.0zM134.3 286.6h2.0v2.0h-2.0zM135.5 287.0h2.0v2.0h-2.0zM136.8 290.4h2.0v2.0h-2.0zM138.0 286.3h2.0v2.0h-2.0zM139.3 289.6h2.0v2.0h-2.0zM140.5 283.1h2.0v2.0h-2.0zM141.8 289.5h2.0v2.0h-2.0zM143.0 285.4h2.0v2.0h-2.0zM144.3 289.1h2.0v2.0h-2.0zM145.5 281.6h2.0v2.0h-2.0zM146.7 282.4h2.0v2.0h-2.0zM148.0 285.3h2.0v2.0h-2.0zM149.2 293.6h2.0v2.0h-2.0zM150.5 284.8h2.0v2.0h-2.0zM151.7 302.5h2.0v2.0h-2.0zM153.0 287.5h2.0v2.0h-2.0zM154.2 289.7h2.0v2.0h-2.0zM155.5 287.4h2.0v2.0h-2.0zM156.7 292.9h2.0v2.0h-2.0zM157.9 287.7h2.0v2.0h-2.0zM159.2 290.8h2.0v2.0h-2.0zM160.4 284.6h2.0v2.0h-2.0zM161.7 281.7h2.0v2.0h-2.0zM162.9 290.8h2.0v2.0h-2.0zM164.2 299.2h2.0v2.0h-2.0zM165.4 290.9h2.0v2.0h-2.0zM166.7 291.4h2.0v2.0h-2.0zM167.9 285.7h2.0v2.0h-2.0zM169.1 283.0h2.0v2.0h-2.0zM170.4 291.7h2.0v2.0h-2.0zM171.6 282.1h2.0v2.0h-2.0zM172.9 289.7h2.0v2.0h-2.0zM174.1 288.1h2.0v2.0h-2.0zM175.4 289.2h2.0v2.0h-2.0zM176.6 294.1h2.0v2.0h-2.0zM177.9 283.1h2.0v2.0h-2.0zM179.1 285.8h2.0v2.0h-2.0zM180.3 287.4h2.0v2.0h-2.0zM181.6 289.3h2.0v2.0h-2.0zM182.8 288.3h2.0v2.0h-2.0zM184.1 289.2h2.0v2.0h-2.0zM185.3 298.4h2.0v2.0h-2.0zM186.6 283.5h2.0v2.0h-2.0zM187.8 283.2h2.0v2.0h-2.0zM189.1 295.9h2.0v2.0h-2.0zM190.3 288.7h2.0v2.0h-2.0zM191.6 293.1h2.0v2.0h-2.0zM192.8 279.3h2.0v2.0h-2.0zM194.0 281.0h2.0v2.0h-2.0zM195.3 288.8h2.0v2.0h-2.0zM196.5 294.1h2.0v2.0h-2.0zM197.8 289.9h2.0v2.0h-2.0zM199.0 288.7h2.0v2.0h-2.0zM200.3 285.7h2.0v2.0h-2.0zM201.5 291.6h2.0v2.0h-2.0zM202.8 289.3h2.0v2.0h-2.0zM204.0 290.6h2.0v2.0h-2.0zM205.2 286.3h2.0v2.0h-2.0zM206.5 289.7h2.0v2.0h-2.0zM207.7 282.5h2.0v2.0h-2.0zM209.0 283.0h2.0v2.0h-2.0zM210.2 290.8h2.0v2.0h-2.0zM211.5 294.5h2.0v2.0h-2.0zM212.7 289.1h2.0v2.0h-2.0zM214.0 293.7h2.0v2.0h-2.0zM215.2 287.3h2.0v2.0h-2.0z" fill="#FFBF00" fill-opacity="0.6"/>
<path d="M29.7 288.7h2.0v2.0h-2.0zM31.0 289.7h2.0v2.0h-2.0zM32.2 291.5h2.0v2.0h-2.0zM33.5 292.3h2.0v2.0h-2.0zM34.7 280.1h2.0v2.0h-2.0zM36.0 299.7h2.0v2.0h-2.0zM37.2 284.1h2.0v2.0h-2.0zM38.5 294.3h2.0v2.0h-2.0zM39.7 287.8h2.0v2.0h-2.0zM40.9 285.0h2.0v2.0h-2.0zM42.2 282.7h2.0v2.0h-2.0zM43.4 291.1h2.0v2.0h-2.0zM44.7 288.6h2.0v2.0h-2.0zM45.9 295.7h2.0v2.0h-2.0zM47.2 289.6h2.0v2.0h-2.0zM48.4 296.4h2.0v2.0h-2.0zM49.7 297.6h2.0v2.0h-2.0zM50.9 292.6h2.0v2.0h-2.0zM52.1 294.4h2.0v2.0h-2.0zM53.4 280.6h2.0v2.0h-2.0zM54.6 295.2h2.0v2.0h-2.0zM55.9 278.7h2.0v2.0h-2.0zM57.1 286.4h2.0v2.0h-2.0zM58.4 292.7h2.0v2.0h-2.0zM59.6 292.4h2.0v2.0h-2.0zM60.9 288.9h2.0v2.0h-2.0zM62.1 285.2h2.0v2.0h-2.0zM63.4 294.8h2.0v2.0h-2.0zM64.6 287.8h2.0v2.0h-2.0zM65.8 281.8h2.0v2.0h-2.0zM67.1 296.1h2.0v2.0h-2.0zM68.3 285.2h2.0v2.0h-2.0zM69.6 285.6h2.0v2.0h-2.0zM70.8 296.6h2.0v2.0h-2.0zM72.1 288.9h2.0v2.0h-2.0zM73.3 295.9h2.0v2.0h-2.0zM74.6 285.8h2.0v2.0h-2.0zM75.8 291.0h2.0v2.0h-2.0zM77.0 292.8h2.0v2.0h-2.0zM78.3 284.2h2.0v2.0h-2.0zM79.5 290.1h2.0v2.0h-2.0zM80.8 287.0h2.0v2.0h-2.0zM82.0 293.0h2.0v2.0h-2.0zM83.3 283.3h2.0v2.0h-2.0zM84.5 294.6h2.0v2.0h-2.0zM85.8 289.6h2.0v2.0h-2.0zM87.0 290.8h2.0v2.0h-2.0zM88.2 286.0h2.0v2.0h-2.0zM89.5 288.6h2.0v2.0h-2.0zM90.7 291.3h2.0v2.0h-2.0zM92.0 290.0h2.0v2.0h-2.0zM93.2 292.2h2.0v2.0h-2.0zM94.5 286.0h2.0v2.0h-2.0zM95.7 293.6h2.0v2.0h-2.0zM97.0 287.3h2.0v2.0h-2.0zM98.2 287.6h2.0v2.0h-2.0zM99.4 285.5h2.0v2.0h-2.0zM100.7 295.0h2.0v2.0h-2.0zM101.9 290.7h2.0v2.0h-2.0zM103.2 280.8h2.0v2.0h-2.0zM104.4 296.7h2.0v2.0h-2.0zM105.7 290.5h2.0v2.0h-2.0zM106.9 293.4h2.0v2.0h-2.0zM108.2 282.7h2.0v2.0h-2.0zM109.4 294.0h2.0v2.0h-2.0zM110.6 287.2h2.0v2.0h-2.0zM111.9 281.1h2.0v2.0h-2.0zM113.1 301.2h2.0v2.0h-2.0zM114.4 295.4h2.0v2.0h-2.0zM115.6 292.1h2.0v2.0h-2.0zM116.9 286.8h2.0v2.0h-2.0zM118.1 289.5h2.0v2.0h-2.0zM119.4 283.8h2.0v2.0h-2.0zM120.6 289.8h2.0v2.0h-2.0zM121.8 297.3h2.0v2.0h-2.0zM123.1 279.6h2.0v2.0h-2.0zM124.3 292.8h2.0v2.0h-2.0zM125.6 287.0h2.0v2.0h-2.0zM126.8 288.5h2.0v2.0h-2.0zM128.1 294.5h2.0v2.0h-2.0zM129.3 295.6h2.0v2.0h-2.0zM130.6 283.9h2.0v2.0h-2.0zM131.8 293.3h2.0v2.0h-2.0zM133.1 282.4h2.0v2.0h-2.0zM134.3 293.0h2.0v2.0h-2.0zM135.5 290.2h2.0v2.0h-2.0zM136.8 289.8h2.0v2.0h-2.0zM138.0 288.4h2.0v2.0h-2.0zM139.3 288.0h2.0v2.0h-2.0zM140.5 288.9h2.0v2.0h-2.0zM141.8 289.4h2.0v2.0h-2.0zM143.0 286.7h2.0v2.0h-2.0zM144.3 292.8h2.0v2.0h-2.0zM145.5 289.2h2.0v2.0h-2.0zM146.7 292.2h2.0v2.0h-2.0zM148.0 291.0h2.0v2.0h-2.0zM149.2 287.1h2.0v2.0h-2.0zM150.5 288.5h2.0v2.0h-2.0zM151.7 287.9h2.0v2.0h-2.0zM153.0 281.3h2.0v2.0h-2.0zM154.2 290.5h2.0v2.0h-2.0zM155.5 285.5h2.0v2.0h-2.0zM156.7 290.0h2.0v2.0h-2.0zM157.9 292.7h2.0v2.0h-2.0zM159.2 289.5h2.0v2.0h-2.0zM160.4 290.3h2.0v2.0h-2.0zM161.7 289.1h2.0v2.0h-2.0zM162.9 288.0h2.0v2.0h-2.0zM164.2 287.7h2.0v2.0h-2.0zM165.4 288.4h2.0v2.0h-2.0zM166.7 289.6h2.0v2.0h-2.0zM167.9 288.5h2.0v2.0h-2.0zM169.1 296.6h2.0v2.0h-2.0zM170.4 290.0h2.0v2.0h-2.0zM171.6 283.6h2.0v2.0h-2.0zM172.9 295.5h2.0v2.0h-2.0zM174.1 287.5h2.0v2.0h-2.0zM175.4 289.3h2.0v2.0h-2.0zM176.6 293.1h2.0v2.0h-2.0zM177.9 286.9h2.0v2.0h-2.0zM179.1 290.7h2.0v2.0h-2.0zM180.3 288.6h2.0v2.0h-2.0zM181.6 288.0h2.0v2.0h-2.0zM182.8 292.2h2.0v2.0h-2.0zM184.1 284.9h2.0v2.0h-2.0zM185.3 296.8h2.0v2.0h-2.0zM186.6 291.2h2.0v2.0h-2.0zM187.8 291.6h2.0v2.0h-2.0zM189.1 290.4h2.0v2.0h-2.0zM190.3 289.8h2.0v2.0h-2.0zM191.6 290.2h2.0v2.0h-2.0zM192.8 294.2h2.0v2.0h-2.0zM194.0 289.8h2.0v2.0h-2.0zM195.3 291.0h2.0v2.0h-2.0zM196.5 285.4h2.0v2.0h-2.0zM197.8 291.2h2.0v2.0h-2.0zM199.0 291.3h2.0v2.0h-2.0zM200.3 275.9h2.0v2.0h-2.0zM201.5 290.0h2.0v2.0h-2.0zM202.8 286.3h2.0v2.0h-2.0zM204.0 290.2h2.0v2.0h-2.0zM205.2 291.2h2.0v2.0h-2.0zM206.5 289.6h2.0v2.0h-2.0zM207.7 284.1h2.0v2.0h-2.0zM209.0 289.6h2.0v2.0h-2.0zM210.2 295.9h2.0v2.0h-2.0zM211.5 283.0h2.0v2.0h-2.0zM212.7 291.4h2.0v2.0h-2.0zM214.0 285.0h2.0v2.0h-2.0zM215.2 293.7h2.0v2.0h-2.0z" fill="#C56E1A" fill-opacity="0.6"/>
<path d="M29.7 296.8h2.0v2.0h-2.0zM31.0 295.5h2.0v2.0h-2.0zM32.2 294.7h2.0v2.0h-2.0zM33.5 292.9h2.0v2.0h-2.0zM34.7 289.4h2.0v2.0h-2.0zM36.0 290.5h2.0v2.0h-2.0zM37.2 292.4h2.0v2.0h-2.0zM38.5 292.5h2.0v2.0h-2.0zM39.7 284.1h2.0v2.0h-2.0zM40.9 288.1h2.0v2.0h-2.0zM42.2 283.7h2.0v2.0h-2.0zM43.4 287.8h2.0v2.0h-2.0zM44.7 284.2h2.0v2.0h-2.0zM45.9 286.2h2.0v2.0h-2.0zM47.2 287.1h2.0v2.0h-2.0zM48.4 293.5h2.0v2.0h-2.0zM49.7 292.7h2.0v2.0h-2.0zM50.9 284.7h2.0v2.0h-2.0zM52.1 274.6h2.0v2.0h-2.0zM53.4 291.2h2.0v2.0h-2.0zM54.6 289.6h2.0v2.0h-2.0zM55.9 287.8h2.0v2.0h-2.0zM57.1 291.8h2.0v2.0h-2.0zM58.4 289.3h2.0v2.0h-2.0zM59.6 296.5h2.0v2.0h-2.0zM60.9 291.9h2.0v2.0h-2.0zM62.1 296.0h2.0v2.0h-2.0zM63.4 291.2h2.0v2.0h-2.0zM64.6 287.5h2.0v2.0h-2.0zM65.8 292.5h2.0v2.0h-2.0zM67.1 296.1h2.0v2.0h-2.0zM68.3 288.2h2.0v2.0h-2.0zM69.6 285.0h2.0v2.0h-2.0zM70.8 283.9h2.0v2.0h-2.0zM72.1 288.1h2.0v2.0h-2.0zM73.3 294.8h2.0v2.0h-2.0zM74.6 289.6h2.0v2.0h-2.0zM75.8 285.9h2.0v2.0h-2.0zM77.0 293.5h2.0v2.0h-2.0zM78.3 288.0h2.0v2.0h-2.0zM79.5 294.8h2.0v2.0h-2.0zM80.8 286.4h2.0v2.0h-2.0zM82.0 290.5h2.0v2.0h-2.0zM83.3 290.7h2.0v2.0h-2.0zM84.5 285.4h2.0v2.0h-2.0zM85.8 296.8h2.0v2.0h-2.0zM87.0 290.4h2.0v2.0h-2.0zM88.2 294.5h2.0v2.0h-2.0zM89.5 290.2h2.0v2.0h-2.0zM90.7 279.4h2.0v2.0h-2.0zM92.0 290.3h2.0v2.0h-2.0zM93.2 287.4h2.0v2.0h-2.0zM94.5 289.2h2.0v2.0h-2.0zM95.7 288.3h2.0v2.0h-2.0zM97.0 292.8h2.0v2.0h-2.0zM98.2 288.1h2.0v2.0h-2.0zM99.4 290.2h2.0v2.0h-2.0zM100.7 286.8h2.0v2.0h-2.0zM101.9 294.3h2.0v2.0h-2.0zM103.2 283.0h2.0v2.0h-2.0zM104.4 292.9h2.0v2.0h-2.0zM105.7 288.6h2.0v2.0h-2.0zM106.9 287.8h2.0v2.0h-2.0zM108.2 285.9h2.0v2.0h-2.0zM109.4 291.2h2.0v2.0h-2.0zM110.6 286.9h2.0v2.0h-2.0zM111.9 289.5h2.0v2.0h-2.0zM113.1 296.8h2.0v2.0h-2.0zM114.4 295.1h2.0v2.0h-2.0zM115.6 290.4h2.0v2.0h-2.0zM116.9 292.7h2.0v2.0h-2.0zM118.1 293.1h2.0v2.0h-2.0zM119.4 289.2h2.0v2.0h-2.0zM120.6 288.0h2.0v2.0h-2.0zM121.8 284.5h2.0v2.0h-2.0zM123.1 285.5h2.0v2.0h-2.0zM124.3 295.5h2.0v2.0h-2.0zM125.6 285.4h2.0v2.0h-2.0zM126.8 292.6h2.0v2.0h-2.0zM128.1 287.2h2.0v2.0h-2.0zM129.3 296.1h2.0v2.0h-2.0zM130.6 285.6h2.0v2.0h-2.0zM131.8 281.0h2.0v2.0h-2.0zM133.1 282.9h2.0v2.0h-2.0zM134.3 288.8h2.0v2.0h-2.0zM135.5 284.5h2.0v2.0h-2.0zM136.8 285.0h2.0v2.0h-2.0zM138.0 293.5h2.0v2.0h-2.0zM139.3 285.4h2.0v2.0h-2.0zM140.5 284.1h2.0v2.0h-2.0zM141.8 291.9h2.0v2.0h-2.0zM143.0 291.5h2.0v2.0h-2.0zM144.3 292.7h2.0v2.0h-2.0zM145.5 288.5h2.0v2.0h-2.0zM146.7 285.9h2.0v2.0h-2.0zM148.0 289.0h2.0v2.0h-2.0zM149.2 283.6h2.0v2.0h-2.0zM150.5 288.6h2.0v2.0h-2.0zM151.7 281.9h2.0v2.0h-2.0zM153.0 295.3h2.0v2.0h-2.0zM154.2 290.2h2.0v2.0h-2.0zM155.5 292.4h2.0v2.0h-2.0zM156.7 288.4h2.0v2.0h-2.0zM157.9 287.0h2.0v2.0h-2.0zM159.2 287.9h2.0v2.0h-2.0zM160.4 286.0h2.0v2.0h-2.0zM161.7 293.5h2.0v2.0h-2.0zM162.9 291.8h2.0v2.0h-2.0zM164.2 291.4h2.0v2.0h-2.0zM165.4 300.1h2.0v2.0h-2.0zM166.7 282.4h2.0v2.0h-2.0zM167.9 289.3h2.0v2.0h-2.0zM169.1 274.6h2.0v2.0h-2.0zM170.4 285.2h2.0v2.0h-2.0zM171.6 289.7h2.0v2.0h-2.0zM172.9 290.3h2.0v2.0h-2.0zM174.1 284.0h2.0v2.0h-2.0zM175.4 288.7h2.0v2.0h-2.0zM176.6 297.4h2.0v2.0h-2.0zM177.9 296.3h2.0v2.0h-2.0zM179.1 287.5h2.0v2.0h-2.0zM180.3 286.5h2.0v2.0h-2.0zM181.6 288.0h2.0v2.0h-2.0zM182.8 286.9h2.0v2.0h-2.0zM184.1 282.6h2.0v2.0h-2.0zM185.3 290.3h2.0v2.0h-2.0zM186.6 290.3h2.0v2.0h-2.0zM187.8 282.0h2.0v2.0h-2.0zM189.1 284.8h2.0v2.0h-2.0zM190.3 293.7h2.0v2.0h-2.0zM191.6 285.8h2.0v2.0h-2.0zM192.8 295.5h2.0v2.0h-2.0zM194.0 284.4h2.0v2.0h-2.0zM195.3 286.2h2.0v2.0h-2.0zM196.5 289.2h2.0v2.0h-2.0zM197.8 297.3h2.0v2.0h-2.0zM199.0 284.5h2.0v2.0h-2.0zM200.3 291.3h2.0v2.0h-2.0zM201.5 293.0h2.0v2.0h-2.0zM202.8 288.9h2.0v2.0h-2.0zM204.0 294.2h2.0v2.0h-2.0zM205.2 286.8h2.0v2.0h-2.0zM206.5 292.6h2.0v2.0h-2.0zM207.7 290.3h2.0v2.0h-2.0zM209.0 285.2h2.0v2.0h-2.0zM210.2 288.6h2.0v2.0h-2.0zM211.5 289.2h2.0v2.0h-2.0zM212.7 289.3h2.0v2.0h-2.0zM214.0 287.9h2.0v2.0h-2.0zM215.2 287.7h2.0v2.0h-2.0z" fill="#5E81B5" fill-opacity="0.6"/>
<path d="M29.7 285.4h2.0v2.0h-2.0zM31.0 293.6h2.0v2.0h-2.0zM32.2 286.0h2.0v2.0h-2.0zM33.5 292.5h2.0v2.0h-2.0zM34.7 287.1h2.0v2.0h-2.0zM36.0 290.8h2.0v2.0h-2.0zM37.2 283.0h2.0v2.0h-2.0zM38.5 279.4h2.0v2.0h-2.0zM39.7 290.6h2.0v2.0h-2.0zM40.9 289.0h2.0v2.0h-2.0zM42.2 290.9h2.0v2.0h-2.0zM43.4 297.1h2.0v2.0h-2.0zM44.7 284.5h2.0v2.0h-2.0zM45.9 291.3h2.0v2.0h-2.0zM47.2 289.3h2.0v2.0h-2.0zM48.4 294.0h2.0v2.0h-2.0zM49.7 294.7h2.0v2.0h-2.0zM50.9 289.3h2.0v2.0h-2.0zM52.1 284.9h2.0v2.0h-2.0zM53.4 283.9h2.0v2.0h-2.0zM54.6 287.3h2.0v2.0h-2.0zM55.9 287.5h2.0v2.0h-2.0zM57.1 286.7h2.0v2.0h-2.0zM58.4 293.2h2.0v2.0h-2.0zM59.6 295.0h2.0v2.0h-2.0zM60.9 297.6h2.0v2.0h-2.0zM62.1 291.5h2.0v2.0h-2.0zM63.4 281.8h2.0v2.0h-2.0zM64.6 288.2h2.0v2.0h-2.0zM65.8 284.2h2.0v2.0h-2.0zM67.1 291.6h2.0v2.0h-2.0zM68.3 290.7h2.0v2.0h-2.0zM69.6 286.3h2.0v2.0h-2.0zM70.8 282.7h2.0v2.0h-2.0zM72.1 287.1h2.0v2.0h-2.0zM73.3 290.2h2.0v2.0h-2.0zM74.6 296.9h2.0v2.0h-2.0zM75.8 290.8h2.0v2.0h-2.0zM77.0 293.7h2.0v2.0h-2.0zM78.3 286.3h2.0v2.0h-2.0zM79.5 291.4h2.0v2.0h-2.0zM80.8 287.2h2.0v2.0h-2.0zM82.0 288.0h2.0v2.0h-2.0zM83.3 282.6h2.0v2.0h-2.0zM84.5 282.7h2.0v2.0h-2.0zM85.8 282.2h2.0v2.0h-2.0zM87.0 277.9h2.0v2.0h-2.0zM88.2 289.2h2.0v2.0h-2.0zM89.5 289.2h2.0v2.0h-2.0zM90.7 286.3h2.0v2.0h-2.0zM92.0 286.3h2.0v2.0h-2.0zM93.2 293.6h2.0v2.0h-2.0zM94.5 293.3h2.0v2.0h-2.0zM95.7 282.4h2.0v2.0h-2.0zM97.0 292.3h2.0v2.0h-2.0zM98.2 285.6h2.0v2.0h-2.0zM99.4 281.7h2.0v2.0h-2.0zM100.7 284.4h2.0v2.0h-2.0zM101.9 285.4h2.0v2.0h-2.0zM103.2 285.5h2.0v2.0h-2.0zM104.4 283.4h2.0v2.0h-2.0zM105.7 284.2h2.0v2.0h-2.0zM106.9 283.3h2.0v2.0h-2.0zM108.2 281.4h2.0v2.0h-2.0zM109.4 292.3h2.0v2.0h-2.0zM110.6 284.3h2.0v2.0h-2.0zM111.9 294.6h2.0v2.0h-2.0zM113.1 294.0h2.0v2.0h-2.0zM114.4 285.1h2.0v2.0h-2.0zM115.6 286.1h2.0v2.0h-2.0zM116.9 288.0h2.0v2.0h-2.0zM118.1 282.0h2.0v2.0h-2.0zM119.4 283.8h2.0v2.0h-2.0zM120.6 287.6h2.0v2.0h-2.0zM121.8 291.6h2.0v2.0h-2.0zM123.1 286.4h2.0v2.0h-2.0zM124.3 287.3h2.0v2.0h-2.0zM125.6 296.2h2.0v2.0h-2.0zM126.8 292.4h2.0v2.0h-2.0zM128.1 286.5h2.0v2.0h-2.0zM129.3 288.7h2.0v2.0h-2.0zM130.6 288.8h2.0v2.0h-2.0zM131.8 284.6h2.0v2.0h-2.0zM133.1 287.4h2.0v2.0h-2.0zM134.3 282.2h2.0v2.0h-2.0zM135.5 283.7h2.0v2.0h-2.0zM136.8 284.5h2.0v2.0h-2.0zM138.0 293.4h2.0v2.0h-2.0zM139.3 286.6h2.0v2.0h-2.0zM140.5 289.9h2.0v2.0h-2.0zM141.8 286.1h2.0v2.0h-2.0zM143.0 295.9h2.0v2.0h-2.0zM144.3 294.4h2.0v2.0h-2.0zM145.5 281.9h2.0v2.0h-2.0zM146.7 293.4h2.0v2.0h-2.0zM148.0 285.7h2.0v2.0h-2.0zM149.2 291.3h2.0v2.0h-2.0zM150.5 288.1h2.0v2.0h-2.0zM151.7 288.9h2.0v2.0h-2.0zM153.0 283.0h2.0v2.0h-2.0zM154.2 289.9h2.0v2.0h-2.0zM155.5 288.6h2.0v2.0h-2.0zM156.7 290.4h2.0v2.0h-2.0zM157.9 293.1h2.0v2.0h-2.0zM159.2 291.4h2.0v2.0h-2.0zM160.4 288.2h2.0v2.0h-2.0zM161.7 288.2h2.0v2.0h-2.0zM162.9 289.8h2.0v2.0h-2.0zM164.2 289.4h2.0v2.0h-2.0zM165.4 287.4h2.0v2.0h-2.0zM166.7 292.7h2.0v2.0h-2.0zM167.9 296.4h2.0v2.0h-2.0zM169.1 291.5h2.0v2.0h-2.0zM170.4 285.6h2.0v2.0h-2.0zM171.6 294.2h2.0v2.0h-2.0zM172.9 279.8h2.0v2.0h-2.0zM174.1 289.8h2.0v2.0h-2.0zM175.4 282.9h2.0v2.0h-2.0zM176.6 290.4h2.0v2.0h-2.0zM177.9 277.9h2.0v2.0h-2.0zM179.1 286.3h2.0v2.0h-2.0zM180.3 291.9h2.0v2.0h-2.0zM181.6 292.3h2.0v2.0h-2.0zM182.8 288.1h2.0v2.0h-2.0zM184.1 289.4h2.0v2.0h-2.0zM185.3 288.6h2.0v2.0h-2.0zM186.6 295.7h2.0v2.0h-2.0zM187.8 296.5h2.0v2.0h-2.0zM189.1 287.9h2.0v2.0h-2.0zM190.3 287.8h2.0v2.0h-2.0zM191.6 287.0h2.0v2.0h-2.0zM192.8 286.9h2.0v2.0h-2.0zM194.0 296.5h2.0v2.0h-2.0zM195.3 287.6h2.0v2.0h-2.0zM196.5 292.6h2.0v2.0h-2.0zM197.8 295.3h2.0v2.0h-2.0zM199.0 285.6h2.0v2.0h-2.0zM200.3 287.0h2.0v2.0h-2.0zM201.5 284.0h2.0v2.0h-2.0zM202.8 290.2h2.0v2.0h-2.0zM204.0 290.1h2.0v2.0h-2.0zM205.2 291.8h2.0v2.0h-2.0zM206.5 291.8h2.0v2.0h-2.0zM207.7 290.6h2.0v2.0h-2.0zM209.0 282.2h2.0v2.0h-2.0zM210.2 284.5h2.0v2.0h-2.0zM211.5 289.3h2.0v2.0h-2.0zM212.7 292.2h2.0v2.0h-2.0zM214.0 286.2h2.0v2.0h-2.0zM215.2 288.4h2.0v2.0h-2.0z" fill="#E19C24" fill-opacity="0.6"/>
<path d="M29.7 285.5h2.0v2.0h-2.0zM31.0 284.3h2.0v2.0h-2.0zM32.2 289.7h2.0v2.0h-2.0zM33.5 288.3h2.0v2.0h-2.0zM34.7 291.5h2.0v2.0h-2.0zM36.0 294.5h2.0v2.0h-2.0zM37.2 287.5h2.0v2.0h-2.0zM38.5 291.5h2.0v2.0h-2.0zM39.7 285.4h2.0v2.0h-2.0zM40.9 281.8h2.0v2.0h-2.0zM42.2 287.3h2.0v2.0h-2.0zM43.4 286.2h2.0v2.0h-2.0zM44.7 291.9h2.0v2.0h-2.0zM45.9 289.3h2.0v2.0h-2.0zM47.2 289.2h2.0v2.0h-2.0zM48.4 287.2h2.0v2.0h-2.0zM49.7 291.7h2.0v2.0h-2.0zM50.9 294.0h2.0v2.0h-2.0zM52.1 290.2h2.0v2.0h-2.0zM53.4 283.6h2.0v2.0h-2.0zM54.6 294.6h2.0v2.0h-2.0zM55.9 291.7h2.0v2.0h-2.0zM57.1 284.1h2.0v2.0h-2.0zM58.4 284.7h2.0v2.0h-2.0zM59.6 290.6h2.0v2.0h-2.0zM60.9 288.8h2.0v2.0h-2.0zM62.1 289.7h2.0v2.0h-2.0zM63.4 296.6h2.0v2.0h-2.0zM64.6 286.4h2.0v2.0h-2.0zM65.8 286.6h2.0v2.0h-2.0zM67.1 288.4h2.0v2.0h-2.0zM68.3 288.7h2.0v2.0h-2.0zM69.6 284.1h2.0v2.0h-2.0zM70.8 286.8h2.0v2.0h-2.0zM72.1 291.1h2.0v2.0h-2.0zM73.3 291.4h2.0v2.0h-2.0zM74.6 288.4h2.0v2.0h-2.0zM75.8 289.7h2.0v2.0h-2.0zM77.0 280.1h2.0v2.0h-2.0zM78.3 291.5h2.0v2.0h-2.0zM79.5 289.5h2.0v2.0h-2.0zM80.8 281.9h2.0v2.0h-2.0zM82.0 295.7h2.0v2.0h-2.0zM83.3 290.6h2.0v2.0h-2.0zM84.5 287.2h2.0v2.0h-2.0zM85.8 288.9h2.0v2.0h-2.0zM87.0 286.1h2.0v2.0h-2.0zM88.2 281.5h2.0v2.0h-2.0zM89.5 296.1h2.0v2.0h-2.0zM90.7 292.7h2.0v2.0h-2.0zM92.0 294.0h2.0v2.0h-2.0zM93.2 295.0h2.0v2.0h-2.0zM94.5 287.6h2.0v2.0h-2.0zM95.7 291.4h2.0v2.0h-2.0zM97.0 287.7h2.0v2.0h-2.0zM98.2 296.5h2.0v2.0h-2.0zM99.4 285.3h2.0v2.0h-2.0zM100.7 291.9h2.0v2.0h-2.0zM101.9 287.5h2.0v2.0h-2.0zM103.2 287.3h2.0v2.0h-2.0zM104.4 288.9h2.0v2.0h-2.0zM105.7 292.7h2.0v2.0h-2.0zM106.9 294.1h2.0v2.0h-2.0zM108.2 285.7h2.0v2.0h-2.0zM109.4 288.5h2.0v2.0h-2.0zM110.6 286.1h2.0v2.0h-2.0zM111.9 288.7h2.0v2.0h-2.0zM113.1 291.8h2.0v2.0h-2.0zM114.4 291.1h2.0v2.0h-2.0zM115.6 287.0h2.0v2.0h-2.0zM116.9 284.9h2.0v2.0h-2.0zM118.1 293.8h2.0v2.0h-2.0zM119.4 296.1h2.0v2.0h-2.0zM120.6 296.1h2.0v2.0h-2.0zM121.8 288.6h2.0v2.0h-2.0zM123.1 291.5h2.0v2.0h-2.0zM124.3 288.9h2.0v2.0h-2.0zM125.6 287.1h2.0v2.0h-2.0zM126.8 293.2h2.0v2.0h-2.0zM128.1 283.6h2.0v2.0h-2.0zM129.3 297.8h2.0v2.0h-2.0zM130.6 295.8h2.0v2.0h-2.0zM131.8 290.7h2.0v2.0h-2.0zM133.1 293.8h2.0v2.0h-2.0zM134.3 288.2h2.0v2.0h-2.0zM135.5 287.0h2.0v2.0h-2.0zM136.8 289.0h2.0v2.0h-2.0zM138.0 294.6h2.0v2.0h-2.0zM139.3 286.8h2.0v2.0h-2.0zM140.5 280.5h2.0v2.0h-2.0zM141.8 288.1h2.0v2.0h-2.0zM143.0 289.4h2.0v2.0h-2.0zM144.3 290.4h2.0v2.0h-2.0zM145.5 286.9h2.0v2.0h-2.0zM146.7 286.9h2.0v2.0h-2.0zM148.0 284.1h2.0v2.0h-2.0zM149.2 282.7h2.0v2.0h-2.0zM150.5 290.5h2.0v2.0h-2.0zM151.7 293.6h2.0v2.0h-2.0zM153.0 291.8h2.0v2.0h-2.0zM154.2 294.1h2.0v2.0h-2.0zM155.5 283.9h2.0v2.0h-2.0zM156.7 284.3h2.0v2.0h-2.0zM157.9 293.9h2.0v2.0h-2.0zM159.2 296.5h2.0v2.0h-2.0zM160.4 293.4h2.0v2.0h-2.0zM161.7 290.6h2.0v2.0h-2.0zM162.9 287.7h2.0v2.0h-2.0zM164.2 286.5h2.0v2.0h-2.0zM165.4 287.8h2.0v2.0h-2.0zM166.7 290.5h2.0v2.0h-2.0zM167.9 292.6h2.0v2.0h-2.0zM169.1 284.5h2.0v2.0h-2.0zM170.4 294.8h2.0v2.0h-2.0zM171.6 290.5h2.0v2.0h-2.0zM172.9 291.5h2.0v2.0h-2.0zM174.1 286.9h2.0v2.0h-2.0zM175.4 289.2h2.0v2.0h-2.0zM176.6 292.1h2.0v2.0h-2.0zM177.9 293.2h2.0v2.0h-2.0zM179.1 287.5h2.0v2.0h-2.0zM180.3 282.3h2.0v2.0h-2.0zM181.6 290.9h2.0v2.0h-2.0zM182.8 293.1h2.0v2.0h-2.0zM184.1 285.8h2.0v2.0h-2.0zM185.3 288.1h2.0v2.0h-2.0zM186.6 288.6h2.0v2.0h-2.0zM187.8 293.5h2.0v2.0h-2.0zM189.1 289.5h2.0v2.0h-2.0zM190.3 290.6h2.0v2.0h-2.0zM191.6 290.6h2.0v2.0h-2.0zM192.8 283.7h2.0v2.0h-2.0zM194.0 284.9h2.0v2.0h-2.0zM195.3 287.5h2.0v2.0h-2.0zM196.5 290.9h2.0v2.0h-2.0zM197.8 291.3h2.0v2.0h-2.0zM199.0 286.1h2.0v2.0h-2.0zM200.3 289.3h2.0v2.0h-2.0zM201.5 293.0h2.0v2.0h-2.0zM202.8 281.2h2.0v2.0h-2.0zM204.0 292.4h2.0v2.0h-2.0zM205.2 288.0h2.0v2.0h-2.0zM206.5 291.1h2.0v2.0h-2.0zM207.7 293.8h2.0v2.0h-2.0zM209.0 286.7h2.0v2.0h-2.0zM210.2 280.7h2.0v2.0h-2.0zM211.5 285.5h2.0v2.0h-2.0zM212.7 294.1h2.0v2.0h-2.0zM214.0 288.1h2.0v2.0h-2.0zM215.2 292.4h2.0v2.0h-2.0z" fill="#A5609D" fill-opacity="0.6"/>
<path d="M29.7 288.6h2.0v2.0h-2.0zM31.0 292.0h2.0v2.0h-2.0zM32.2 286.5h2.0v2.0h-2.0zM33.5 289.5h2.0v2.0h-2.0zM34.7 288.0h2.0v2.0h-2.0zM36.0 300.1h2.0v2.0h-2.0zM37.2 293.0h2.0v2.0h-2.0zM38.5 287.8h2.0v2.0h-2.0zM39.7 293.6h2.0v2.0h-2.0zM40.9 295.2h2.0v2.0h-2.0zM42.2 289.0h2.0v2.0h-2.0zM43.4 293.1h2.0v2.0h-2.0zM44.7 285.4h2.0v2.0h-2.0zM45.9 288.9h2.0v2.0h-2.0zM47.2 291.0h2.0v2.0h-2.0zM48.4 288.9h2.0v2.0h-2.0zM49.7 287.0h2.0v2.0h-2.0zM50.9 295.5h2.0v2.0h-2.0zM52.1 287.2h2.0v2.0h-2.0zM53.4 288.6h2.0v2.0h-2.0zM54.6 292.1h2.0v2.0h-2.0zM55.9 285.6h2.0v2.0h-2.0zM57.1 289.1h2.0v2.0h-2.0zM58.4 287.7h2.0v2.0h-2.0zM59.6 286.4h2.0v2.0h-2.0zM60.9 292.8h2.0v2.0h-2.0zM62.1 289.3h2.0v2.0h-2.0zM63.4 297.2h2.0v2.0h-2.0zM64.6 291.7h2.0v2.0h-2.0zM65.8 293.2h2.0v2.0h-2.0zM67.1 285.6h2.0v2.0h-2.0zM68.3 291.6h2.0v2.0h-2.0zM69.6 290.0h2.0v2.0h-2.0zM70.8 288.7h2.0v2.0h-2.0zM72.1 284.9h2.0v2.0h-2.0zM73.3 286.8h2.0v2.0h-2.0zM74.6 285.3h2.0v2.0h-2.0zM75.8 288.3h2.0v2.0h-2.0zM77.0 285.8h2.0v2.0h-2.0zM78.3 284.1h2.0v2.0h-2.0zM79.5 292.2h2.0v2.0h-2.0zM80.8 289.5h2.0v2.0h-2.0zM82.0 295.7h2.0v2.0h-2.0zM83.3 286.4h2.0v2.0h-2.0zM84.5 293.0h2.0v2.0h-2.0zM85.8 284.4h2.0v2.0h-2.0zM87.0 295.9h2.0v2.0h-2.0zM88.2 287.9h2.0v2.0h-2.0zM89.5 289.2h2.0v2.0h-2.0zM90.7 290.3h2.0v2.0h-2.0zM92.0 292.7h2.0v2.0h-2.0zM93.2 276.7h2.0v2.0h-2.0zM94.5 285.5h2.0v2.0h-2.0zM95.7 294.3h2.0v2.0h-2.0zM97.0 289.1h2.0v2.0h-2.0zM98.2 286.0h2.0v2.0h-2.0zM99.4 290.5h2.0v2.0h-2.0zM100.7 291.2h2.0v2.0h-2.0zM101.9 285.1h2.0v2.0h-2.0zM103.2 296.8h2.0v2.0h-2.0zM104.4 290.2h2.0v2.0h-2.0zM105.7 285.7h2.0v2.0h-2.0zM106.9 288.1h2.0v2.0h-2.0zM108.2 291.9h2.0v2.0h-2.0zM109.4 288.3h2.0v2.0h-2.0zM110.6 288.1h2.0v2.0h-2.0zM111.9 292.8h2.0v2.0h-2.0zM113.1 291.1h2.0v2.0h-2.0zM114.4 291.6h2.0v2.0h-2.0zM115.6 292.1h2.0v2.0h-2.0zM116.9 290.7h2.0v2.0h-2.0zM118.1 285.2h2.0v2.0h-2.0zM119.4 297.0h2.0v2.0h-2.0zM120.6 288.1h2.0v2.0h-2.0zM121.8 289.4h2.0v2.0h-2.0zM123.1 286.6h2.0v2.0h-2.0zM124.3 288.6h2.0v2.0h-2.0zM125.6 286.3h2.0v2.0h-2.0zM126.8 287.5h2.0v2.0h-2.0zM128.1 281.2h2.0v2.0h-2.0zM129.3 291.1h2.0v2.0h-2.0zM130.6 292.1h2.0v2.0h-2.0zM131.8 288.6h2.0v2.0h-2.0zM133.1 292.2h2.0v2.0h-2.0zM134.3 290.1h2.0v2.0h-2.0zM135.5 291.4h2.0v2.0h-2.0zM136.8 293.1h2.0v2.0h-2.0zM138.0 288.2h2.0v2.0h-2.0zM139.3 284.1h2.0v2.0h-2.0zM140.5 296.7h2.0v2.0h-2.0zM141.8 286.2h2.0v2.0h-2.0zM143.0 285.9h2.0v2.0h-2.0zM144.3 285.9h2.0v2.0h-2.0zM145.5 291.6h2.0v2.0h-2.0zM146.7 288.5h2.0v2.0h-2.0zM148.0 296.9h2.0v2.0h-2.0zM149.2 289.0h2.0v2.0h-2.0zM150.5 284.4h2.0v2.0h-2.0zM151.7 286.5h2.0v2.0h-2.0zM153.0 284.0h2.0v2.0h-2.0zM154.2 284.9h2.0v2.0h-2.0zM155.5 290.9h2.0v2.0h-2.0zM156.7 285.8h2.0v2.0h-2.0zM157.9 296.0h2.0v2.0h-2.0zM159.2 285.7h2.0v2.0h-2.0zM160.4 283.4h2.0v2.0h-2.0zM161.7 285.0h2.0v2.0h-2.0zM162.9 287.8h2.0v2.0h-2.0zM164.2 286.3h2.0v2.0h-2.0zM165.4 285.9h2.0v2.0h-2.0zM166.7 289.6h2.0v2.0h-2.0zM167.9 285.9h2.0v2.0h-2.0zM169.1 287.2h2.0v2.0h-2.0zM170.4 294.4h2.0v2.0h-2.0zM171.6 286.7h2.0v2.0h-2.0zM172.9 281.1h2.0v2.0h-2.0zM174.1 291.4h2.0v2.0h-2.0zM175.4 290.4h2.0v2.0h-2.0zM176.6 293.9h2.0v2.0h-2.0zM177.9 287.6h2.0v2.0h-2.0zM179.1 289.4h2.0v2.0h-2.0zM180.3 290.5h2.0v2.0h-2.0zM181.6 295.2h2.0v2.0h-2.0zM182.8 287.7h2.0v2.0h-2.0zM184.1 291.8h2.0v2.0h-2.0zM185.3 292.5h2.0v2.0h-2.0zM186.6 287.1h2.0v2.0h-2.0zM187.8 286.9h2.0v2.0h-2.0zM189.1 285.8h2.0v2.0h-2.0zM190.3 283.8h2.0v2.0h-2.0zM191.6 287.3h2.0v2.0h-2.0zM192.8 290.2h2.0v2.0h-2.0zM194.0 290.9h2.0v2.0h-2.0zM195.3 292.4h2.0v2.0h-2.0zM196.5 288.1h2.0v2.0h-2.0zM197.8 280.5h2.0v2.0h-2.0zM199.0 288.1h2.0v2.0h-2.0zM200.3 288.8h2.0v2.0h-2.0zM201.5 295.5h2.0v2.0h-2.0zM202.8 285.2h2.0v2.0h-2.0zM204.0 285.7h2.0v2.0h-2.0zM205.2 285.9h2.0v2.0h-2.0zM206.5 289.5h2.0v2.0h-2.0zM207.7 288.2h2.0v2.0h-2.0zM209.0 290.2h2.0v2.0h-2.0zM210.2 288.2h2.0v2.0h-2.0zM211.5 278.7h2.0v2.0h-2.0zM212.7 292.0h2.0v2.0h-2.0zM214.0 281.2h2.0v2.0h-2.0zM215.2 284.8h2.0v2.0h-2.0z" fill="#EB6235" fill-opacity="0.6"/>
<path d="M29.7 290.2h2.0v2.0h-2.0zM31.0 298.8h2.0v2.0h-2.0zM32.2 291.3h2.0v2.0h-2.0zM33.5 298.3h2.0v2.0h-2.0zM34.7 292.6h2.0v2.0h-2.0zM36.0 289.2h2.0v2.0h-2.0zM37.2 292.3h2.0v2.0h-2.0zM38.5 290.9h2.0v2.0h-2.0zM39.7 288.6h2.0v2.0h-2.0zM40.9 288.5h2.0v2.0h-2.0zM42.2 291.0h2.0v2.0h-2.0zM43.4 289.9h2.0v2.0h-2.0zM44.7 294.6h2.0v2.0h-2.0zM45.9 285.7h2.0v2.0h-2.0zM47.2 285.5h2.0v2.0h-2.0zM48.4 287.5h2.0v2.0h-2.0zM49.7 293.7h2.0v2.0h-2.0zM50.9 288.8h2.0v2.0h-2.0zM52.1 291.8h2.0v2.0h-2.0zM53.4 293.7h2.0v2.0h-2.0zM54.6 282.5h2.0v2.0h-2.0zM55.9 284.6h2.0v2.0h-2.0zM57.1 291.7h2.0v2.0h-2.0zM58.4 290.5h2.0v2.0h-2.0zM59.6 293.7h2.0v2.0h-2.0zM60.9 289.9h2.0v2.0h-2.0zM62.1 293.6h2.0v2.0h-2.0zM63.4 289.2h2.0v2.0h-2.0zM64.6 292.0h2.0v2.0h-2.0zM65.8 289.6h2.0v2.0h-2.0zM67.1 287.1h2.0v2.0h-2.0zM68.3 290.4h2.0v2.0h-2.0zM69.6 297.5h2.0v2.0h-2.0zM70.8 286.4h2.0v2.0h-2.0zM72.1 291.2h2.0v2.0h-2.0zM73.3 294.5h2.0v2.0h-2.0zM74.6 290.2h2.0v2.0h-2.0zM75.8 287.0h2.0v2.0h-2.0zM77.0 287.5h2.0v2.0h-2.0zM78.3 294.3h2.0v2.0h-2.0zM79.5 292.9h2.0v2.0h-2.0zM80.8 293.3h2.0v2.0h-2.0zM82.0 289.2h2.0v2.0h-2.0zM83.3 291.3h2.0v2.0h-2.0zM84.5 294.0h2.0v2.0h-2.0zM85.8 291.1h2.0v2.0h-2.0zM87.0 288.3h2.0v2.0h-2.0zM88.2 286.9h2.0v2.0h-2.0zM89.5 295.2h2.0v2.0h-2.0zM90.7 285.5h2.0v2.0h-2.0zM92.0 284.5h2.0v2.0h-2.0zM93.2 287.3h2.0v2.0h-2.0zM94.5 293.4h2.0v2.0h-2.0zM95.7 291.2h2.0v2.0h-2.0zM97.0 292.0h2.0v2.0h-2.0zM98.2 290.3h2.0v2.0h-2.0zM99.4 287.3h2.0v2.0h-2.0zM100.7 294.8h2.0v2.0h-2.0zM101.9 296.9h2.0v2.0h-2.0zM103.2 290.5h2.0v2.0h-2.0zM104.4 290.6h2.0v2.0h-2.0zM105.7 286.6h2.0v2.0h-2.0zM106.9 286.7h2.0v2.0h-2.0zM108.2 289.1h2.0v2.0h-2.0zM109.4 289.9h2.0v2.0h-2.0zM110.6 295.9h2.0v2.0h-2.0zM111.9 286.3h2.0v2.0h-2.0zM113.1 287.4h2.0v2.0h-2.0zM114.4 292.5h2.0v2.0h-2.0zM115.6 293.4h2.0v2.0h-2.0zM116.9 288.6h2.0v2.0h-2.0zM118.1 297.0h2.0v2.0h-2.0zM119.4 283.6h2.0v2.0h-2.0zM120.6 294.8h2.0v2.0h-2.0zM121.8 295.2h2.0v2.0h-2.0zM123.1 290.3h2.0v2.0h-2.0zM124.3 292.0h2.0v2.0h-2.0zM125.6 290.1h2.0v2.0h-2.0zM126.8 292.3h2.0v2.0h-2.0zM128.1 282.6h2.0v2.0h-2.0zM129.3 297.3h2.0v2.0h-2.0zM130.6 294.0h2.0v2.0h-2.0zM131.8 277.0h2.0v2.0h-2.0zM133.1 288.0h2.0v2.0h-2.0zM134.3 286.4h2.0v2.0h-2.0zM135.5 287.6h2.0v2.0h-2.0zM136.8 288.6h2.0v2.0h-2.0zM138.0 287.9h2.0v2.0h-2.0zM139.3 288.3h2.0v2.0h-2.0zM140.5 294.4h2.0v2.0h-2.0zM141.8 291.7h2.0v2.0h-2.0zM143.0 289.2h2.0v2.0h-2.0zM144.3 291.3h2.0v2.0h-2.0zM145.5 295.5h2.0v2.0h-2.0zM146.7 286.0h2.0v2.0h-2.0zM148.0 288.8h2.0v2.0h-2.0zM149.2 292.9h2.0v2.0h-2.0zM150.5 280.3h2.0v2.0h-2.0zM151.7 291.0h2.0v2.0h-2.0zM153.0 283.6h2.0v2.0h-2.0zM154.2 301.6h2.0v2.0h-2.0zM155.5 293.7h2.0v2.0h-2.0zM156.7 294.7h2.0v2.0h-2.0zM157.9 289.7h2.0v2.0h-2.0zM159.2 291.2h2.0v2.0h-2.0zM160.4 293.4h2.0v2.0h-2.0zM161.7 297.9h2.0v2.0h-2.0zM162.9 291.3h2.0v2.0h-2.0zM164.2 286.4h2.0v2.0h-2.0zM165.4 293.9h2.0v2.0h-2.0zM166.7 296.2h2.0v2.0h-2.0zM167.9 287.3h2.0v2.0h-2.0zM169.1 297.6h2.0v2.0h-2.0zM170.4 295.3h2.0v2.0h-2.0zM171.6 289.3h2.0v2.0h-2.0zM172.9 290.8h2.0v2.0h-2.0zM174.1 292.3h2.0v2.0h-2.0zM175.4 285.5h2.0v2.0h-2.0zM176.6 292.2h2.0v2.0h-2.0zM177.9 283.2h2.0v2.0h-2.0zM179.1 291.7h2.0v2.0h-2.0zM180.3 287.6h2.0v2.0h-2.0zM181.6 288.4h2.0v2.0h-2.0zM182.8 276.6h2.0v2.0h-2.0zM184.1 289.9h2.0v2.0h-2.0zM185.3 293.5h2.0v2.0h-2.0zM186.6 289.1h2.0v2.0h-2.0zM187.8 286.7h2.0v2.0h-2.0zM189.1 289.4h2.0v2.0h-2.0zM190.3 282.7h2.0v2.0h-2.0zM191.6 285.0h2.0v2.0h-2.0zM192.8 297.5h2.0v2.0h-2.0zM194.0 294.0h2.0v2.0h-2.0zM195.3 289.9h2.0v2.0h-2.0zM196.5 287.8h2.0v2.0h-2.0zM197.8 280.4h2.0v2.0h-2.0zM199.0 293.0h2.0v2.0h-2.0zM200.3 292.7h2.0v2.0h-2.0zM201.5 296.4h2.0v2.0h-2.0zM202.8 284.9h2.0v2.0h-2.0zM204.0 294.3h2.0v2.0h-2.0zM205.2 286.4h2.0v2.0h-2.0zM206.5 282.8h2.0v2.0h-2.0zM207.7 285.3h2.0v2.0h-2.0zM209.0 299.6h2.0v2.0h-2.0zM210.2 286.7h2.0v2.0h-2.0zM211.5 290.0h2.0v2.0h-2.0zM212.7 294.5h2.0v2.0h-2.0zM214.0 294.7h2.0v2.0h-2.0zM215.2 285.7h2.0v2.0h-2.0z" fill="#8778B3" fill-opacity="0.6"/>
<path d="M29.7 291.9h2.0v2.0h-2.0zM31.0 280.2h2.0v2.0h-2.0zM32.2 293.3h2.0v2.0h-2.0zM33.5 290.7h2.0v2.0h-2.0zM34.7 292.0h2.0v2.0h-2.0zM36.0 283.9h2.0v2.0h-2.0zM37.2 290.7h2.0v2.0h-2.0zM38.5 286.5h2.0v2.0h-2.0zM39.7 280.5h2.0v2.0h-2.0zM40.9 289.7h2.0v2.0h-2.0zM42.2 283.3h2.0v2.0h-2.0zM43.4 296.3h2.0v2.0h-2.0zM44.7 291.3h2.0v2.0h-2.0zM45.9 291.2h2.0v2.0h-2.0zM47.2 283.4h2.0v2.0h-2.0zM48.4 283.6h2.0v2.0h-2.0zM49.7 286.4h2.0v2.0h-2.0zM50.9 292.2h2.0v2.0h-2.0zM52.1 289.7h2.0v2.0h-2.0zM53.4 293.2h2.0v2.0h-2.0zM54.6 286.9h2.0v2.0h-2.0zM55.9 284.5h2.0v2.0h-2.0zM57.1 287.6h2.0v2.0h-2.0zM58.4 290.2h2.0v2.0h-2.0zM59.6 290.0h2.0v2.0h-2.0zM60.9 290.8h2.0v2.0h-2.0zM62.1 291.3h2.0v2.0h-2.0zM63.4 285.1h2.0v2.0h-2.0zM64.6 289.8h2.0v2.0h-2.0zM65.8 290.7h2.0v2.0h-2.0zM67.1 287.5h2.0v2.0h-2.0zM68.3 295.9h2.0v2.0h-2.0zM69.6 291.0h2.0v2.0h-2.0zM70.8 292.4h2.0v2.0h-2.0zM72.1 292.3h2.0v2.0h-2.0zM73.3 289.9h2.0v2.0h-2.0zM74.6 289.4h2.0v2.0h-2.0zM75.8 283.5h2.0v2.0h-2.0zM77.0 282.8h2.0v2.0h-2.0zM78.3 293.4h2.0v2.0h-2.0zM79.5 292.0h2.0v2.0h-2.0zM80.8 293.3h2.0v2.0h-2.0zM82.0 290.5h2.0v2.0h-2.0zM83.3 293.0h2.0v2.0h-2.0zM84.5 288.3h2.0v2.0h-2.0zM85.8 287.3h2.0v2.0h-2.0zM87.0 289.9h2.0v2.0h-2.0zM88.2 292.0h2.0v2.0h-2.0zM89.5 285.7h2.0v2.0h-2.0zM90.7 289.6h2.0v2.0h-2.0zM92.0 286.7h2.0v2.0h-2.0zM93.2 285.8h2.0v2.0h-2.0zM94.5 285.6h2.0v2.0h-2.0zM95.7 293.1h2.0v2.0h-2.0zM97.0 288.6h2.0v2.0h-2.0zM98.2 290.3h2.0v2.0h-2.0zM99.4 291.5h2.0v2.0h-2.0zM100.7 290.9h2.0v2.0h-2.0zM101.9 290.0h2.0v2.0h-2.0zM103.2 290.6h2.0v2.0h-2.0zM104.4 296.9h2.0v2.0h-2.0zM105.7 287.5h2.0v2.0h-2.0zM106.9 293.2h2.0v2.0h-2.0zM108.2 285.5h2.0v2.0h-2.0zM109.4 288.3h2.0v2.0h-2.0zM110.6 289.0h2.0v2.0h-2.0zM111.9 284.3h2.0v2.0h-2.0zM113.1 289.2h2.0v2.0h-2.0zM114.4 288.1h2.0v2.0h-2.0zM115.6 294.1h2.0v2.0h-2.0zM116.9 288.1h2.0v2.0h-2.0zM118.1 290.6h2.0v2.0h-2.0zM119.4 294.8h2.0v2.0h-2.0zM120.6 292.0h2.0v2.0h-2.0zM121.8 290.1h2.0v2.0h-2.0zM123.1 292.1h2.0v2.0h-2.0zM124.3 293.5h2.0v2.0h-2.0zM125.6 290.5h2.0v2.0h-2.0zM126.8 296.6h2.0v2.0h-2.0zM128.1 288.5h2.0v2.0h-2.0zM129.3 292.2h2.0v2.0h-2.0zM130.6 290.1h2.0v2.0h-2.0zM131.8 288.7h2.0v2.0h-2.0zM133.1 283.9h2.0v2.0h-2.0zM134.3 287.8h2.0v2.0h-2.0zM135.5 289.0h2.0v2.0h-2.0zM136.8 290.4h2.0v2.0h-2.0zM138.0 292.0h2.0v2.0h-2.0zM139.3 284.9h2.0v2.0h-2.0zM140.5 280.2h2.0v2.0h-2.0zM141.8 290.3h2.0v2.0h-2.0zM143.0 281.4h2.0v2.0h-2.0zM144.3 290.1h2.0v2.0h-2.0zM145.5 290.4h2.0v2.0h-2.0zM146.7 295.3h2.0v2.0h-2.0zM148.0 291.6h2.0v2.0h-2.0zM149.2 288.3h2.0v2.0h-2.0zM150.5 286.0h2.0v2.0h-2.0zM151.7 287.0h2.0v2.0h-2.0zM153.0 291.9h2.0v2.0h-2.0zM154.2 286.2h2.0v2.0h-2.0zM155.5 284.8h2.0v2.0h-2.0zM156.7 288.3h2.0v2.0h-2.0zM157.9 285.9h2.0v2.0h-2.0zM159.2 294.3h2.0v2.0h-2.0zM160.4 293.4h2.0v2.0h-2.0zM161.7 286.7h2.0v2.0h-2.0zM162.9 288.3h2.0v2.0h-2.0zM164.2 291.9h2.0v2.0h-2.0zM165.4 296.5h2.0v2.0h-2.0zM166.7 293.3h2.0v2.0h-2.0zM167.9 288.0h2.0v2.0h-2.0zM169.1 286.0h2.0v2.0h-2.0zM170.4 289.7h2.0v2.0h-2.0zM171.6 286.0h2.0v2.0h-2.0zM172.9 290.1h2.0v2.0h-2.0zM174.1 293.1h2.0v2.0h-2.0zM175.4 287.5h2.0v2.0h-2.0zM176.6 289.3h2.0v2.0h-2.0zM177.9 286.2h2.0v2.0h-2.0zM179.1 291.7h2.0v2.0h-2.0zM180.3 296.1h2.0v2.0h-2.0zM181.6 288.1h2.0v2.0h-2.0zM182.8 288.7h2.0v2.0h-2.0zM184.1 299.6h2.0v2.0h-2.0zM185.3 290.6h2.0v2.0h-2.0zM186.6 293.3h2.0v2.0h-2.0zM187.8 292.3h2.0v2.0h-2.0zM189.1 286.2h2.0v2.0h-2.0zM190.3 284.5h2.0v2.0h-2.0zM191.6 292.7h2.0v2.0h-2.0zM192.8 290.9h2.0v2.0h-2.0zM194.0 289.8h2.0v2.0h-2.0zM195.3 291.7h2.0v2.0h-2.0zM196.5 287.5h2.0v2.0h-2.0zM197.8 292.0h2.0v2.0h-2.0zM199.0 285.2h2.0v2.0h-2.0zM200.3 299.8h2.0v2.0h-2.0zM201.5 290.4h2.0v2.0h-2.0zM202.8 293.0h2.0v2.0h-2.0zM204.0 283.9h2.0v2.0h-2.0zM205.2 285.9h2.0v2.0h-2.0zM206.5 293.4h2.0v2.0h-2.0zM207.7 300.6h2.0v2.0h-2.0zM209.0 291.4h2.0v2.0h-2.0zM210.2 290.1h2.0v2.0h-2.0zM211.5 290.4h2.0v2.0h-2.0zM212.7 292.8h2.0v2.0h-2.0zM214.0 290.4h2.0v2.0h-2.0zM215.2 293.0h2.0v2.0h-2.0z" fill="#8FB032" fill-opacity="0.6"/>
<path d="M29.7 288.7h2.0v2.0h-2.0zM31.0 288.1h2.0v2.0h-2.0zM32.2 288.1h2.0v2.0h-2.0zM33.5 286.8h2.0v2.0h-2.0zM34.7 289.8h2.0v2.0h-2.0zM36.0 290.2h2.0v2.0h-2.0zM37.2 280.4h2.0v2.0h-2.0zM38.5 286.9h2.0v2.0h-2.0zM39.7 283.5h2.0v2.0h-2.0zM40.9 292.3h2.0v2.0h-2.0zM42.2 292.3h2.0v2.0h-2.0zM43.4 285.3h2.0v2.0h-2.0zM44.7 296.7h2.0v2.0h-2.0zM45.9 286.6h2.0v2.0h-2.0zM47.2 286.9h2.0v2.0h-2.0zM48.4 294.7h2.0v2.0h-2.0zM49.7 286.8h2.0v2.0h-2.0zM50.9 288.6h2.0v2.0h-2.0zM52.1 282.5h2.0v2.0h-2.0zM53.4 294.4h2.0v2.0h-2.0zM54.6 290.5h2.0v2.0h-2.0zM55.9 286.4h2.0v2.0h-2.0zM57.1 288.1h2.0v2.0h-2.0zM58.4 289.4h2.0v2.0h-2.0zM59.6 287.7h2.0v2.0h-2.0zM60.9 292.1h2.0v2.0h-2.0zM62.1 293.1h2.0v2.0h-2.0zM63.4 288.0h2.0v2.0h-2.0zM64.6 292.1h2.0v2.0h-2.0zM65.8 289.7h2.0v2.0h-2.0zM67.1 290.4h2.0v2.0h-2.0zM68.3 288.9h2.0v2.0h-2.0zM69.6 295.5h2.0v2.0h-2.0zM70.8 293.8h2.0v2.0h-2.0zM72.1 282.6h2.0v2.0h-2.0zM73.3 290.5h2.0v2.0h-2.0zM74.6 288.5h2.0v2.0h-2.0zM75.8 293.7h2.0v2.0h-2.0zM77.0 291.7h2.0v2.0h-2.0zM78.3 288.2h2.0v2.0h-2.0zM79.5 289.7h2.0v2.0h-2.0zM80.8 293.5h2.0v2.0h-2.0zM82.0 276.4h2.0v2.0h-2.0zM83.3 288.4h2.0v2.0h-2.0zM84.5 291.8h2.0v2.0h-2.0zM85.8 287.5h2.0v2.0h-2.0zM87.0 293.0h2.0v2.0h-2.0zM88.2 289.8h2.0v2.0h-2.0zM89.5 292.2h2.0v2.0h-2.0zM90.7 284.5h2.0v2.0h-2.0zM92.0 290.2h2.0v2.0h-2.0zM93.2 295.8h2.0v2.0h-2.0zM94.5 284.9h2.0v2.0h-2.0zM95.7 291.2h2.0v2.0h-2.0zM97.0 288.2h2.0v2.0h-2.0zM98.2 291.9h2.0v2.0h-2.0zM99.4 289.8h2.0v2.0h-2.0zM100.7 289.2h2.0v2.0h-2.0zM101.9 291.4h2.0v2.0h-2.0zM103.2 292.1h2.0v2.0h-2.0zM104.4 285.7h2.0v2.0h-2.0zM105.7 287.3h2.0v2.0h-2.0zM106.9 288.1h2.0v2.0h-2.0zM108.2 287.5h2.0v2.0h-2.0zM109.4 291.1h2.0v2.0h-2.0zM110.6 290.7h2.0v2.0h-2.0zM111.9 293.1h2.0v2.0h-2.0zM113.1 296.3h2.0v2.0h-2.0zM114.4 288.4h2.0v2.0h-2.0zM115.6 280.8h2.0v2.0h-2.0zM116.9 292.0h2.0v2.0h-2.0zM118.1 283.0h2.0v2.0h-2.0zM119.4 297.0h2.0v2.0h-2.0zM120.6 288.6h2.0v2.0h-2.0zM121.8 287.4h2.0v2.0h-2.0zM123.1 287.2h2.0v2.0h-2.0zM124.3 291.0h2.0v2.0h-2.0zM125.6 288.2h2.0v2.0h-2.0zM126.8 287.9h2.0v2.0h-2.0zM128.1 294.6h2.0v2.0h-2.0zM129.3 290.6h2.0v2.0h-2.0zM130.6 291.3h2.0v2.0h-2.0zM131.8 287.9h2.0v2.0h-2.0zM133.1 296.6h2.0v2.0h-2.0zM134.3 292.9h2.0v2.0h-2.0zM135.5 289.9h2.0v2.0h-2.0zM136.8 292.9h2.0v2.0h-2.0zM138.0 290.5h2.0v2.0h-2.0zM139.3 285.3h2.0v2.0h-2.0zM140.5 286.4h2.0v2.0h-2.0zM141.8 281.4h2.0v2.0h-2.0zM143.0 293.7h2.0v2.0h-2.0zM144.3 295.7h2.0v2.0h-2.0zM145.5 291.2h2.0v2.0h-2.0zM146.7 296.1h2.0v2.0h-2.0zM148.0 291.6h2.0v2.0h-2.0zM149.2 292.4h2.0v2.0h-2.0zM150.5 292.6h2.0v2.0h-2.0zM151.7 294.1h2.0v2.0h-2.0zM153.0 285.7h2.0v2.0h-2.0zM154.2 293.5h2.0v2.0h-2.0zM155.5 293.2h2.0v2.0h-2.0zM156.7 282.9h2.0v2.0h-2.0zM157.9 287.3h2.0v2.0h-2.0zM159.2 294.8h2.0v2.0h-2.0zM160.4 285.0h2.0v2.0h-2.0zM161.7 292.4h2.0v2.0h-2.0zM162.9 291.7h2.0v2.0h-2.0zM164.2 284.7h2.0v2.0h-2.0zM165.4 293.5h2.0v2.0h-2.0zM166.7 293.0h2.0v2.0h-2.0zM167.9 300.3h2.0v2.0h-2.0zM169.1 290.1h2.0v2.0h-2.0zM170.4 287.0h2.0v2.0h-2.0zM171.6 287.0h2.0v2.0h-2.0zM172.9 289.0h2.0v2.0h-2.0zM174.1 287.1h2.0v2.0h-2.0zM175.4 291.3h2.0v2.0h-2.0zM176.6 288.6h2.0v2.0h-2.0zM177.9 292.6h2.0v2.0h-2.0zM179.1 283.7h2.0v2.0h-2.0zM180.3 289.8h2.0v2.0h-2.0zM181.6 292.9h2.0v2.0h-2.0zM182.8 295.4h2.0v2.0h-2.0zM184.1 282.3h2.0v2.0h-2.0zM185.3 298.3h2.0v2.0h-2.0zM186.6 281.1h2.0v2.0h-2.0zM187.8 292.1h2.0v2.0h-2.0zM189.1 283.8h2.0v2.0h-2.0zM190.3 282.6h2.0v2.0h-2.0zM191.6 281.4h2.0v2.0h-2.0zM192.8 282.0h2.0v2.0h-2.0zM194.0 296.7h2.0v2.0h-2.0zM195.3 291.9h2.0v2.0h-2.0zM196.5 294.3h2.0v2.0h-2.0zM197.8 293.6h2.0v2.0h-2.0zM199.0 298.3h2.0v2.0h-2.0zM200.3 285.5h2.0v2.0h-2.0zM201.5 293.0h2.0v2.0h-2.0zM202.8 292.2h2.0v2.0h-2.0zM204.0 301.0h2.0v2.0h-2.0zM205.2 288.6h2.0v2.0h-2.0zM206.5 294.0h2.0v2.0h-2.0zM207.7 291.4h2.0v2.0h-2.0zM209.0 284.8h2.0v2.0h-2.0zM210.2 295.9h2.0v2.0h-2.0zM211.5 283.6h2.0v2.0h-2.0zM212.7 293.6h2.0v2.0h-2.0zM214.0 285.3h2.0v2.0h-2.0zM215.2 288.2h2.0v2.0h-2.0z" fill="#929600" fill-opacity="0.6"/>
<path d="M29.7 288.3h2.0v2.0h-2.0zM31.0 284.4h2.0v2.0h-2.0zM32.2 292.9h2.0v2.0h-2.0zM33.5 291.4h2.0v2.0h-2.0zM34.7 293.2h2.0v2.0h-2.0zM36.0 291.4h2.0v2.0h-2.0zM37.2 294.1h2.0v2.0h-2.0zM38.5 285.5h2.0v2.0h-2.0zM39.7 286.5h2.0v2.0h-2.0zM40.9 294.4h2.0v2.0h-2.0zM42.2 290.1h2.0v2.0h-2.0zM43.4 292.4h2.0v2.0h-2.0zM44.7 288.4h2.0v2.0h-2.0zM45.9 289.9h2.0v2.0h-2.0zM47.2 286.9h2.0v2.0h-2.0zM48.4 289.3h2.0v2.0h-2.0zM49.7 294.3h2.0v2.0h-2.0zM50.9 294.8h2.0v2.0h-2.0zM52.1 289.1h2.0v2.0h-2.0zM53.4 286.7h2.0v2.0h-2.0zM54.6 290.0h2.0v2.0h-2.0zM55.9 289.0h2.0v2.0h-2.0zM57.1 284.5h2.0v2.0h-2.0zM58.4 294.0h2.0v2.0h-2.0zM59.6 287.1h2.0v2.0h-2.0zM60.9 289.3h2.0v2.0h-2.0zM62.1 293.5h2.0v2.0h-2.0zM63.4 289.7h2.0v2.0h-2.0zM64.6 282.8h2.0v2.0h-2.0zM65.8 289.4h2.0v2.0h-2.0zM67.1 282.2h2.0v2.0h-2.0zM68.3 298.0h2.0v2.0h-2.0zM69.6 295.0h2.0v2.0h-2.0zM70.8 281.9h2.0v2.0h-2.0zM72.1 296.2h2.0v2.0h-2.0zM73.3 283.7h2.0v2.0h-2.0zM74.6 293.4h2.0v2.0h-2.0zM75.8 294.2h2.0v2.0h-2.0zM77.0 287.3h2.0v2.0h-2.0zM78.3 292.6h2.0v2.0h-2.0zM79.5 290.7h2.0v2.0h-2.0zM80.8 289.4h2.0v2.0h-2.0zM82.0 289.8h2.0v2.0h-2.0zM83.3 291.5h2.0v2.0h-2.0zM84.5 291.6h2.0v2.0h-2.0zM85.8 288.7h2.0v2.0h-2.0zM87.0 289.4h2.0v2.0h-2.0zM88.2 289.5h2.0v2.0h-2.0zM89.5 285.2h2.0v2.0h-2.0zM90.7 284.7h2.0v2.0h-2.0zM92.0 285.4h2.0v2.0h-2.0zM93.2 292.5h2.0v2.0h-2.0zM94.5 290.1h2.0v2.0h-2.0zM95.7 286.8h2.0v2.0h-2.0zM97.0 288.1h2.0v2.0h-2.0zM98.2 301.6h2.0v2.0h-2.0zM99.4 288.7h2.0v2.0h-2.0zM100.7 297.2h2.0v2.0h-2.0zM101.9 295.7h2.0v2.0h-2.0zM103.2 289.1h2.0v2.0h-2.0zM104.4 294.8h2.0v2.0h-2.0zM105.7 286.2h2.0v2.0h-2.0zM106.9 285.2h2.0v2.0h-2.0zM108.2 290.4h2.0v2.0h-2.0zM109.4 287.2h2.0v2.0h-2.0zM110.6 287.6h2.0v2.0h-2.0zM111.9 287.3h2.0v2.0h-2.0zM113.1 284.0h2.0v2.0h-2.0zM114.4 288.7h2.0v2.0h-2.0zM115.6 294.8h2.0v2.0h-2.0zM116.9 292.2h2.0v2.0h-2.0zM118.1 286.4h2.0v2.0h-2.0zM119.4 289.5h2.0v2.0h-2.0zM120.6 293.7h2.0v2.0h-2.0zM121.8 292.9h2.0v2.0h-2.0zM123.1 290.7h2.0v2.0h-2.0zM124.3 287.1h2.0v2.0h-2.0zM125.6 289.3h2.0v2.0h-2.0zM126.8 301.8h2.0v2.0h-2.0zM128.1 291.3h2.0v2.0h-2.0zM129.3 292.2h2.0v2.0h-2.0zM130.6 287.6h2.0v2.0h-2.0zM131.8 295.7h2.0v2.0h-2.0zM133.1 288.9h2.0v2.0h-2.0zM134.3 291.4h2.0v2.0h-2.0zM135.5 288.6h2.0v2.0h-2.0zM136.8 290.7h2.0v2.0h-2.0zM138.0 286.2h2.0v2.0h-2.0zM139.3 290.0h2.0v2.0h-2.0zM140.5 294.9h2.0v2.0h-2.0zM141.8 289.3h2.0v2.0h-2.0zM143.0 292.6h2.0v2.0h-2.0zM144.3 293.3h2.0v2.0h-2.0zM145.5 288.9h2.0v2.0h-2.0zM146.7 292.6h2.0v2.0h-2.0zM148.0 290.6h2.0v2.0h-2.0zM149.2 289.2h2.0v2.0h-2.0zM150.5 289.1h2.0v2.0h-2.0zM151.7 289.3h2.0v2.0h-2.0zM153.0 293.6h2.0v2.0h-2.0zM154.2 290.1h2.0v2.0h-2.0zM155.5 276.8h2.0v2.0h-2.0zM156.7 285.5h2.0v2.0h-2.0zM157.9 286.7h2.0v2.0h-2.0zM159.2 291.9h2.0v2.0h-2.0zM160.4 290.8h2.0v2.0h-2.0zM161.7 288.7h2.0v2.0h-2.0zM162.9 293.4h2.0v2.0h-2.0zM164.2 287.5h2.0v2.0h-2.0zM165.4 290.7h2.0v2.0h-2.0zM166.7 287.6h2.0v2.0h-2.0zM167.9 285.5h2.0v2.0h-2.0zM169.1 293.2h2.0v2.0h-2.0zM170.4 286.2h2.0v2.0h-2.0zM171.6 291.9h2.0v2.0h-2.0zM172.9 296.1h2.0v2.0h-2.0zM174.1 288.0h2.0v2.0h-2.0zM175.4 291.9h2.0v2.0h-2.0zM176.6 286.3h2.0v2.0h-2.0zM177.9 288.0h2.0v2.0h-2.0zM179.1 288.9h2.0v2.0h-2.0zM180.3 291.0h2.0v2.0h-2.0zM181.6 294.4h2.0v2.0h-2.0zM182.8 279.8h2.0v2.0h-2.0zM184.1 290.0h2.0v2.0h-2.0zM185.3 292.6h2.0v2.0h-2.0zM186.6 293.6h2.0v2.0h-2.0zM187.8 291.3h2.0v2.0h-2.0zM189.1 294.6h2.0v2.0h-2.0zM190.3 295.0h2.0v2.0h-2.0zM191.6 286.8h2.0v2.0h-2.0zM192.8 288.7h2.0v2.0h-2.0zM194.0 289.4h2.0v2.0h-2.0zM195.3 291.6h2.0v2.0h-2.0zM196.5 292.6h2.0v2.0h-2.0zM197.8 288.2h2.0v2.0h-2.0zM199.0 300.9h2.0v2.0h-2.0zM200.3 285.5h2.0v2.0h-2.0zM201.5 293.3h2.0v2.0h-2.0zM202.8 286.3h2.0v2.0h-2.0zM204.0 284.8h2.0v2.0h-2.0zM205.2 295.1h2.0v2.0h-2.0zM206.5 287.5h2.0v2.0h-2.0zM207.7 291.2h2.0v2.0h-2.0zM209.0 288.3h2.0v2.0h-2.0zM210.2 291.9h2.0v2.0h-2.0zM211.5 290.8h2.0v2.0h-2.0zM212.7 286.1h2.0v2.0h-2.0zM214.0 292.1h2.0v2.0h-2.0zM215.2 290.7h2.0v2.0h-2.0z" fill="#5D9EC7" fill-opacity="0.6"/>
<path d="M29.7 288.0h2.0v2.0h-2.0zM31.0 291.6h2.0v2.0h-2.0zM32.2 296.9h2.0v2.0h-2.0zM33.5 292.2h2.0v2.0h-2.0zM34.7 284.2h2.0v2.0h-2.0zM36.0 291.6h2.0v2.0h-2.0zM37.2 289.9h2.0v2.0h-2.0zM38.5 275.5h2.0v2.0h-2.0zM39.7 284.9h2.0v2.0h-2.0zM40.9 287.0h2.0v2.0h-2.0zM42.2 292.3h2.0v2.0h-2.0zM43.4 284.0h2.0v2.0h-2.0zM44.7 284.4h2.0v2.0h-2.0zM45.9 288.1h2.0v2.0h-2.0zM47.2 295.9h2.0v2.0h-2.0zM48.4 287.4h2.0v2.0h-2.0zM49.7 289.6h2.0v2.0h-2.0zM50.9 291.4h2.0v2.0h-2.0zM52.1 288.0h2.0v2.0h-2.0zM53.4 302.3h2.0v2.0h-2.0zM54.6 290.9h2.0v2.0h-2.0zM55.9 299.2h2.0v2.0h-2.0zM57.1 288.0h2.0v2.0h-2.0zM58.4 289.4h2.0v2.0h-2.0zM59.6 287.4h2.0v2.0h-2.0zM60.9 286.5h2.0v2.0h-2.0zM62.1 294.0h2.0v2.0h-2.0zM63.4 291.3h2.0v2.0h-2.0zM64.6 289.9h2.0v2.0h-2.0zM65.8 292.3h2.0v2.0h-2.0zM67.1 291.6h2.0v2.0h-2.0zM68.3 287.8h2.0v2.0h-2.0zM69.6 289.4h2.0v2.0h-2.0zM70.8 289.1h2.0v2.0h-2.0zM72.1 290.6h2.0v2.0h-2.0zM73.3 285.8h2.0v2.0h-2.0zM74.6 289.1h2.0v2.0h-2.0zM75.8 285.3h2.0v2.0h-2.0zM77.0 294.3h2.0v2.0h-2.0zM78.3 295.1h2.0v2.0h-2.0zM79.5 293.8h2.0v2.0h-2.0zM80.8 292.4h2.0v2.0h-2.0zM82.0 293.9h2.0v2.0h-2.0zM83.3 286.7h2.0v2.0h-2.0zM84.5 295.6h2.0v2.0h-2.0zM85.8 294.9h2.0v2.0h-2.0zM87.0 286.6h2.0v2.0h-2.0zM88.2 290.4h2.0v2.0h-2.0zM89.5 286.3h2.0v2.0h-2.0zM90.7 287.7h2.0v2.0h-2.0zM92.0 283.6h2.0v2.0h-2.0zM93.2 291.0h2.0v2.0h-2.0zM94.5 294.1h2.0v2.0h-2.0zM95.7 290.6h2.0v2.0h-2.0zM97.0 292.6h2.0v2.0h-2.0zM98.2 290.0h2.0v2.0h-2.0zM99.4 292.5h2.0v2.0h-2.0zM100.7 296.9h2.0v2.0h-2.0zM101.9 291.6h2.0v2.0h-2.0zM103.2 288.5h2.0v2.0h-2.0zM104.4 292.9h2.0v2.0h-2.0zM105.7 291.6h2.0v2.0h-2.0zM106.9 289.3h2.0v2.0h-2.0zM108.2 291.1h2.0v2.0h-2.0zM109.4 290.9h2.0v2.0h-2.0zM110.6 285.8h2.0v2.0h-2.0zM111.9 292.0h2.0v2.0h-2.0zM113.1 286.9h2.0v2.0h-2.0zM114.4 288.8h2.0v2.0h-2.0zM115.6 296.6h2.0v2.0h-2.0zM116.9 289.7h2.0v2.0h-2.0zM118.1 286.3h2.0v2.0h-2.0zM119.4 289.2h2.0v2.0h-2.0zM120.6 281.8h2.0v2.0h-2.0zM121.8 289.9h2.0v2.0h-2.0zM123.1 292.5h2.0v2.0h-2.0zM124.3 288.5h2.0v2.0h-2.0zM125.6 283.7h2.0v2.0h-2.0zM126.8 283.0h2.0v2.0h-2.0zM128.1 294.0h2.0v2.0h-2.0zM129.3 287.3h2.0v2.0h-2.0zM130.6 286.7h2.0v2.0h-2.0zM131.8 296.0h2.0v2.0h-2.0zM133.1 293.0h2.0v2.0h-2.0zM134.3 285.5h2.0v2.0h-2.0zM135.5 282.6h2.0v2.0h-2.0zM136.8 291.8h2.0v2.0h-2.0zM138.0 290.0h2.0v2.0h-2.0zM139.3 287.4h2.0v2.0h-2.0zM140.5 285.3h2.0v2.0h-2.0zM141.8 292.6h2.0v2.0h-2.0zM143.0 291.8h2.0v2.0h-2.0zM144.3 290.0h2.0v2.0h-2.0zM145.5 292.0h2.0v2.0h-2.0zM146.7 287.7h2.0v2.0h-2.0zM148.0 289.0h2.0v2.0h-2.0zM149.2 286.4h2.0v2.0h-2.0zM150.5 295.4h2.0v2.0h-2.0zM151.7 283.4h2.0v2.0h-2.0zM153.0 288.7h2.0v2.0h-2.0zM154.2 293.4h2.0v2.0h-2.0zM155.5 288.2h2.0v2.0h-2.0zM156.7 277.8h2.0v2.0h-2.0zM157.9 294.3h2.0v2.0h-2.0zM159.2 290.6h2.0v2.0h-2.0zM160.4 294.8h2.0v2.0h-2.0zM161.7 288.8h2.0v2.0h-2.0zM162.9 298.0h2.0v2.0h-2.0zM164.2 289.8h2.0v2.0h-2.0zM165.4 296.5h2.0v2.0h-2.0zM166.7 294.7h2.0v2.0h-2.0zM167.9 290.5h2.0v2.0h-2.0zM169.1 287.1h2.0v2.0h-2.0zM170.4 291.9h2.0v2.0h-2.0zM171.6 294.6h2.0v2.0h-2.0zM172.9 291.3h2.0v2.0h-2.0zM174.1 286.9h2.0v2.0h-2.0zM175.4 299.2h2.0v2.0h-2.0zM176.6 293.9h2.0v2.0h-2.0zM177.9 291.3h2.0v2.0h-2.0zM179.1 292.3h2.0v2.0h-2.0zM180.3 290.6h2.0v2.0h-2.0zM181.6 285.0h2.0v2.0h-2.0zM182.8 291.3h2.0v2.0h-2.0zM184.1 290.5h2.0v2.0h-2.0zM185.3 288.0h2.0v2.0h-2.0zM186.6 285.9h2.0v2.0h-2.0zM187.8 286.7h2.0v2.0h-2.0zM189.1 287.4h2.0v2.0h-2.0zM190.3 281.0h2.0v2.0h-2.0zM191.6 291.3h2.0v2.0h-2.0zM192.8 280.2h2.0v2.0h-2.0zM194.0 291.2h2.0v2.0h-2.0zM195.3 289.8h2.0v2.0h-2.0zM196.5 292.3h2.0v2.0h-2.0zM197.8 288.9h2.0v2.0h-2.0zM199.0 283.8h2.0v2.0h-2.0zM200.3 290.9h2.0v2.0h-2.0zM201.5 286.7h2.0v2.0h-2.0zM202.8 286.5h2.0v2.0h-2.0zM204.0 289.1h2.0v2.0h-2.0zM205.2 291.5h2.0v2.0h-2.0zM206.5 286.2h2.0v2.0h-2.0zM207.7 286.3h2.0v2.0h-2.0zM209.0 288.8h2.0v2.0h-2.0zM210.2 291.9h2.0v2.0h-2.0zM211.5 296.1h2.0v2.0h-2.0zM212.7 288.8h2.0v2.0h-2.0zM214.0 297.9h2.0v2.0h-2.0zM215.2 292.1h2.0v2.0h-2.0z" fill="#FFBF00" fill-opacity="0.6"/>
<path d="M29.7 283.4h2.0v2.0h-2.0zM31.0 287.0h2.0v2.0h-2.0zM32.2 285.2h2.0v2.0h-2.0zM33.5 280.3h2.0v2.0h-2.0zM34.7 291.0h2.0v2.0h-2.0zM36.0 294.5h2.0v2.0h-2.0zM37.2 293.0h2.0v2.0h-2.0zM38.5 290.9h2.0v2.0h-2.0zM39.7 284.4h2.0v2.0h-2.0zM40.9 292.5h2.0v2.0h-2.0zM42.2 291.2h2.0v2.0h-2.0zM43.4 279.3h2.0v2.0h-2.0zM44.7 280.2h2.0v2.0h-2.0zM45.9 292.2h2.0v2.0h-2.0zM47.2 287.0h2.0v2.0h-2.0zM48.4 289.5h2.0v2.0h-2.0zM49.7 288.6h2.0v2.0h-2.0zM50.9 289.5h2.0v2.0h-2.0zM52.1 288.1h2.0v2.0h-2.0zM53.4 282.9h2.0v2.0h-2.0zM54.6 292.9h2.0v2.0h-2.0zM55.9 289.1h2.0v2.0h-2.0zM57.1 286.2h2.0v2.0h-2.0zM58.4 290.4h2.0v2.0h-2.0zM59.6 293.8h2.0v2.0h-2.0zM60.9 285.7h2.0v2.0h-2.0zM62.1 292.3h2.0v2.0h-2.0zM63.4 289.5h2.0v2.0h-2.0zM64.6 286.2h2.0v2.0h-2.0zM65.8 281.8h2.0v2.0h-2.0zM67.1 292.0h2.0v2.0h-2.0zM68.3 289.6h2.0v2.0h-2.0zM69.6 294.3h2.0v2.0h-2.0zM70.8 288.4h2.0v2.0h-2.0zM72.1 301.8h2.0v2.0h-2.0zM73.3 299.6h2.0v2.0h-2.0zM74.6 294.1h2.0v2.0h-2.0zM75.8 290.5h2.0v2.0h-2.0zM77.0 294.1h2.0v2.0h-2.0zM78.3 284.2h2.0v2.0h-2.0zM79.5 285.8h2.0v2.0h-2.0zM80.8 293.3h2.0v2.0h-2.0zM82.0 290.2h2.0v2.0h-2.0zM83.3 288.0h2.0v2.0h-2.0zM84.5 289.2h2.0v2.0h-2.0zM85.8 285.0h2.0v2.0h-2.0zM87.0 297.6h2.0v2.0h-2.0zM88.2 288.7h2.0v2.0h-2.0zM89.5 286.6h2.0v2.0h-2.0zM90.7 291.7h2.0v2.0h-2.0zM92.0 289.2h2.0v2.0h-2.0zM93.2 297.2h2.0v2.0h-2.0zM94.5 297.6h2.0v2.0h-2.0zM95.7 286.4h2.0v2.0h-2.0zM97.0 284.9h2.0v2.0h-2.0zM98.2 290.0h2.0v2.0h-2.0zM99.4 295.8h2.0v2.0h-2.0zM100.7 291.8h2.0v2.0h-2.0zM101.9 290.7h2.0v2.0h-2.0zM103.2 281.6h2.0v2.0h-2.0zM104.4 289.2h2.0v2.0h-2.0zM105.7 286.3h2.0v2.0h-2.0zM106.9 288.1h2.0v2.0h-2.0zM108.2 286.8h2.0v2.0h-2.0zM109.4 285.8h2.0v2.0h-2.0zM110.6 294.5h2.0v2.0h-2.0zM111.9 283.0h2.0v2.0h-2.0zM113.1 295.4h2.0v2.0h-2.0zM114.4 294.0h2.0v2.0h-2.0zM115.6 288.0h2.0v2.0h-2.0zM116.9 289.3h2.0v2.0h-2.0zM118.1 280.2h2.0v2.0h-2.0zM119.4 279.2h2.0v2.0h-2.0zM120.6 287.6h2.0v2.0h-2.0zM121.8 282.0h2.0v2.0h-2.0zM123.1 287.5h2.0v2.0h-2.0zM124.3 289.8h2.0v2.0h-2.0zM125.6 291.9h2.0v2.0h-2.0zM126.8 288.3h2.0v2.0h-2.0zM128.1 291.2h2.0v2.0h-2.0zM129.3 287.8h2.0v2.0h-2.0zM130.6 287.5h2.0v2.0h-2.0zM131.8 282.0h2.0v2.0h-2.0zM133.1 290.5h2.0v2.0h-2.0zM134.3 296.6h2.0v2.0h-2.0zM135.5 297.9h2.0v2.0h-2.0zM136.8 294.6h2.0v2.0h-2.0zM138.0 292.7h2.0v2.0h-2.0zM139.3 292.5h2.0v2.0h-2.0zM140.5 286.6h2.0v2.0h-2.0zM141.8 288.9h2.0v2.0h-2.0zM143.0 293.1h2.0v2.0h-2.0zM144.3 290.7h2.0v2.0h-2.0zM145.5 289.6h2.0v2.0h-2.0zM146.7 287.7h2.0v2.0h-2.0zM148.0 290.3h2.0v2.0h-2.0zM149.2 287.4h2.0v2.0h-2.0zM150.5 289.7h2.0v2.0h-2.0zM151.7 292.2h2.0v2.0h-2.0zM153.0 287.2h2.0v2.0h-2.0zM154.2 291.1h2.0v2.0h-2.0zM155.5 285.1h2.0v2.0h-2.0zM156.7 281.5h2.0v2.0h-2.0zM157.9 285.1h2.0v2.0h-2.0zM159.2 282.3h2.0v2.0h-2.0zM160.4 286.2h2.0v2.0h-2.0zM161.7 290.8h2.0v2.0h-2.0zM162.9 289.6h2.0v2.0h-2.0zM164.2 288.1h2.0v2.0h-2.0zM165.4 287.8h2.0v2.0h-2.0zM166.7 284.0h2.0v2.0h-2.0zM167.9 288.9h2.0v2.0h-2.0zM169.1 291.3h2.0v2.0h-2.0zM170.4 291.9h2.0v2.0h-2.0zM171.6 285.5h2.0v2.0h-2.0zM172.9 293.3h2.0v2.0h-2.0zM174.1 293.1h2.0v2.0h-2.0zM175.4 298.7h2.0v2.0h-2.0zM176.6 277.2h2.0v2.0h-2.0zM177.9 275.8h2.0v2.0h-2.0zM179.1 291.1h2.0v2.0h-2.0zM180.3 282.7h2.0v2.0h-2.0zM181.6 291.8h2.0v2.0h-2.0zM182.8 281.7h2.0v2.0h-2.0zM184.1 282.5h2.0v2.0h-2.0zM185.3 287.8h2.0v2.0h-2.0zM186.6 290.3h2.0v2.0h-2.0zM187.8 286.5h2.0v2.0h-2.0zM189.1 291.1h2.0v2.0h-2.0zM190.3 296.6h2.0v2.0h-2.0zM191.6 287.8h2.0v2.0h-2.0zM192.8 288.3h2.0v2.0h-2.0zM194.0 294.4h2.0v2.0h-2.0zM195.3 287.2h2.0v2.0h-2.0zM196.5 293.3h2.0v2.0h-2.0zM197.8 283.3h2.0v2.0h-2.0zM199.0 287.1h2.0v2.0h-2.0zM200.3 294.1h2.0v2.0h-2.0zM201.5 293.6h2.0v2.0h-2.0zM202.8 293.0h2.0v2.0h-2.0zM204.0 291.4h2.0v2.0h-2.0zM205.2 290.9h2.0v2.0h-2.0zM206.5 290.0h2.0v2.0h-2.0zM207.7 289.6h2.0v2.0h-2.0zM209.0 289.2h2.0v2.0h-2.0zM210.2 290.4h2.0v2.0h-2.0zM211.5 288.3h2.0v2.0h-2.0zM212.7 291.5h2.0v2.0h-2.0zM214.0 287.6h2.0v2.0h-2.0zM215.2 284.5h2.0v2.0h-2.0z" fill="#C56E1A" fill-opacity="0.6"/>
<path d="M29.7 290.0h2.0v2.0h-2.0zM31.0 287.0h2.0v2.0h-2.0zM32.2 287.1h2.0v2.0h-2.0zM33.5 291.3h2.0v2.0h-2.0zM34.7 281.6h2.0v2.0h-2.0zM36.0 289.2h2.0v2.0h-2.0zM37.2 286.9h2.0v2.0h-2.0zM38.5 295.4h2.0v2.0h-2.0zM39.7 295.7h2.0v2.0h-2.0zM40.9 283.2h2.0v2.0h-2.0zM42.2 283.6h2.0v2.0h-2.0zM43.4 289.3h2.0v2.0h-2.0zM44.7 299.7h2.0v2.0h-2.0zM45.9 293.0h2.0v2.0h-2.0zM47.2 289.2h2.0v2.0h-2.0zM48.4 286.8h2.0v2.0h-2.0zM49.7 292.6h2.0v2.0h-2.0zM50.9 290.9h2.0v2.0h-2.0zM52.1 292.3h2.0v2.0h-2.0zM53.4 286.6h2.0v2.0h-2.0zM54.6 289.8h2.0v2.0h-2.0zM55.9 290.2h2.0v2.0h-2.0zM57.1 289.8h2.0v2.0h-2.0zM58.4 299.2h2.0v2.0h-2.0zM59.6 280.9h2.0v2.0h-2.0zM60.9 290.3h2.0v2.0h-2.0zM62.1 292.2h2.0v2.0h-2.0zM63.4 291.2h2.0v2.0h-2.0zM64.6 283.6h2.0v2.0h-2.0zM65.8 291.2h2.0v2.0h-2.0zM67.1 290.5h2.0v2.0h-2.0zM68.3 286.5h2.0v2.0h-2.0zM69.6 287.3h2.0v2.0h-2.0zM70.8 293.0h2.0v2.0h-2.0zM72.1 289.1h2.0v2.0h-2.0zM73.3 289.3h2.0v2.0h-2.0zM74.6 289.8h2.0v2.0h-2.0zM75.8 283.0h2.0v2.0h-2.0zM77.0 288.3h2.0v2.0h-2.0zM78.3 288.9h2.0v2.0h-2.0zM79.5 289.8h2.0v2.0h-2.0zM80.8 297.5h2.0v2.0h-2.0zM82.0 289.2h2.0v2.0h-2.0zM83.3 296.6h2.0v2.0h-2.0zM84.5 284.4h2.0v2.0h-2.0zM85.8 296.7h2.0v2.0h-2.0zM87.0 287.1h2.0v2.0h-2.0zM88.2 284.0h2.0v2.0h-2.0zM89.5 286.4h2.0v2.0h-2.0zM90.7 290.6h2.0v2.0h-2.0zM92.0 292.6h2.0v2.0h-2.0zM93.2 289.8h2.0v2.0h-2.0zM94.5 290.1h2.0v2.0h-2.0zM95.7 291.6h2.0v2.0h-2.0zM97.0 292.0h2.0v2.0h-2.0zM98.2 290.3h2.0v2.0h-2.0zM99.4 301.4h2.0v2.0h-2.0zM100.7 293.8h2.0v2.0h-2.0zM101.9 292.9h2.0v2.0h-2.0zM103.2 291.9h2.0v2.0h-2.0zM104.4 294.4h2.0v2.0h-2.0zM105.7 279.9h2.0v2.0h-2.0zM106.9 294.2h2.0v2.0h-2.0zM108.2 286.8h2.0v2.0h-2.0zM109.4 291.6h2.0v2.0h-2.0zM110.6 287.3h2.0v2.0h-2.0zM111.9 285.9h2.0v2.0h-2.0zM113.1 292.7h2.0v2.0h-2.0zM114.4 288.1h2.0v2.0h-2.0zM115.6 292.6h2.0v2.0h-2.0zM116.9 286.0h2.0v2.0h-2.0zM118.1 297.9h2.0v2.0h-2.0zM119.4 284.7h2.0v2.0h-2.0zM120.6 290.6h2.0v2.0h-2.0zM121.8 289.2h2.0v2.0h-2.0zM123.1 287.2h2.0v2.0h-2.0zM124.3 291.6h2.0v2.0h-2.0zM125.6 294.2h2.0v2.0h-2.0zM126.8 295.2h2.0v2.0h-2.0zM128.1 285.5h2.0v2.0h-2.0zM129.3 294.0h2.0v2.0h-2.0zM130.6 281.3h2.0v2.0h-2.0zM131.8 289.4h2.0v2.0h-2.0zM133.1 292.1h2.0v2.0h-2.0zM134.3 289.0h2.0v2.0h-2.0zM135.5 295.0h2.0v2.0h-2.0zM136.8 279.3h2.0v2.0h-2.0zM138.0 288.5h2.0v2.0h-2.0zM139.3 286.7h2.0v2.0h-2.0zM140.5 298.7h2.0v2.0h-2.0zM141.8 288.1h2.0v2.0h-2.0zM143.0 288.1h2.0v2.0h-2.0zM144.3 290.4h2.0v2.0h-2.0zM145.5 289.4h2.0v2.0h-2.0zM146.7 290.1h2.0v2.0h-2.0zM148.0 293.5h2.0v2.0h-2.0zM149.2 296.6h2.0v2.0h-2.0zM150.5 294.4h2.0v2.0h-2.0zM151.7 291.2h2.0v2.0h-2.0zM153.0 283.5h2.0v2.0h-2.0zM154.2 285.5h2.0v2.0h-2.0zM155.5 293.8h2.0v2.0h-2.0zM156.7 289.3h2.0v2.0h-2.0zM157.9 287.7h2.0v2.0h-2.0zM159.2 282.8h2.0v2.0h-2.0zM160.4 286.0h2.0v2.0h-2.0zM161.7 290.9h2.0v2.0h-2.0zM162.9 287.4h2.0v2.0h-2.0zM164.2 287.6h2.0v2.0h-2.0zM165.4 288.2h2.0v2.0h-2.0zM166.7 288.2h2.0v2.0h-2.0zM167.9 293.4h2.0v2.0h-2.0zM169.1 292.0h2.0v2.0h-2.0zM170.4 289.6h2.0v2.0h-2.0zM171.6 290.0h2.0v2.0h-2.0zM172.9 297.2h2.0v2.0h-2.0zM174.1 289.5h2.0v2.0h-2.0zM175.4 295.7h2.0v2.0h-2.0zM176.6 288.6h2.0v2.0h-2.0zM177.9 291.0h2.0v2.0h-2.0zM179.1 292.3h2.0v2.0h-2.0zM180.3 285.0h2.0v2.0h-2.0zM181.6 286.5h2.0v2.0h-2.0zM182.8 283.0h2.0v2.0h-2.0zM184.1 293.5h2.0v2.0h-2.0zM185.3 286.5h2.0v2.0h-2.0zM186.6 289.0h2.0v2.0h-2.0zM187.8 288.1h2.0v2.0h-2.0zM189.1 291.3h2.0v2.0h-2.0zM190.3 286.5h2.0v2.0h-2.0zM191.6 279.3h2.0v2.0h-2.0zM192.8 288.0h2.0v2.0h-2.0zM194.0 286.2h2.0v2.0h-2.0zM195.3 283.7h2.0v2.0h-2.0zM196.5 291.8h2.0v2.0h-2.0zM197.8 288.3h2.0v2.0h-2.0zM199.0 294.2h2.0v2.0h-2.0zM200.3 288.1h2.0v2.0h-2.0zM201.5 293.8h2.0v2.0h-2.0zM202.8 287.8h2.0v2.0h-2.0zM204.0 292.0h2.0v2.0h-2.0zM205.2 290.3h2.0v2.0h-2.0zM206.5 288.7h2.0v2.0h-2.0zM207.7 290.5h2.0v2.0h-2.0zM209.0 284.8h2.0v2.0h-2.0zM210.2 284.2h2.0v2.0h-2.0zM211.5 282.7h2.0v2.0h-2.0zM212.7 294.3h2.0v2.0h-2.0zM214.0 291.6h2.0v2.0h-2.0zM215.2 294.5h2.0v2.0h-2.0z" fill="#5E81B5" fill-opacity="0.6"/>
<path d="M29.7 284.4h2.0v2.0h-2.0zM31.0 293.6h2.0v2.0h-2.0zM32.2 291.9h2.0v2.0h-2.0zM33.5 292.2h2.0v2.0h-2.0zM34.7 287.3h2.0v2.0h-2.0zM36.0 288.6h2.0v2.0h-2.0zM37.2 290.0h2.0v2.0h-2.0zM38.5 287.8h2.0v2.0h-2.0zM39.7 291.4h2.0v2.0h-2.0zM40.9 288.3h2.0v2.0h-2.0zM42.2 289.0h2.0v2.0h-2.0zM43.4 295.5h2.0v2.0h-2.0zM44.7 285.2h2.0v2.0h-2.0zM45.9 282.6h2.0v2.0h-2.0zM47.2 284.6h2.0v2.0h-2.0zM48.4 285.1h2.0v2.0h-2.0zM49.7 288.8h2.0v2.0h-2.0zM50.9 287.8h2.0v2.0h-2.0zM52.1 287.3h2.0v2.0h-2.0zM53.4 289.9h2.0v2.0h-2.0zM54.6 286.2h2.0v2.0h-2.0zM55.9 293.0h2.0v2.0h-2.0zM57.1 292.7h2.0v2.0h-2.0zM58.4 284.9h2.0v2.0h-2.0zM59.6 281.1h2.0v2.0h-2.0zM60.9 285.5h2.0v2.0h-2.0zM62.1 286.1h2.0v2.0h-2.0zM63.4 287.5h2.0v2.0h-2.0zM64.6 275.7h2.0v2.0h-2.0zM65.8 292.1h2.0v2.0h-2.0zM67.1 290.1h2.0v2.0h-2.0zM68.3 289.9h2.0v2.0h-2.0zM69.6 292.1h2.0v2.0h-2.0zM70.8 290.9h2.0v2.0h-2.0zM72.1 287.6h2.0v2.0h-2.0zM73.3 283.9h2.0v2.0h-2.0zM74.6 283.2h2.0v2.0h-2.0zM75.8 294.0h2.0v2.0h-2.0zM77.0 293.3h2.0v2.0h-2.0zM78.3 291.4h2.0v2.0h-2.0zM79.5 293.5h2.0v2.0h-2.0zM80.8 289.2h2.0v2.0h-2.0zM82.0 288.7h2.0v2.0h-2.0zM83.3 291.7h2.0v2.0h-2.0zM84.5 294.6h2.0v2.0h-2.0zM85.8 290.6h2.0v2.0h-2.0zM87.0 282.1h2.0v2.0h-2.0zM88.2 288.1h2.0v2.0h-2.0zM89.5 290.5h2.0v2.0h-2.0zM90.7 278.9h2.0v2.0h-2.0zM92.0 286.9h2.0v2.0h-2.0zM93.2 292.7h2.0v2.0h-2.0zM94.5 285.0h2.0v2.0h-2.0zM95.7 288.0h2.0v2.0h-2.0zM97.0 285.9h2.0v2.0h-2.0zM98.2 283.9h2.0v2.0h-2.0zM99.4 292.8h2.0v2.0h-2.0zM100.7 292.0h2.0v2.0h-2.0zM101.9 288.3h2.0v2.0h-2.0zM103.2 289.2h2.0v2.0h-2.0zM104.4 290.0h2.0v2.0h-2.0zM105.7 284.8h2.0v2.0h-2.0zM106.9 291.8h2.0v2.0h-2.0zM108.2 291.9h2.0v2.0h-2.0zM109.4 287.1h2.0v2.0h-2.0zM110.6 288.6h2.0v2.0h-2.0zM111.9 295.0h2.0v2.0h-2.0zM113.1 286.3h2.0v2.0h-2.0zM114.4 294.8h2.0v2.0h-2.0zM115.6 287.4h2.0v2.0h-2.0zM116.9 288.9h2.0v2.0h-2.0zM118.1 281.9h2.0v2.0h-2.0zM119.4 283.4h2.0v2.0h-2.0zM120.6 286.0h2.0v2.0h-2.0zM121.8 282.0h2.0v2.0h-2.0zM123.1 281.3h2.0v2.0h-2.0zM124.3 298.6h2.0v2.0h-2.0zM125.6 286.2h2.0v2.0h-2.0zM126.8 285.9h2.0v2.0h-2.0zM128.1 285.4h2.0v2.0h-2.0zM129.3 286.4h2.0v2.0h-2.0zM130.6 295.2h2.0v2.0h-2.0zM131.8 292.1h2.0v2.0h-2.0zM133.1 289.5h2.0v2.0h-2.0zM134.3 278.7h2.0v2.0h-2.0zM135.5 293.9h2.0v2.0h-2.0zM136.8 285.9h2.0v2.0h-2.0zM138.0 288.9h2.0v2.0h-2.0zM139.3 289.9h2.0v2.0h-2.0zM140.5 292.4h2.0v2.0h-2.0zM141.8 296.2h2.0v2.0h-2.0zM143.0 288.8h2.0v2.0h-2.0zM144.3 284.4h2.0v2.0h-2.0zM145.5 290.9h2.0v2.0h-2.0zM146.7 286.3h2.0v2.0h-2.0zM148.0 290.5h2.0v2.0h-2.0zM149.2 288.0h2.0v2.0h-2.0zM150.5 281.3h2.0v2.0h-2.0zM151.7 291.5h2.0v2.0h-2.0zM153.0 286.9h2.0v2.0h-2.0zM154.2 291.1h2.0v2.0h-2.0zM155.5 288.7h2.0v2.0h-2.0zM156.7 291.8h2.0v2.0h-2.0zM157.9 290.8h2.0v2.0h-2.0zM159.2 286.7h2.0v2.0h-2.0zM160.4 291.9h2.0v2.0h-2.0zM161.7 286.5h2.0v2.0h-2.0zM162.9 287.9h2.0v2.0h-2.0zM164.2 288.1h2.0v2.0h-2.0zM165.4 288.7h2.0v2.0h-2.0zM166.7 288.7h2.0v2.0h-2.0zM167.9 292.5h2.0v2.0h-2.0zM169.1 294.8h2.0v2.0h-2.0zM170.4 289.0h2.0v2.0h-2.0zM171.6 287.3h2.0v2.0h-2.0zM172.9 299.4h2.0v2.0h-2.0zM174.1 286.9h2.0v2.0h-2.0zM175.4 289.0h2.0v2.0h-2.0zM176.6 286.1h2.0v2.0h-2.0zM177.9 287.3h2.0v2.0h-2.0zM179.1 293.8h2.0v2.0h-2.0zM180.3 296.0h2.0v2.0h-2.0zM181.6 288.0h2.0v2.0h-2.0zM182.8 286.1h2.0v2.0h-2.0zM184.1 292.3h2.0v2.0h-2.0zM185.3 282.4h2.0v2.0h-2.0zM186.6 283.6h2.0v2.0h-2.0zM187.8 280.6h2.0v2.0h-2.0zM189.1 287.1h2.0v2.0h-2.0zM190.3 289.6h2.0v2.0h-2.0zM191.6 296.5h2.0v2.0h-2.0zM192.8 289.9h2.0v2.0h-2.0zM194.0 291.7h2.0v2.0h-2.0zM195.3 286.4h2.0v2.0h-2.0zM196.5 285.5h2.0v2.0h-2.0zM197.8 289.3h2.0v2.0h-2.0zM199.0 291.8h2.0v2.0h-2.0zM200.3 283.6h2.0v2.0h-2.0zM201.5 289.1h2.0v2.0h-2.0zM202.8 283.4h2.0v2.0h-2.0zM204.0 288.4h2.0v2.0h-2.0zM205.2 293.3h2.0v2.0h-2.0zM206.5 282.1h2.0v2.0h-2.0zM207.7 291.7h2.0v2.0h-2.0zM209.0 289.5h2.0v2.0h-2.0zM210.2 287.1h2.0v2.0h-2.0zM211.5 286.1h2.0v2.0h-2.0zM212.7 288.7h2.0v2.0h-2.0zM214.0 283.5h2.0v2.0h-2.0zM215.2 283.6h2.0v2.0h-2.0z" fill="#E19C24" fill-opacity="0.6"/>
<path d="M29.7 293.2h2.0v2.0h-2.0zM31.0 284.4h2.0v2.0h-2.0zM32.2 295.7h2.0v2.0h-2.0zM33.5 296.3h2.0v2.0h-2.0zM34.7 289.0h2.0v2.0h-2.0zM36.0 289.8h2.0v2.0h-2.0zM37.2 291.4h2.0v2.0h-2.0zM38.5 290.1h2.0v2.0h-2.0zM39.7 289.8h2.0v2.0h-2.0zM40.9 290.7h2.0v2.0h-2.0zM42.2 290.4h2.0v2.0h-2.0zM43.4 289.6h2.0v2.0h-2.0zM44.7 285.3h2.0v2.0h-2.0zM45.9 290.2h2.0v2.0h-2.0zM47.2 288.5h2.0v2.0h-2.0zM48.4 291.8h2.0v2.0h-2.0zM49.7 289.5h2.0v2.0h-2.0zM50.9 289.5h2.0v2.0h-2.0zM52.1 286.3h2.0v2.0h-2.0zM53.4 287.1h2.0v2.0h-2.0zM54.6 289.4h2.0v2.0h-2.0zM55.9 282.0h2.0v2.0h-2.0zM57.1 287.5h2.0v2.0h-2.0zM58.4 290.1h2.0v2.0h-2.0zM59.6 297.3h2.0v2.0h-2.0zM60.9 282.1h2.0v2.0h-2.0zM62.1 293.9h2.0v2.0h-2.0zM63.4 297.7h2.0v2.0h-2.0zM64.6 291.0h2.0v2.0h-2.0zM65.8 287.0h2.0v2.0h-2.0zM67.1 286.3h2.0v2.0h-2.0zM68.3 293.9h2.0v2.0h-2.0zM69.6 289.3h2.0v2.0h-2.0zM70.8 282.0h2.0v2.0h-2.0zM72.1 291.6h2.0v2.0h-2.0zM73.3 291.4h2.0v2.0h-2.0zM74.6 295.3h2.0v2.0h-2.0zM75.8 288.8h2.0v2.0h-2.0zM77.0 288.0h2.0v2.0h-2.0zM78.3 288.6h2.0v2.0h-2.0zM79.5 287.5h2.0v2.0h-2.0zM80.8 295.9h2.0v2.0h-2.0zM82.0 291.9h2.0v2.0h-2.0zM83.3 286.7h2.0v2.0h-2.0zM84.5 290.6h2.0v2.0h-2.0zM85.8 291.3h2.0v2.0h-2.0zM87.0 300.9h2.0v2.0h-2.0zM88.2 288.8h2.0v2.0h-2.0zM89.5 289.5h2.0v2.0h-2.0zM90.7 284.2h2.0v2.0h-2.0zM92.0 283.8h2.0v2.0h-2.0zM93.2 293.4h2.0v2.0h-2.0zM94.5 295.7h2.0v2.0h-2.0zM95.7 289.8h2.0v2.0h-2.0zM97.0 288.7h2.0v2.0h-2.0zM98.2 284.3h2.0v2.0h-2.0zM99.4 285.9h2.0v2.0h-2.0zM100.7 293.8h2.0v2.0h-2.0zM101.9 289.6h2.0v2.0h-2.0zM103.2 286.0h2.0v2.0h-2.0zM104.4 285.4h2.0v2.0h-2.0zM105.7 288.4h2.0v2.0h-2.0zM106.9 292.6h2.0v2.0h-2.0zM108.2 287.7h2.0v2.0h-2.0zM109.4 289.0h2.0v2.0h-2.0zM110.6 297.5h2.0v2.0h-2.0zM111.9 288.4h2.0v2.0h-2.0zM113.1 291.5h2.0v2.0h-2.0zM114.4 286.6h2.0v2.0h-2.0zM115.6 291.7h2.0v2.0h-2.0zM116.9 280.4h2.0v2.0h-2.0zM118.1 291.5h2.0v2.0h-2.0zM119.4 286.7h2.0v2.0h-2.0zM120.6 287.1h2.0v2.0h-2.0zM121.8 286.7h2.0v2.0h-2.0zM123.1 283.4h2.0v2.0h-2.0zM124.3 279.3h2.0v2.0h-2.0zM125.6 292.6h2.0v2.0h-2.0zM126.8 289.5h2.0v2.0h-2.0zM128.1 280.4h2.0v2.0h-2.0zM129.3 290.8h2.0v2.0h-2.0zM130.6 283.1h2.0v2.0h-2.0zM131.8 284.7h2.0v2.0h-2.0zM133.1 293.7h2.0v2.0h-2.0zM134.3 284.1h2.0v2.0h-2.0zM135.5 287.4h2.0v2.0h-2.0zM136.8 292.9h2.0v2.0h-2.0zM138.0 292.4h2.0v2.0h-2.0zM139.3 301.1h2.0v2.0h-2.0zM140.5 287.6h2.0v2.0h-2.0zM141.8 288.0h2.0v2.0h-2.0zM143.0 301.1h2.0v2.0h-2.0zM144.3 286.1h2.0v2.0h-2.0zM145.5 293.0h2.0v2.0h-2.0zM146.7 286.3h2.0v2.0h-2.0zM148.0 288.1h2.0v2.0h-2.0zM149.2 282.6h2.0v2.0h-2.0zM150.5 286.0h2.0v2.0h-2.0zM151.7 291.5h2.0v2.0h-2.0zM153.0 285.4h2.0v2.0h-2.0zM154.2 295.2h2.0v2.0h-2.0zM155.5 291.1h2.0v2.0h-2.0zM156.7 285.2h2.0v2.0h-2.0zM157.9 284.3h2.0v2.0h-2.0zM159.2 289.8h2.0v2.0h-2.0zM160.4 286.8h2.0v2.0h-2.0zM161.7 290.9h2.0v2.0h-2.0zM162.9 291.6h2.0v2.0h-2.0zM164.2 289.3h2.0v2.0h-2.0zM165.4 287.0h2.0v2.0h-2.0zM166.7 293.4h2.0v2.0h-2.0zM167.9 292.7h2.0v2.0h-2.0zM169.1 292.5h2.0v2.0h-2.0zM170.4 290.0h2.0v2.0h-2.0zM171.6 291.2h2.0v2.0h-2.0zM172.9 282.0h2.0v2.0h-2.0zM174.1 286.7h2.0v2.0h-2.0zM175.4 295.7h2.0v2.0h-2.0zM176.6 294.1h2.0v2.0h-2.0zM177.9 288.1h2.0v2.0h-2.0zM179.1 291.7h2.0v2.0h-2.0zM180.3 294.3h2.0v2.0h-2.0zM181.6 293.3h2.0v2.0h-2.0zM182.8 286.4h2.0v2.0h-2.0zM184.1 294.2h2.0v2.0h-2.0zM185.3 289.5h2.0v2.0h-2.0zM186.6 294.1h2.0v2.0h-2.0zM187.8 288.8h2.0v2.0h-2.0zM189.1 279.7h2.0v2.0h-2.0zM190.3 289.6h2.0v2.0h-2.0zM191.6 283.0h2.0v2.0h-2.0zM192.8 298.6h2.0v2.0h-2.0zM194.0 287.6h2.0v2.0h-2.0zM195.3 288.9h2.0v2.0h-2.0zM196.5 284.6h2.0v2.0h-2.0zM197.8 293.2h2.0v2.0h-2.0zM199.0 284.7h2.0v2.0h-2.0zM200.3 288.4h2.0v2.0h-2.0zM201.5 290.4h2.0v2.0h-2.0zM202.8 294.1h2.0v2.0h-2.0zM204.0 286.8h2.0v2.0h-2.0zM205.2 292.6h2.0v2.0h-2.0zM206.5 284.6h2.0v2.0h-2.0zM207.7 286.8h2.0v2.0h-2.0zM209.0 285.7h2.0v2.0h-2.0zM210.2 297.5h2.0v2.0h-2.0zM211.5 287.9h2.0v2.0h-2.0zM212.7 290.9h2.0v2.0h-2.0zM214.0 289.9h2.0v2.0h-2.0zM215.2 285.0h2.0v2.0h-2.0z" fill="#A5609D" fill-opacity="0.6"/>
<path d="M29.7 296.4h2.0v2.0h-2.0zM31.0 291.8h2.0v2.0h-2.0zM32.2 283.9h2.0v2.0h-2.0zM33.5 290.1h2.0v2.0h-2.0zM34.7 288.2h2.0v2.0h-2.0zM36.0 295.6h2.0v2.0h-2.0zM37.2 293.2h2.0v2.0h-2.0zM38.5 293.5h2.0v2.0h-2.0zM39.7 296.1h2.0v2.0h-2.0zM40.9 290.4h2.0v2.0h-2.0zM42.2 291.7h2.0v2.0h-2.0zM43.4 292.7h2.0v2.0h-2.0zM44.7 291.3h2.0v2.0h-2.0zM45.9 297.0h2.0v2.0h-2.0zM47.2 291.0h2.0v2.0h-2.0zM48.4 296.8h2.0v2.0h-2.0zM49.7 289.6h2.0v2.0h-2.0zM50.9 292.1h2.0v2.0h-2.0zM52.1 294.2h2.0v2.0h-2.0zM53.4 297.7h2.0v2.0h-2.0zM54.6 287.7h2.0v2.0h-2.0zM55.9 294.9h2.0v2.0h-2.0zM57.1 285.6h2.0v2.0h-2.0zM58.4 295.7h2.0v2.0h-2.0zM59.6 293.0h2.0v2.0h-2.0zM60.9 294.6h2.0v2.0h-2.0zM62.1 287.0h2.0v2.0h-2.0zM63.4 293.0h2.0v2.0h-2.0zM64.6 295.8h2.0v2.0h-2.0zM65.8 289.5h2.0v2.0h-2.0zM67.1 285.1h2.0v2.0h-2.0zM68.3 293.5h2.0v2.0h-2.0zM69.6 290.9h2.0v2.0h-2.0zM70.8 284.4h2.0v2.0h-2.0zM72.1 294.1h2.0v2.0h-2.0zM73.3 290.8h2.0v2.0h-2.0zM74.6 296.5h2.0v2.0h-2.0zM75.8 293.0h2.0v2.0h-2.0zM77.0 288.4h2.0v2.0h-2.0zM78.3 291.2h2.0v2.0h-2.0zM79.5 294.5h2.0v2.0h-2.0zM80.8 293.4h2.0v2.0h-2.0zM82.0 295.3h2.0v2.0h-2.0zM83.3 284.9h2.0v2.0h-2.0zM84.5 290.4h2.0v2.0h-2.0zM85.8 288.8h2.0v2.0h-2.0zM87.0 290.5h2.0v2.0h-2.0zM88.2 292.6h2.0v2.0h-2.0zM89.5 287.3h2.0v2.0h-2.0zM90.7 290.5h2.0v2.0h-2.0zM92.0 290.8h2.0v2.0h-2.0zM93.2 292.7h2.0v2.0h-2.0zM94.5 292.4h2.0v2.0h-2.0zM95.7 291.2h2.0v2.0h-2.0zM97.0 287.3h2.0v2.0h-2.0zM98.2 285.6h2.0v2.0h-2.0zM99.4 289.3h2.0v2.0h-2.0zM100.7 290.5h2.0v2.0h-2.0zM101.9 290.1h2.0v2.0h-2.0zM103.2 290.0h2.0v2.0h-2.0zM104.4 281.4h2.0v2.0h-2.0zM105.7 287.4h2.0v2.0h-2.0zM106.9 288.3h2.0v2.0h-2.0zM108.2 291.7h2.0v2.0h-2.0zM109.4 288.1h2.0v2.0h-2.0zM110.6 285.7h2.0v2.0h-2.0zM111.9 291.5h2.0v2.0h-2.0zM113.1 294.9h2.0v2.0h-2.0zM114.4 292.2h2.0v2.0h-2.0zM115.6 288.2h2.0v2.0h-2.0zM116.9 282.6h2.0v2.0h-2.0zM118.1 293.3h2.0v2.0h-2.0zM119.4 295.9h2.0v2.0h-2.0zM120.6 293.6h2.0v2.0h-2.0zM121.8 291.0h2.0v2.0h-2.0zM123.1 283.2h2.0v2.0h-2.0zM124.3 283.3h2.0v2.0h-2.0zM125.6 286.7h2.0v2.0h-2.0zM126.8 293.6h2.0v2.0h-2.0zM128.1 284.8h2.0v2.0h-2.0zM129.3 284.4h2.0v2.0h-2.0zM130.6 295.6h2.0v2.0h-2.0zM131.8 293.4h2.0v2.0h-2.0zM133.1 296.6h2.0v2.0h-2.0zM134.3 284.7h2.0v2.0h-2.0zM135.5 293.6h2.0v2.0h-2.0zM136.8 288.4h2.0v2.0h-2.0zM138.0 289.6h2.0v2.0h-2.0zM139.3 289.5h2.0v2.0h-2.0zM140.5 292.0h2.0v2.0h-2.0zM141.8 288.5h2.0v2.0h-2.0zM143.0 293.7h2.0v2.0h-2.0zM144.3 286.7h2.0v2.0h-2.0zM145.5 294.6h2.0v2.0h-2.0zM146.7 290.5h2.0v2.0h-2.0zM148.0 288.4h2.0v2.0h-2.0zM149.2 294.5h2.0v2.0h-2.0zM150.5 284.1h2.0v2.0h-2.0zM151.7 296.2h2.0v2.0h-2.0zM153.0 286.4h2.0v2.0h-2.0zM154.2 288.8h2.0v2.0h-2.0zM155.5 286.5h2.0v2.0h-2.0zM156.7 284.1h2.0v2.0h-2.0zM157.9 291.7h2.0v2.0h-2.0zM159.2 291.5h2.0v2.0h-2.0zM160.4 291.3h2.0v2.0h-2.0zM161.7 291.6h2.0v2.0h-2.0zM162.9 285.2h2.0v2.0h-2.0zM164.2 288.8h2.0v2.0h-2.0zM165.4 294.4h2.0v2.0h-2.0zM166.7 290.0h2.0v2.0h-2.0zM167.9 296.4h2.0v2.0h-2.0zM169.1 291.2h2.0v2.0h-2.0zM170.4 280.9h2.0v2.0h-2.0zM171.6 283.5h2.0v2.0h-2.0zM172.9 290.9h2.0v2.0h-2.0zM174.1 288.2h2.0v2.0h-2.0zM175.4 288.7h2.0v2.0h-2.0zM176.6 292.8h2.0v2.0h-2.0zM177.9 289.5h2.0v2.0h-2.0zM179.1 294.2h2.0v2.0h-2.0zM180.3 286.0h2.0v2.0h-2.0zM181.6 295.1h2.0v2.0h-2.0zM182.8 275.6h2.0v2.0h-2.0zM184.1 285.3h2.0v2.0h-2.0zM185.3 296.3h2.0v2.0h-2.0zM186.6 289.7h2.0v2.0h-2.0zM187.8 288.1h2.0v2.0h-2.0zM189.1 291.7h2.0v2.0h-2.0zM190.3 285.0h2.0v2.0h-2.0zM191.6 291.9h2.0v2.0h-2.0zM192.8 293.7h2.0v2.0h-2.0zM194.0 291.2h2.0v2.0h-2.0zM195.3 289.5h2.0v2.0h-2.0zM196.5 287.4h2.0v2.0h-2.0zM197.8 299.9h2.0v2.0h-2.0zM199.0 284.8h2.0v2.0h-2.0zM200.3 295.1h2.0v2.0h-2.0zM201.5 289.8h2.0v2.0h-2.0zM202.8 296.4h2.0v2.0h-2.0zM204.0 294.9h2.0v2.0h-2.0zM205.2 287.6h2.0v2.0h-2.0zM206.5 283.7h2.0v2.0h-2.0zM207.7 283.9h2.0v2.0h-2.0zM209.0 291.6h2.0v2.0h-2.0zM210.2 287.3h2.0v2.0h-2.0zM211.5 292.7h2.0v2.0h-2.0zM212.7 293.1h2.0v2.0h-2.0zM214.0 281.8h2.0v2.0h-2.0zM215.2 287.4h2.0v2.0h-2.0z" fill="#EB6235" fill-opacity="0.6"/>
<path d="M29.7 286.0h2.0v2.0h-2.0zM31.0 286.2h2.0v2.0h-2.0zM32.2 284.8h2.0v2.0h-2.0zM33.5 288.0h2.0v2.0h-2.0zM34.7 286.8h2.0v2.0h-2.0zM36.0 288.5h2.0v2.0h-2.0zM37.2 290.3h2.0v2.0h-2.0zM38.5 281.8h2.0v2.0h-2.0zM39.7 286.6h2.0v2.0h-2.0zM40.9 289.9h2.0v2.0h-2.0zM42.2 292.0h2.0v2.0h-2.0zM43.4 291.2h2.0v2.0h-2.0zM44.7 290.6h2.0v2.0h-2.0zM45.9 295.0h2.0v2.0h-2.0zM47.2 289.3h2.0v2.0h-2.0zM48.4 295.4h2.0v2.0h-2.0zM49.7 287.3h2.0v2.0h-2.0zM50.9 278.4h2.0v2.0h-2.0zM52.1 294.2h2.0v2.0h-2.0zM53.4 289.7h2.0v2.0h-2.0zM54.6 292.5h2.0v2.0h-2.0zM55.9 293.6h2.0v2.0h-2.0zM57.1 292.9h2.0v2.0h-2.0zM58.4 280.0h2.0v2.0h-2.0zM59.6 291.9h2.0v2.0h-2.0zM60.9 290.0h2.0v2.0h-2.0zM62.1 288.1h2.0v2.0h-2.0zM63.4 288.8h2.0v2.0h-2.0zM64.6 286.7h2.0v2.0h-2.0zM65.8 284.9h2.0v2.0h-2.0zM67.1 283.1h2.0v2.0h-2.0zM68.3 285.0h2.0v2.0h-2.0zM69.6 288.5h2.0v2.0h-2.0zM70.8 288.0h2.0v2.0h-2.0zM72.1 286.5h2.0v2.0h-2.0zM73.3 288.9h2.0v2.0h-2.0zM74.6 287.8h2.0v2.0h-2.0zM75.8 289.5h2.0v2.0h-2.0zM77.0 291.3h2.0v2.0h-2.0zM78.3 292.2h2.0v2.0h-2.0zM79.5 284.7h2.0v2.0h-2.0zM80.8 298.2h2.0v2.0h-2.0zM82.0 286.7h2.0v2.0h-2.0zM83.3 288.6h2.0v2.0h-2.0zM84.5 290.2h2.0v2.0h-2.0zM85.8 293.8h2.0v2.0h-2.0zM87.0 289.8h2.0v2.0h-2.0zM88.2 283.7h2.0v2.0h-2.0zM89.5 292.3h2.0v2.0h-2.0zM90.7 286.7h2.0v2.0h-2.0zM92.0 280.9h2.0v2.0h-2.0zM93.2 294.1h2.0v2.0h-2.0zM94.5 285.5h2.0v2.0h-2.0zM95.7 291.1h2.0v2.0h-2.0zM97.0 289.1h2.0v2.0h-2.0zM98.2 286.6h2.0v2.0h-2.0zM99.4 293.4h2.0v2.0h-2.0zM100.7 291.7h2.0v2.0h-2.0zM101.9 286.7h2.0v2.0h-2.0zM103.2 297.0h2.0v2.0h-2.0zM104.4 293.7h2.0v2.0h-2.0zM105.7 284.3h2.0v2.0h-2.0zM106.9 287.4h2.0v2.0h-2.0zM108.2 293.4h2.0v2.0h-2.0zM109.4 292.4h2.0v2.0h-2.0zM110.6 286.2h2.0v2.0h-2.0zM111.9 280.5h2.0v2.0h-2.0zM113.1 284.9h2.0v2.0h-2.0zM114.4 281.6h2.0v2.0h-2.0zM115.6 285.2h2.0v2.0h-2.0zM116.9 296.3h2.0v2.0h-2.0zM118.1 293.0h2.0v2.0h-2.0zM119.4 293.5h2.0v2.0h-2.0zM120.6 297.3h2.0v2.0h-2.0zM121.8 286.8h2.0v2.0h-2.0zM123.1 284.6h2.0v2.0h-2.0zM124.3 291.4h2.0v2.0h-2.0zM125.6 293.6h2.0v2.0h-2.0zM126.8 285.7h2.0v2.0h-2.0zM128.1 287.0h2.0v2.0h-2.0zM129.3 290.7h2.0v2.0h-2.0zM130.6 284.9h2.0v2.0h-2.0zM131.8 294.8h2.0v2.0h-2.0zM133.1 295.8h2.0v2.0h-2.0zM134.3 282.8h2.0v2.0h-2.0zM135.5 289.8h2.0v2.0h-2.0zM136.8 291.2h2.0v2.0h-2.0zM138.0 293.1h2.0v2.0h-2.0zM139.3 284.8h2.0v2.0h-2.0zM140.5 291.7h2.0v2.0h-2.0zM141.8 286.1h2.0v2.0h-2.0zM143.0 283.5h2.0v2.0h-2.0zM144.3 295.2h2.0v2.0h-2.0zM145.5 294.0h2.0v2.0h-2.0zM146.7 291.7h2.0v2.0h-2.0zM148.0 284.4h2.0v2.0h-2.0zM149.2 287.6h2.0v2.0h-2.0zM150.5 285.5h2.0v2.0h-2.0zM151.7 288.7h2.0v2.0h-2.0zM153.0 287.5h2.0v2.0h-2.0zM154.2 284.2h2.0v2.0h-2.0zM155.5 288.1h2.0v2.0h-2.0zM156.7 285.0h2.0v2.0h-2.0zM157.9 277.8h2.0v2.0h-2.0zM159.2 295.9h2.0v2.0h-2.0zM160.4 287.9h2.0v2.0h-2.0zM161.7 290.9h2.0v2.0h-2.0zM162.9 287.9h2.0v2.0h-2.0zM164.2 292.4h2.0v2.0h-2.0zM165.4 288.6h2.0v2.0h-2.0zM166.7 287.5h2.0v2.0h-2.0zM167.9 289.5h2.0v2.0h-2.0zM169.1 286.4h2.0v2.0h-2.0zM170.4 284.5h2.0v2.0h-2.0zM171.6 289.8h2.0v2.0h-2.0zM172.9 285.9h2.0v2.0h-2.0zM174.1 287.5h2.0v2.0h-2.0zM175.4 287.5h2.0v2.0h-2.0zM176.6 288.9h2.0v2.0h-2.0zM177.9 288.6h2.0v2.0h-2.0zM179.1 296.6h2.0v2.0h-2.0zM180.3 284.5h2.0v2.0h-2.0zM181.6 286.4h2.0v2.0h-2.0zM182.8 282.8h2.0v2.0h-2.0zM184.1 289.6h2.0v2.0h-2.0zM185.3 284.7h2.0v2.0h-2.0zM186.6 283.4h2.0v2.0h-2.0zM187.8 292.0h2.0v2.0h-2.0zM189.1 282.7h2.0v2.0h-2.0zM190.3 286.2h2.0v2.0h-2.0zM191.6 290.2h2.0v2.0h-2.0zM192.8 287.0h2.0v2.0h-2.0zM194.0 279.6h2.0v2.0h-2.0zM195.3 286.9h2.0v2.0h-2.0zM196.5 286.8h2.0v2.0h-2.0zM197.8 288.4h2.0v2.0h-2.0zM199.0 288.7h2.0v2.0h-2.0zM200.3 289.5h2.0v2.0h-2.0zM201.5 290.7h2.0v2.0h-2.0zM202.8 287.8h2.0v2.0h-2.0zM204.0 291.1h2.0v2.0h-2.0zM205.2 285.9h2.0v2.0h-2.0zM206.5 279.6h2.0v2.0h-2.0zM207.7 280.7h2.0v2.0h-2.0zM209.0 281.6h2.0v2.0h-2.0zM210.2 299.9h2.0v2.0h-2.0zM211.5 296.6h2.0v2.0h-2.0zM212.7 291.0h2.0v2.0h-2.0zM214.0 287.2h2.0v2.0h-2.0zM215.2 282.3h2.0v2.0h-2.0z" fill="#8778B3" fill-opacity="0.6"/>
<path d="M29.7 292.2h2.0v2.0h-2.0zM31.0 291.1h2.0v2.0h-2.0zM32.2 291.8h2.0v2.0h-2.0zM33.5 283.0h2.0v2.0h-2.0zM34.7 289.5h2.0v2.0h-2.0zM36.0 284.7h2.0v2.0h-2.0zM37.2 291.5h2.0v2.0h-2.0zM38.5 289.9h2.0v2.0h-2.0zM39.7 290.1h2.0v2.0h-2.0zM40.9 282.8h2.0v2.0h-2.0zM42.2 293.3h2.0v2.0h-2.0zM43.4 288.8h2.0v2.0h-2.0zM44.7 292.5h2.0v2.0h-2.0zM45.9 286.3h2.0v2.0h-2.0zM47.2 284.7h2.0v2.0h-2.0zM48.4 291.4h2.0v2.0h-2.0zM49.7 291.4h2.0v2.0h-2.0zM50.9 293.2h2.0v2.0h-2.0zM52.1 285.2h2.0v2.0h-2.0zM53.4 291.1h2.0v2.0h-2.0zM54.6 291.4h2.0v2.0h-2.0zM55.9 290.2h2.0v2.0h-2.0zM57.1 296.2h2.0v2.0h-2.0zM58.4 291.9h2.0v2.0h-2.0zM59.6 287.3h2.0v2.0h-2.0zM60.9 288.1h2.0v2.0h-2.0zM62.1 273.0h2.0v2.0h-2.0zM63.4 287.6h2.0v2.0h-2.0zM64.6 288.4h2.0v2.0h-2.0zM65.8 290.7h2.0v2.0h-2.0zM67.1 292.6h2.0v2.0h-2.0zM68.3 289.7h2.0v2.0h-2.0zM69.6 281.0h2.0v2.0h-2.0zM70.8 284.0h2.0v2.0h-2.0zM72.1 288.8h2.0v2.0h-2.0zM73.3 288.8h2.0v2.0h-2.0zM74.6 287.7h2.0v2.0h-2.0zM75.8 292.6h2.0v2.0h-2.0zM77.0 286.3h2.0v2.0h-2.0zM78.3 284.2h2.0v2.0h-2.0zM79.5 289.8h2.0v2.0h-2.0zM80.8 294.6h2.0v2.0h-2.0zM82.0 284.6h2.0v2.0h-2.0zM83.3 283.9h2.0v2.0h-2.0zM84.5 288.8h2.0v2.0h-2.0zM85.8 292.8h2.0v2.0h-2.0zM87.0 292.5h2.0v2.0h-2.0zM88.2 288.3h2.0v2.0h-2.0zM89.5 287.1h2.0v2.0h-2.0zM90.7 285.2h2.0v2.0h-2.0zM92.0 295.1h2.0v2.0h-2.0zM93.2 282.8h2.0v2.0h-2.0zM94.5 286.8h2.0v2.0h-2.0zM95.7 291.6h2.0v2.0h-2.0zM97.0 287.6h2.0v2.0h-2.0zM98.2 282.5h2.0v2.0h-2.0zM99.4 286.3h2.0v2.0h-2.0zM100.7 292.7h2.0v2.0h-2.0zM101.9 286.3h2.0v2.0h-2.0zM103.2 285.0h2.0v2.0h-2.0zM104.4 291.3h2.0v2.0h-2.0zM105.7 291.3h2.0v2.0h-2.0zM106.9 285.4h2.0v2.0h-2.0zM108.2 291.1h2.0v2.0h-2.0zM109.4 288.1h2.0v2.0h-2.0zM110.6 280.7h2.0v2.0h-2.0zM111.9 288.7h2.0v2.0h-2.0zM113.1 283.3h2.0v2.0h-2.0zM114.4 294.8h2.0v2.0h-2.0zM115.6 287.7h2.0v2.0h-2.0zM116.9 288.1h2.0v2.0h-2.0zM118.1 289.0h2.0v2.0h-2.0zM119.4 293.5h2.0v2.0h-2.0zM120.6 291.9h2.0v2.0h-2.0zM121.8 287.2h2.0v2.0h-2.0zM123.1 294.7h2.0v2.0h-2.0zM124.3 288.9h2.0v2.0h-2.0zM125.6 284.3h2.0v2.0h-2.0zM126.8 291.3h2.0v2.0h-2.0zM128.1 289.3h2.0v2.0h-2.0zM129.3 295.0h2.0v2.0h-2.0zM130.6 290.4h2.0v2.0h-2.0zM131.8 290.1h2.0v2.0h-2.0zM133.1 290.3h2.0v2.0h-2.0zM134.3 287.5h2.0v2.0h-2.0zM135.5 292.0h2.0v2.0h-2.0zM136.8 292.7h2.0v2.0h-2.0zM138.0 289.2h2.0v2.0h-2.0zM139.3 284.3h2.0v2.0h-2.0zM140.5 289.7h2.0v2.0h-2.0zM141.8 293.4h2.0v2.0h-2.0zM143.0 290.3h2.0v2.0h-2.0zM144.3 293.6h2.0v2.0h-2.0zM145.5 286.0h2.0v2.0h-2.0zM146.7 286.3h2.0v2.0h-2.0zM148.0 285.8h2.0v2.0h-2.0zM149.2 298.7h2.0v2.0h-2.0zM150.5 287.6h2.0v2.0h-2.0zM151.7 293.6h2.0v2.0h-2.0zM153.0 291.5h2.0v2.0h-2.0zM154.2 290.1h2.0v2.0h-2.0zM155.5 288.1h2.0v2.0h-2.0zM156.7 291.9h2.0v2.0h-2.0zM157.9 295.4h2.0v2.0h-2.0zM159.2 283.3h2.0v2.0h-2.0zM160.4 286.2h2.0v2.0h-2.0zM161.7 292.0h2.0v2.0h-2.0zM162.9 288.2h2.0v2.0h-2.0zM164.2 287.0h2.0v2.0h-2.0zM165.4 289.6h2.0v2.0h-2.0zM166.7 289.7h2.0v2.0h-2.0zM167.9 297.6h2.0v2.0h-2.0zM169.1 286.7h2.0v2.0h-2.0zM170.4 289.4h2.0v2.0h-2.0zM171.6 290.5h2.0v2.0h-2.0zM172.9 289.7h2.0v2.0h-2.0zM174.1 286.5h2.0v2.0h-2.0zM175.4 292.0h2.0v2.0h-2.0zM176.6 286.2h2.0v2.0h-2.0zM177.9 284.0h2.0v2.0h-2.0zM179.1 287.3h2.0v2.0h-2.0zM180.3 293.9h2.0v2.0h-2.0zM181.6 287.3h2.0v2.0h-2.0zM182.8 293.4h2.0v2.0h-2.0zM184.1 288.9h2.0v2.0h-2.0zM185.3 288.4h2.0v2.0h-2.0zM186.6 294.6h2.0v2.0h-2.0zM187.8 289.5h2.0v2.0h-2.0zM189.1 291.3h2.0v2.0h-2.0zM190.3 288.7h2.0v2.0h-2.0zM191.6 292.4h2.0v2.0h-2.0zM192.8 294.4h2.0v2.0h-2.0zM194.0 294.7h2.0v2.0h-2.0zM195.3 295.7h2.0v2.0h-2.0zM196.5 281.9h2.0v2.0h-2.0zM197.8 288.3h2.0v2.0h-2.0zM199.0 280.6h2.0v2.0h-2.0zM200.3 297.6h2.0v2.0h-2.0zM201.5 290.6h2.0v2.0h-2.0zM202.8 297.2h2.0v2.0h-2.0zM204.0 293.6h2.0v2.0h-2.0zM205.2 291.7h2.0v2.0h-2.0zM206.5 290.7h2.0v2.0h-2.0zM207.7 290.5h2.0v2.0h-2.0zM209.0 293.7h2.0v2.0h-2.0zM210.2 290.8h2.0v2.0h-2.0zM211.5 292.2h2.0v2.0h-2.0zM212.7 285.7h2.0v2.0h-2.0zM214.0 291.9h2.0v2.0h-2.0zM215.2 292.9h2.0v2.0h-2.0z" fill="#8FB032" fill-opacity="0.6"/>
<path d="M29.7 287.1h2.0v2.0h-2.0zM31.0 293.4h2.0v2.0h-2.0zM32.2 293.3h2.0v2.0h-2.0zM33.5 288.3h2.0v2.0h-2.0zM34.7 295.0h2.0v2.0h-2.0zM36.0 288.8h2.0v2.0h-2.0zM37.2 287.6h2.0v2.0h-2.0zM38.5 292.6h2.0v2.0h-2.0zM39.7 288.3h2.0v2.0h-2.0zM40.9 294.2h2.0v2.0h-2.0zM42.2 291.4h2.0v2.0h-2.0zM43.4 288.8h2.0v2.0h-2.0zM44.7 287.7h2.0v2.0h-2.0zM45.9 293.8h2.0v2.0h-2.0zM47.2 290.4h2.0v2.0h-2.0zM48.4 288.5h2.0v2.0h-2.0zM49.7 291.1h2.0v2.0h-2.0zM50.9 286.4h2.0v2.0h-2.0zM52.1 287.1h2.0v2.0h-2.0zM53.4 291.7h2.0v2.0h-2.0zM54.6 289.7h2.0v2.0h-2.0zM55.9 281.5h2.0v2.0h-2.0zM57.1 292.5h2.0v2.0h-2.0zM58.4 290.9h2.0v2.0h-2.0zM59.6 285.8h2.0v2.0h-2.0zM60.9 299.7h2.0v2.0h-2.0zM62.1 288.8h2.0v2.0h-2.0zM63.4 288.6h2.0v2.0h-2.0zM64.6 297.5h2.0v2.0h-2.0zM65.8 284.6h2.0v2.0h-2.0zM67.1 289.4h2.0v2.0h-2.0zM68.3 283.7h2.0v2.0h-2.0zM69.6 286.7h2.0v2.0h-2.0zM70.8 291.4h2.0v2.0h-2.0zM72.1 292.6h2.0v2.0h-2.0zM73.3 294.3h2.0v2.0h-2.0zM74.6 288.4h2.0v2.0h-2.0zM75.8 293.6h2.0v2.0h-2.0zM77.0 292.3h2.0v2.0h-2.0zM78.3 283.6h2.0v2.0h-2.0zM79.5 284.5h2.0v2.0h-2.0zM80.8 291.3h2.0v2.0h-2.0zM82.0 298.8h2.0v2.0h-2.0zM83.3 296.3h2.0v2.0h-2.0zM84.5 285.7h2.0v2.0h-2.0zM85.8 290.5h2.0v2.0h-2.0zM87.0 289.0h2.0v2.0h-2.0zM88.2 283.8h2.0v2.0h-2.0zM89.5 294.4h2.0v2.0h-2.0zM90.7 285.5h2.0v2.0h-2.0zM92.0 285.8h2.0v2.0h-2.0zM93.2 295.0h2.0v2.0h-2.0zM94.5 280.3h2.0v2.0h-2.0zM95.7 287.8h2.0v2.0h-2.0zM97.0 287.6h2.0v2.0h-2.0zM98.2 284.0h2.0v2.0h-2.0zM99.4 287.5h2.0v2.0h-2.0zM100.7 287.5h2.0v2.0h-2.0zM101.9 289.8h2.0v2.0h-2.0zM103.2 299.4h2.0v2.0h-2.0zM104.4 287.5h2.0v2.0h-2.0zM105.7 289.4h2.0v2.0h-2.0zM106.9 288.1h2.0v2.0h-2.0zM108.2 290.3h2.0v2.0h-2.0zM109.4 287.9h2.0v2.0h-2.0zM110.6 292.6h2.0v2.0h-2.0zM111.9 288.9h2.0v2.0h-2.0zM113.1 281.6h2.0v2.0h-2.0zM114.4 283.9h2.0v2.0h-2.0zM115.6 295.6h2.0v2.0h-2.0zM116.9 293.6h2.0v2.0h-2.0zM118.1 291.3h2.0v2.0h-2.0zM119.4 291.2h2.0v2.0h-2.0zM120.6 291.6h2.0v2.0h-2.0zM121.8 286.1h2.0v2.0h-2.0zM123.1 294.3h2.0v2.0h-2.0zM124.3 293.2h2.0v2.0h-2.0zM125.6 287.0h2.0v2.0h-2.0zM126.8 294.1h2.0v2.0h-2.0zM128.1 302.0h2.0v2.0h-2.0zM129.3 292.4h2.0v2.0h-2.0zM130.6 289.8h2.0v2.0h-2.0zM131.8 294.9h2.0v2.0h-2.0zM133.1 286.4h2.0v2.0h-2.0zM134.3 288.8h2.0v2.0h-2.0zM135.5 282.3h2.0v2.0h-2.0zM136.8 290.6h2.0v2.0h-2.0zM138.0 298.1h2.0v2.0h-2.0zM139.3 288.4h2.0v2.0h-2.0zM140.5 297.5h2.0v2.0h-2.0zM141.8 285.8h2.0v2.0h-2.0zM143.0 283.4h2.0v2.0h-2.0zM144.3 296.9h2.0v2.0h-2.0zM145.5 291.7h2.0v2.0h-2.0zM146.7 286.4h2.0v2.0h-2.0zM148.0 286.9h2.0v2.0h-2.0zM149.2 289.5h2.0v2.0h-2.0zM150.5 295.0h2.0v2.0h-2.0zM151.7 289.9h2.0v2.0h-2.0zM153.0 285.4h2.0v2.0h-2.0zM154.2 279.7h2.0v2.0h-2.0zM155.5 288.6h2.0v2.0h-2.0zM156.7 286.8h2.0v2.0h-2.0zM157.9 291.5h2.0v2.0h-2.0zM159.2 284.7h2.0v2.0h-2.0zM160.4 292.0h2.0v2.0h-2.0zM161.7 287.1h2.0v2.0h-2.0zM162.9 290.3h2.0v2.0h-2.0zM164.2 287.9h2.0v2.0h-2.0zM165.4 293.1h2.0v2.0h-2.0zM166.7 299.3h2.0v2.0h-2.0zM167.9 294.4h2.0v2.0h-2.0zM169.1 293.4h2.0v2.0h-2.0zM170.4 289.3h2.0v2.0h-2.0zM171.6 291.6h2.0v2.0h-2.0zM172.9 285.3h2.0v2.0h-2.0zM174.1 297.7h2.0v2.0h-2.0zM175.4 288.4h2.0v2.0h-2.0zM176.6 289.4h2.0v2.0h-2.0zM177.9 293.6h2.0v2.0h-2.0zM179.1 290.9h2.0v2.0h-2.0zM180.3 295.2h2.0v2.0h-2.0zM181.6 290.2h2.0v2.0h-2.0zM182.8 295.6h2.0v2.0h-2.0zM184.1 284.8h2.0v2.0h-2.0zM185.3 288.6h2.0v2.0h-2.0zM186.6 290.9h2.0v2.0h-2.0zM187.8 289.0h2.0v2.0h-2.0zM189.1 289.5h2.0v2.0h-2.0zM190.3 280.8h2.0v2.0h-2.0zM191.6 292.1h2.0v2.0h-2.0zM192.8 282.0h2.0v2.0h-2.0zM194.0 287.4h2.0v2.0h-2.0zM195.3 291.8h2.0v2.0h-2.0zM196.5 288.2h2.0v2.0h-2.0zM197.8 288.3h2.0v2.0h-2.0zM199.0 290.8h2.0v2.0h-2.0zM200.3 289.6h2.0v2.0h-2.0zM201.5 293.6h2.0v2.0h-2.0zM202.8 288.4h2.0v2.0h-2.0zM204.0 290.3h2.0v2.0h-2.0zM205.2 296.4h2.0v2.0h-2.0zM206.5 295.1h2.0v2.0h-2.0zM207.7 285.7h2.0v2.0h-2.0zM209.0 295.1h2.0v2.0h-2.0zM210.2 291.5h2.0v2.0h-2.0zM211.5 290.6h2.0v2.0h-2.0zM212.7 290.6h2.0v2.0h-2.0zM214.0 292.2h2.0v2.0h-2.0zM215.2 285.4h2.0v2.0h-2.0z" fill="#929600" fill-opacity="0.6"/>
</g>
<line x1="29.50" y1="190.80" x2="29.50" y2="305.70" stroke="#858585" stroke-width="1" />
<line x1="29.00" y1="305.20" x2="216.70" y2="305.20" stroke="#858585" stroke-width="1" />
<line x1="29.50" y1="267.07" x2="33.00" y2="267.07" stroke="#858585" stroke-width="1" />
<line x1="29.50" y1="228.94" x2="33.00" y2="228.94" stroke="#858585" stroke-width="1" />
<line x1="29.50" y1="190.81" x2="33.00" y2="190.81" stroke="#858585" stroke-width="1" />
<line x1="91.73" y1="305.20" x2="91.73" y2="302.70" stroke="#858585" stroke-width="1" />
<line x1="153.97" y1="305.20" x2="153.97" y2="302.70" stroke="#858585" stroke-width="1" />
<line x1="216.20" y1="305.20" x2="216.20" y2="302.70" stroke="#858585" stroke-width="1" />
<text x="26.20" y="308.00" font-size="7.9" text-anchor="end" fill="#1a1a1a" font-weight="normal" >0</text>
<text x="26.20" y="269.87" font-size="7.9" text-anchor="end" fill="#1a1a1a" font-weight="normal" >0.1</text>
<text x="26.20" y="231.74" font-size="7.9" text-anchor="end" fill="#1a1a1a" font-weight="normal" >0.2</text>
<text x="26.20" y="193.61" font-size="7.9" text-anchor="end" fill="#1a1a1a" font-weight="normal" >0.3</text>
<text x="29.50" y="315.70" font-size="7.9" text-anchor="middle" fill="#1a1a1a" font-weight="normal" >0</text>
<text x="91.73" y="315.70" font-size="7.9" text-anchor="middle" fill="#1a1a1a" font-weight="normal" >50</text>
<text x="153.97" y="315.70" font-size="7.9" text-anchor="middle" fill="#1a1a1a" font-weight="normal" >100</text>
<text x="216.20" y="315.70" font-size="7.9" text-anchor="middle" fill="#1a1a1a" font-weight="normal" >150</text>
<text x="122.85" y="327.60" font-size="7.9" text-anchor="middle" fill="#1a1a1a" font-weight="normal" >Round</text>
<text x="7.70" y="247.90" font-size="7.9" text-anchor="middle" fill="#1a1a1a" font-weight="normal" transform="rotate(-90 7.7 247.9)">Error rate</text>
<text x="185.50" y="201.00" font-size="7.9" text-anchor="start" fill="#1a1a1a" font-weight="normal" >370 km</text>
<text x="39.70" y="266.20" font-size="7.9" text-anchor="start" fill="#1a1a1a" font-weight="normal" >20 QKD chips</text>
<text x="-0.30" y="6.40" font-size="10.2" text-anchor="start" fill="#000" font-weight="bold" textLength="6.3" lengthAdjust="spacingAndGlyphs">a</text>
<text x="-0.90" y="187.70" font-size="10.2" text-anchor="start" fill="#000" font-weight="bold" >b</text>
<line x1="266.00" y1="4.30" x2="266.00" y2="116.80" stroke="#858585" stroke-width="1" />
<line x1="265.50" y1="116.30" x2="449.00" y2="116.30" stroke="#858585" stroke-width="1" />
<line x1="266.00" y1="110.40" x2="269.40" y2="110.40" stroke="#858585" stroke-width="1" />
<line x1="266.00" y1="103.66" x2="268.60" y2="103.66" stroke="#858585" stroke-width="1" />
<line x1="266.00" y1="96.92" x2="268.60" y2="96.92" stroke="#858585" stroke-width="1" />
<line x1="266.00" y1="90.18" x2="268.60" y2="90.18" stroke="#858585" stroke-width="1" />
<line x1="266.00" y1="83.44" x2="268.60" y2="83.44" stroke="#858585" stroke-width="1" />
<line x1="266.00" y1="76.70" x2="269.40" y2="76.70" stroke="#858585" stroke-width="1" />
<line x1="266.00" y1="69.96" x2="268.60" y2="69.96" stroke="#858585" stroke-width="1" />
<line x1="266.00" y1="63.22" x2="268.60" y2="63.22" stroke="#858585" stroke-width="1" />
<line x1="266.00" y1="56.48" x2="268.60" y2="56.48" stroke="#858585" stroke-width="1" />
<line x1="266.00" y1="49.74" x2="268.60" y2="49.74" stroke="#858585" stroke-width="1" />
<line x1="266.00" y1="43.00" x2="269.40" y2="43.00" stroke="#858585" stroke-width="1" />
<line x1="266.00" y1="36.26" x2="268.60" y2="36.26" stroke="#858585" stroke-width="1" />
<line x1="266.00" y1="29.52" x2="268.60" y2="29.52" stroke="#858585" stroke-width="1" />
<line x1="266.00" y1="22.78" x2="268.60" y2="22.78" stroke="#858585" stroke-width="1" />
<line x1="266.00" y1="16.04" x2="268.60" y2="16.04" stroke="#858585" stroke-width="1" />
<line x1="266.00" y1="9.30" x2="269.40" y2="9.30" stroke="#858585" stroke-width="1" />
<line x1="278.40" y1="116.30" x2="278.40" y2="113.30" stroke="#858585" stroke-width="1" />
<line x1="296.00" y1="116.30" x2="296.00" y2="113.30" stroke="#858585" stroke-width="1" />
<line x1="313.60" y1="116.30" x2="313.60" y2="113.30" stroke="#858585" stroke-width="1" />
<line x1="331.20" y1="116.30" x2="331.20" y2="113.30" stroke="#858585" stroke-width="1" />
<line x1="348.80" y1="116.30" x2="348.80" y2="113.30" stroke="#858585" stroke-width="1" />
<line x1="366.40" y1="116.30" x2="366.40" y2="113.30" stroke="#858585" stroke-width="1" />
<line x1="384.00" y1="116.30" x2="384.00" y2="113.30" stroke="#858585" stroke-width="1" />
<line x1="401.60" y1="116.30" x2="401.60" y2="113.30" stroke="#858585" stroke-width="1" />
<line x1="419.20" y1="116.30" x2="419.20" y2="113.30" stroke="#858585" stroke-width="1" />
<line x1="436.80" y1="116.30" x2="436.80" y2="113.30" stroke="#858585" stroke-width="1" />
<text x="262.10" y="113.80" font-size="7.9" text-anchor="end" fill="#1a1a1a" font-weight="normal" >0</text>
<text x="262.10" y="80.10" font-size="7.9" text-anchor="end" fill="#1a1a1a" font-weight="normal" >0.05</text>
<text x="262.10" y="46.40" font-size="7.9" text-anchor="end" fill="#1a1a1a" font-weight="normal" >0.10</text>
<text x="262.10" y="12.70" font-size="7.9" text-anchor="end" fill="#1a1a1a" font-weight="normal" >0.15</text>
<line x1="278.40" y1="74.20" x2="278.40" y2="83.30" stroke="#444" stroke-width="0.9" />
<line x1="278.40" y1="89.50" x2="278.40" y2="94.40" stroke="#444" stroke-width="0.9" />
<line x1="275.50" y1="74.20" x2="281.30" y2="74.20" stroke="#444" stroke-width="0.9" />
<line x1="275.50" y1="94.40" x2="281.30" y2="94.40" stroke="#444" stroke-width="0.9" />
<rect x="272.60" y="83.60" width="11.60" height="5.60" fill="#7f9cc8" stroke="#5E81B5" stroke-opacity="0.45" stroke-width="0.6"/>
<line x1="272.80" y1="86.80" x2="284.00" y2="86.80" stroke="#ffffff" stroke-width="0.9" stroke-opacity="0.6"/>
<circle cx="278.40" cy="72.70" r="1.5" fill="#000"/>
<line x1="296.00" y1="76.40" x2="296.00" y2="82.40" stroke="#444" stroke-width="0.9" />
<line x1="296.00" y1="87.90" x2="296.00" y2="95.20" stroke="#444" stroke-width="0.9" />
<line x1="293.10" y1="76.40" x2="298.90" y2="76.40" stroke="#444" stroke-width="0.9" />
<line x1="293.10" y1="95.20" x2="298.90" y2="95.20" stroke="#444" stroke-width="0.9" />
<rect x="290.20" y="82.70" width="11.60" height="4.90" fill="#e5a94e" stroke="#E19C24" stroke-opacity="0.45" stroke-width="0.6"/>
<line x1="290.40" y1="85.10" x2="301.60" y2="85.10" stroke="#ffffff" stroke-width="0.9" stroke-opacity="0.6"/>
<circle cx="296.00" cy="70.90" r="1.5" fill="#000"/>
<circle cx="296.00" cy="72.20" r="1.5" fill="#000"/>
<circle cx="296.00" cy="73.50" r="1.5" fill="#000"/>
<line x1="313.60" y1="76.80" x2="313.60" y2="85.00" stroke="#444" stroke-width="0.9" />
<line x1="313.60" y1="92.40" x2="313.60" y2="97.30" stroke="#444" stroke-width="0.9" />
<line x1="310.70" y1="76.80" x2="316.50" y2="76.80" stroke="#444" stroke-width="0.9" />
<line x1="310.70" y1="97.30" x2="316.50" y2="97.30" stroke="#444" stroke-width="0.9" />
<rect x="307.80" y="85.30" width="11.60" height="6.80" fill="#9fbd5b" stroke="#8FB032" stroke-opacity="0.45" stroke-width="0.6"/>
<line x1="308.00" y1="88.80" x2="319.20" y2="88.80" stroke="#ffffff" stroke-width="0.9" stroke-opacity="0.6"/>
<circle cx="313.60" cy="67.70" r="1.5" fill="#000"/>
<line x1="331.20" y1="69.40" x2="331.20" y2="81.90" stroke="#444" stroke-width="0.9" />
<line x1="331.20" y1="90.60" x2="331.20" y2="97.30" stroke="#444" stroke-width="0.9" />
<line x1="328.30" y1="69.40" x2="334.10" y2="69.40" stroke="#444" stroke-width="0.9" />
<line x1="328.30" y1="97.30" x2="334.10" y2="97.30" stroke="#444" stroke-width="0.9" />
<rect x="325.40" y="82.20" width="11.60" height="8.10" fill="#ea825c" stroke="#EB6235" stroke-opacity="0.45" stroke-width="0.6"/>
<line x1="325.60" y1="86.40" x2="336.80" y2="86.40" stroke="#ffffff" stroke-width="0.9" stroke-opacity="0.6"/>
<circle cx="331.20" cy="69.10" r="1.5" fill="#000"/>
<line x1="348.80" y1="75.00" x2="348.80" y2="83.70" stroke="#444" stroke-width="0.9" />
<line x1="348.80" y1="91.90" x2="348.80" y2="98.70" stroke="#444" stroke-width="0.9" />
<line x1="345.90" y1="75.00" x2="351.70" y2="75.00" stroke="#444" stroke-width="0.9" />
<line x1="345.90" y1="98.70" x2="351.70" y2="98.70" stroke="#444" stroke-width="0.9" />
<rect x="343.00" y="84.00" width="11.60" height="7.60" fill="#a194c6" stroke="#8778B3" stroke-opacity="0.45" stroke-width="0.6"/>
<line x1="343.20" y1="88.30" x2="354.40" y2="88.30" stroke="#ffffff" stroke-width="0.9" stroke-opacity="0.6"/>
<line x1="366.40" y1="83.30" x2="366.40" y2="88.30" stroke="#444" stroke-width="0.9" />
<line x1="366.40" y1="93.40" x2="366.40" y2="98.30" stroke="#444" stroke-width="0.9" />
<line x1="363.50" y1="83.30" x2="369.30" y2="83.30" stroke="#444" stroke-width="0.9" />
<line x1="363.50" y1="98.30" x2="369.30" y2="98.30" stroke="#444" stroke-width="0.9" />
<rect x="360.60" y="88.60" width="11.60" height="4.50" fill="#cc8b4c" stroke="#C56E1A" stroke-opacity="0.45" stroke-width="0.6"/>
<line x1="360.80" y1="90.60" x2="372.00" y2="90.60" stroke="#ffffff" stroke-width="0.9" stroke-opacity="0.6"/>
<line x1="384.00" y1="81.90" x2="384.00" y2="88.30" stroke="#444" stroke-width="0.9" />
<line x1="384.00" y1="92.80" x2="384.00" y2="96.50" stroke="#444" stroke-width="0.9" />
<line x1="381.10" y1="81.90" x2="386.90" y2="81.90" stroke="#444" stroke-width="0.9" />
<line x1="381.10" y1="96.50" x2="386.90" y2="96.50" stroke="#444" stroke-width="0.9" />
<rect x="378.20" y="88.60" width="11.60" height="3.90" fill="#7fb2d5" stroke="#5D9EC7" stroke-opacity="0.45" stroke-width="0.6"/>
<line x1="378.40" y1="90.60" x2="389.60" y2="90.60" stroke="#ffffff" stroke-width="0.9" stroke-opacity="0.6"/>
<circle cx="384.00" cy="81.30" r="1.5" fill="#000"/>
<line x1="401.60" y1="81.50" x2="401.60" y2="87.40" stroke="#444" stroke-width="0.9" />
<line x1="401.60" y1="91.60" x2="401.60" y2="96.50" stroke="#444" stroke-width="0.9" />
<line x1="398.70" y1="81.50" x2="404.50" y2="81.50" stroke="#444" stroke-width="0.9" />
<line x1="398.70" y1="96.50" x2="404.50" y2="96.50" stroke="#444" stroke-width="0.9" />
<rect x="395.80" y="87.70" width="11.60" height="3.60" fill="#f5c43d" stroke="#FFBF00" stroke-opacity="0.45" stroke-width="0.6"/>
<line x1="396.00" y1="89.30" x2="407.20" y2="89.30" stroke="#ffffff" stroke-width="0.9" stroke-opacity="0.6"/>
<line x1="419.20" y1="81.50" x2="419.20" y2="87.90" stroke="#444" stroke-width="0.9" />
<line x1="419.20" y1="92.30" x2="419.20" y2="96.50" stroke="#444" stroke-width="0.9" />
<line x1="416.30" y1="81.50" x2="422.10" y2="81.50" stroke="#444" stroke-width="0.9" />
<line x1="416.30" y1="96.50" x2="422.10" y2="96.50" stroke="#444" stroke-width="0.9" />
<rect x="413.40" y="88.20" width="11.60" height="3.80" fill="#b983b4" stroke="#A5609D" stroke-opacity="0.45" stroke-width="0.6"/>
<line x1="413.60" y1="90.10" x2="424.80" y2="90.10" stroke="#ffffff" stroke-width="0.9" stroke-opacity="0.6"/>
<line x1="436.80" y1="82.30" x2="436.80" y2="87.70" stroke="#444" stroke-width="0.9" />
<line x1="436.80" y1="92.80" x2="436.80" y2="97.40" stroke="#444" stroke-width="0.9" />
<line x1="433.90" y1="82.30" x2="439.70" y2="82.30" stroke="#444" stroke-width="0.9" />
<line x1="433.90" y1="97.40" x2="439.70" y2="97.40" stroke="#444" stroke-width="0.9" />
<rect x="431.00" y="88.00" width="11.60" height="4.50" fill="#a7a847" stroke="#929600" stroke-opacity="0.45" stroke-width="0.6"/>
<line x1="431.20" y1="90.20" x2="442.40" y2="90.20" stroke="#ffffff" stroke-width="0.9" stroke-opacity="0.6"/>
<circle cx="436.80" cy="81.00" r="1.5" fill="#000"/>
<text x="278.40" y="127.40" font-size="7.9" text-anchor="middle" fill="#1a1a1a" font-weight="normal" >{A<tspan font-size="5.4" dy="2.4" stroke-width="0.12">1</tspan><tspan dy="-2.4">, B</tspan><tspan font-size="5.4" dy="2.4" stroke-width="0.12">1</tspan><tspan dy="-2.4">}</tspan></text>
<text x="331.20" y="127.40" font-size="7.9" text-anchor="middle" fill="#1a1a1a" font-weight="normal" >{A<tspan font-size="5.4" dy="2.4" stroke-width="0.12">4</tspan><tspan dy="-2.4">, B</tspan><tspan font-size="5.4" dy="2.4" stroke-width="0.12">4</tspan><tspan dy="-2.4">}</tspan></text>
<text x="384.00" y="127.40" font-size="7.9" text-anchor="middle" fill="#1a1a1a" font-weight="normal" >{A<tspan font-size="5.4" dy="2.4" stroke-width="0.12">7</tspan><tspan dy="-2.4">, B</tspan><tspan font-size="5.4" dy="2.4" stroke-width="0.12">7</tspan><tspan dy="-2.4">}</tspan></text>
<text x="436.80" y="127.40" font-size="7.9" text-anchor="middle" fill="#1a1a1a" font-weight="normal" >{A<tspan font-size="5.4" dy="2.4" stroke-width="0.12">10</tspan><tspan dy="-2.4">, B</tspan><tspan font-size="5.4" dy="2.4" stroke-width="0.12">10</tspan><tspan dy="-2.4">}</tspan></text>
<text x="357.50" y="142.60" font-size="7.9" text-anchor="middle" fill="#1a1a1a" font-weight="normal" >Paired QKD chips</text>
<text x="239.60" y="60.20" font-size="7.9" text-anchor="middle" fill="#1a1a1a" font-weight="normal" transform="rotate(-90 239.6 60.199999999999996)">Error rate</text>
<text x="420.00" y="13.30" font-size="7.9" text-anchor="start" fill="#1a1a1a" font-weight="normal" >204 km</text>
<line x1="265.50" y1="189.10" x2="265.50" y2="301.50" stroke="#858585" stroke-width="1" />
<line x1="265.00" y1="301.00" x2="448.60" y2="301.00" stroke="#858585" stroke-width="1" />
<line x1="265.50" y1="295.20" x2="268.90" y2="295.20" stroke="#858585" stroke-width="1" />
<line x1="265.50" y1="288.47" x2="268.10" y2="288.47" stroke="#858585" stroke-width="1" />
<line x1="265.50" y1="281.74" x2="268.10" y2="281.74" stroke="#858585" stroke-width="1" />
<line x1="265.50" y1="275.01" x2="268.10" y2="275.01" stroke="#858585" stroke-width="1" />
<line x1="265.50" y1="268.28" x2="268.10" y2="268.28" stroke="#858585" stroke-width="1" />
<line x1="265.50" y1="261.55" x2="268.90" y2="261.55" stroke="#858585" stroke-width="1" />
<line x1="265.50" y1="254.82" x2="268.10" y2="254.82" stroke="#858585" stroke-width="1" />
<line x1="265.50" y1="248.09" x2="268.10" y2="248.09" stroke="#858585" stroke-width="1" />
<line x1="265.50" y1="241.36" x2="268.10" y2="241.36" stroke="#858585" stroke-width="1" />
<line x1="265.50" y1="234.63" x2="268.10" y2="234.63" stroke="#858585" stroke-width="1" />
<line x1="265.50" y1="227.90" x2="268.90" y2="227.90" stroke="#858585" stroke-width="1" />
<line x1="265.50" y1="221.17" x2="268.10" y2="221.17" stroke="#858585" stroke-width="1" />
<line x1="265.50" y1="214.44" x2="268.10" y2="214.44" stroke="#858585" stroke-width="1" />
<line x1="265.50" y1="207.71" x2="268.10" y2="207.71" stroke="#858585" stroke-width="1" />
<line x1="265.50" y1="200.98" x2="268.10" y2="200.98" stroke="#858585" stroke-width="1" />
<line x1="265.50" y1="194.25" x2="268.90" y2="194.25" stroke="#858585" stroke-width="1" />
<line x1="278.40" y1="301.00" x2="278.40" y2="298.00" stroke="#858585" stroke-width="1" />
<line x1="296.00" y1="301.00" x2="296.00" y2="298.00" stroke="#858585" stroke-width="1" />
<line x1="313.60" y1="301.00" x2="313.60" y2="298.00" stroke="#858585" stroke-width="1" />
<line x1="331.20" y1="301.00" x2="331.20" y2="298.00" stroke="#858585" stroke-width="1" />
<line x1="348.80" y1="301.00" x2="348.80" y2="298.00" stroke="#858585" stroke-width="1" />
<line x1="366.40" y1="301.00" x2="366.40" y2="298.00" stroke="#858585" stroke-width="1" />
<line x1="384.00" y1="301.00" x2="384.00" y2="298.00" stroke="#858585" stroke-width="1" />
<line x1="401.60" y1="301.00" x2="401.60" y2="298.00" stroke="#858585" stroke-width="1" />
<line x1="419.20" y1="301.00" x2="419.20" y2="298.00" stroke="#858585" stroke-width="1" />
<line x1="436.80" y1="301.00" x2="436.80" y2="298.00" stroke="#858585" stroke-width="1" />
<text x="261.80" y="298.60" font-size="7.9" text-anchor="end" fill="#1a1a1a" font-weight="normal" >0</text>
<text x="261.80" y="264.95" font-size="7.9" text-anchor="end" fill="#1a1a1a" font-weight="normal" >0.05</text>
<text x="261.80" y="231.30" font-size="7.9" text-anchor="end" fill="#1a1a1a" font-weight="normal" >0.10</text>
<text x="261.80" y="197.65" font-size="7.9" text-anchor="end" fill="#1a1a1a" font-weight="normal" >0.15</text>
<line x1="278.40" y1="248.00" x2="278.40" y2="263.30" stroke="#444" stroke-width="0.9" />
<line x1="278.40" y1="273.50" x2="278.40" y2="287.60" stroke="#444" stroke-width="0.9" />
<line x1="275.50" y1="248.00" x2="281.30" y2="248.00" stroke="#444" stroke-width="0.9" />
<line x1="275.50" y1="287.60" x2="281.30" y2="287.60" stroke="#444" stroke-width="0.9" />
<rect x="272.60" y="263.60" width="11.60" height="9.60" fill="#7f9cc8" stroke="#5E81B5" stroke-opacity="0.45" stroke-width="0.6"/>
<line x1="272.80" y1="268.20" x2="284.00" y2="268.20" stroke="#ffffff" stroke-width="0.9" stroke-opacity="0.6"/>
<circle cx="278.40" cy="244.80" r="1.5" fill="#000"/>
<circle cx="278.40" cy="246.30" r="1.5" fill="#000"/>
<line x1="296.00" y1="250.40" x2="296.00" y2="264.50" stroke="#444" stroke-width="0.9" />
<line x1="296.00" y1="274.70" x2="296.00" y2="286.20" stroke="#444" stroke-width="0.9" />
<line x1="293.10" y1="250.40" x2="298.90" y2="250.40" stroke="#444" stroke-width="0.9" />
<line x1="293.10" y1="286.20" x2="298.90" y2="286.20" stroke="#444" stroke-width="0.9" />
<rect x="290.20" y="264.80" width="11.60" height="9.60" fill="#e5a94e" stroke="#E19C24" stroke-opacity="0.45" stroke-width="0.6"/>
<line x1="290.40" y1="270.60" x2="301.60" y2="270.60" stroke="#ffffff" stroke-width="0.9" stroke-opacity="0.6"/>
<circle cx="296.00" cy="247.20" r="1.5" fill="#000"/>
<circle cx="296.00" cy="249.70" r="1.5" fill="#000"/>
<circle cx="296.00" cy="291.80" r="1.5" fill="#000"/>
<line x1="313.60" y1="241.40" x2="313.60" y2="260.90" stroke="#444" stroke-width="0.9" />
<line x1="313.60" y1="274.70" x2="313.60" y2="289.30" stroke="#444" stroke-width="0.9" />
<line x1="310.70" y1="241.40" x2="316.50" y2="241.40" stroke="#444" stroke-width="0.9" />
<line x1="310.70" y1="289.30" x2="316.50" y2="289.30" stroke="#444" stroke-width="0.9" />
<rect x="307.80" y="261.20" width="11.60" height="13.20" fill="#9fbd5b" stroke="#8FB032" stroke-opacity="0.45" stroke-width="0.6"/>
<line x1="308.00" y1="267.90" x2="319.20" y2="267.90" stroke="#ffffff" stroke-width="0.9" stroke-opacity="0.6"/>
<circle cx="313.60" cy="237.80" r="1.5" fill="#000"/>
<line x1="331.20" y1="246.30" x2="331.20" y2="260.90" stroke="#444" stroke-width="0.9" />
<line x1="331.20" y1="273.50" x2="331.20" y2="286.20" stroke="#444" stroke-width="0.9" />
<line x1="328.30" y1="246.30" x2="334.10" y2="246.30" stroke="#444" stroke-width="0.9" />
<line x1="328.30" y1="286.20" x2="334.10" y2="286.20" stroke="#444" stroke-width="0.9" />
<rect x="325.40" y="261.20" width="11.60" height="12.00" fill="#ea825c" stroke="#EB6235" stroke-opacity="0.45" stroke-width="0.6"/>
<line x1="325.60" y1="265.00" x2="336.80" y2="265.00" stroke="#ffffff" stroke-width="0.9" stroke-opacity="0.6"/>
<circle cx="331.20" cy="237.00" r="1.5" fill="#000"/>
<circle cx="331.20" cy="240.70" r="1.5" fill="#000"/>
<line x1="348.80" y1="248.70" x2="348.80" y2="261.80" stroke="#444" stroke-width="0.9" />
<line x1="348.80" y1="272.30" x2="348.80" y2="280.80" stroke="#444" stroke-width="0.9" />
<line x1="345.90" y1="248.70" x2="351.70" y2="248.70" stroke="#444" stroke-width="0.9" />
<line x1="345.90" y1="280.80" x2="351.70" y2="280.80" stroke="#444" stroke-width="0.9" />
<rect x="343.00" y="262.10" width="11.60" height="9.90" fill="#a194c6" stroke="#8778B3" stroke-opacity="0.45" stroke-width="0.6"/>
<line x1="343.20" y1="267.40" x2="354.40" y2="267.40" stroke="#ffffff" stroke-width="0.9" stroke-opacity="0.6"/>
<circle cx="348.80" cy="241.40" r="1.5" fill="#000"/>
<circle cx="348.80" cy="288.90" r="1.5" fill="#000"/>
<line x1="366.40" y1="240.70" x2="366.40" y2="258.20" stroke="#444" stroke-width="0.9" />
<line x1="366.40" y1="272.80" x2="366.40" y2="288.90" stroke="#444" stroke-width="0.9" />
<line x1="363.50" y1="240.70" x2="369.30" y2="240.70" stroke="#444" stroke-width="0.9" />
<line x1="363.50" y1="288.90" x2="369.30" y2="288.90" stroke="#444" stroke-width="0.9" />
<rect x="360.60" y="258.50" width="11.60" height="14.00" fill="#cc8b4c" stroke="#C56E1A" stroke-opacity="0.45" stroke-width="0.6"/>
<line x1="360.80" y1="266.20" x2="372.00" y2="266.20" stroke="#ffffff" stroke-width="0.9" stroke-opacity="0.6"/>
<line x1="384.00" y1="244.80" x2="384.00" y2="262.10" stroke="#444" stroke-width="0.9" />
<line x1="384.00" y1="273.50" x2="384.00" y2="286.40" stroke="#444" stroke-width="0.9" />
<line x1="381.10" y1="244.80" x2="386.90" y2="244.80" stroke="#444" stroke-width="0.9" />
<line x1="381.10" y1="286.40" x2="386.90" y2="286.40" stroke="#444" stroke-width="0.9" />
<rect x="378.20" y="262.40" width="11.60" height="10.80" fill="#7fb2d5" stroke="#5D9EC7" stroke-opacity="0.45" stroke-width="0.6"/>
<line x1="378.40" y1="267.40" x2="389.60" y2="267.40" stroke="#ffffff" stroke-width="0.9" stroke-opacity="0.6"/>
<circle cx="384.00" cy="244.30" r="1.5" fill="#000"/>
<line x1="401.60" y1="252.40" x2="401.60" y2="264.50" stroke="#444" stroke-width="0.9" />
<line x1="401.60" y1="274.30" x2="401.60" y2="288.60" stroke="#444" stroke-width="0.9" />
<line x1="398.70" y1="252.40" x2="404.50" y2="252.40" stroke="#444" stroke-width="0.9" />
<line x1="398.70" y1="288.60" x2="404.50" y2="288.60" stroke="#444" stroke-width="0.9" />
<rect x="395.80" y="264.80" width="11.60" height="9.20" fill="#f5c43d" stroke="#FFBF00" stroke-opacity="0.45" stroke-width="0.6"/>
<line x1="396.00" y1="270.30" x2="407.20" y2="270.30" stroke="#ffffff" stroke-width="0.9" stroke-opacity="0.6"/>
<circle cx="401.60" cy="247.20" r="1.5" fill="#000"/>
<circle cx="401.60" cy="249.20" r="1.5" fill="#000"/>
<line x1="419.20" y1="243.60" x2="419.20" y2="259.30" stroke="#444" stroke-width="0.9" />
<line x1="419.20" y1="271.70" x2="419.20" y2="290.40" stroke="#444" stroke-width="0.9" />
<line x1="416.30" y1="243.60" x2="422.10" y2="243.60" stroke="#444" stroke-width="0.9" />
<line x1="416.30" y1="290.40" x2="422.10" y2="290.40" stroke="#444" stroke-width="0.9" />
<rect x="413.40" y="259.60" width="11.60" height="11.80" fill="#b983b4" stroke="#A5609D" stroke-opacity="0.45" stroke-width="0.6"/>
<line x1="413.60" y1="266.10" x2="424.80" y2="266.10" stroke="#ffffff" stroke-width="0.9" stroke-opacity="0.6"/>
<line x1="436.80" y1="247.20" x2="436.80" y2="264.40" stroke="#444" stroke-width="0.9" />
<line x1="436.80" y1="276.40" x2="436.80" y2="287.50" stroke="#444" stroke-width="0.9" />
<line x1="433.90" y1="247.20" x2="439.70" y2="247.20" stroke="#444" stroke-width="0.9" />
<line x1="433.90" y1="287.50" x2="439.70" y2="287.50" stroke="#444" stroke-width="0.9" />
<rect x="431.00" y="264.70" width="11.60" height="11.40" fill="#a7a847" stroke="#929600" stroke-opacity="0.45" stroke-width="0.6"/>
<line x1="431.20" y1="271.50" x2="442.40" y2="271.50" stroke="#ffffff" stroke-width="0.9" stroke-opacity="0.6"/>
<circle cx="436.80" cy="246.20" r="1.5" fill="#000"/>
<text x="278.40" y="312.00" font-size="7.9" text-anchor="middle" fill="#1a1a1a" font-weight="normal" >{A<tspan font-size="5.4" dy="2.4" stroke-width="0.12">1</tspan><tspan dy="-2.4">, B</tspan><tspan font-size="5.4" dy="2.4" stroke-width="0.12">1</tspan><tspan dy="-2.4">}</tspan></text>
<text x="331.20" y="312.00" font-size="7.9" text-anchor="middle" fill="#1a1a1a" font-weight="normal" >{A<tspan font-size="5.4" dy="2.4" stroke-width="0.12">4</tspan><tspan dy="-2.4">, B</tspan><tspan font-size="5.4" dy="2.4" stroke-width="0.12">4</tspan><tspan dy="-2.4">}</tspan></text>
<text x="384.00" y="312.00" font-size="7.9" text-anchor="middle" fill="#1a1a1a" font-weight="normal" >{A<tspan font-size="5.4" dy="2.4" stroke-width="0.12">7</tspan><tspan dy="-2.4">, B</tspan><tspan font-size="5.4" dy="2.4" stroke-width="0.12">7</tspan><tspan dy="-2.4">}</tspan></text>
<text x="436.80" y="312.00" font-size="7.9" text-anchor="middle" fill="#1a1a1a" font-weight="normal" >{A<tspan font-size="5.4" dy="2.4" stroke-width="0.12">10</tspan><tspan dy="-2.4">, B</tspan><tspan font-size="5.4" dy="2.4" stroke-width="0.12">10</tspan><tspan dy="-2.4">}</tspan></text>
<text x="357.05" y="327.50" font-size="7.9" text-anchor="middle" fill="#1a1a1a" font-weight="normal" >Paired QKD chips</text>
<text x="239.60" y="244.95" font-size="7.9" text-anchor="middle" fill="#1a1a1a" font-weight="normal" transform="rotate(-90 239.6 244.95000000000002)">Error rate</text>
<text x="418.50" y="200.20" font-size="7.9" text-anchor="start" fill="#1a1a1a" font-weight="normal" >370 km</text>
<text x="232.50" y="5.80" font-size="10.2" text-anchor="start" fill="#000" font-weight="bold" >c</text>
<text x="232.70" y="188.60" font-size="10.2" text-anchor="start" fill="#000" font-weight="bold" >d</text>
<rect x="504.20" y="40.30" width="13.6" height="75.20" fill="#8aa0c6" stroke="#111" stroke-width="0.9"/>
<line x1="504.20" y1="37.40" x2="517.80" y2="37.40" stroke="#333" stroke-width="0.9" stroke-dasharray="0.9 2.5"/>
<rect x="521.31" y="39.50" width="13.6" height="76.00" fill="#dcaa62" stroke="#111" stroke-width="0.9"/>
<line x1="521.31" y1="37.40" x2="534.91" y2="37.40" stroke="#333" stroke-width="0.9" stroke-dasharray="0.9 2.5"/>
<rect x="538.42" y="40.50" width="13.6" height="75.00" fill="#a3bd6c" stroke="#111" stroke-width="0.9"/>
<line x1="538.42" y1="37.40" x2="552.02" y2="37.40" stroke="#333" stroke-width="0.9" stroke-dasharray="0.9 2.5"/>
<rect x="555.53" y="41.20" width="13.6" height="74.30" fill="#e3896c" stroke="#111" stroke-width="0.9"/>
<line x1="555.53" y1="37.40" x2="569.13" y2="37.40" stroke="#333" stroke-width="0.9" stroke-dasharray="0.9 2.5"/>
<rect x="572.64" y="39.30" width="13.6" height="76.20" fill="#a49ac3" stroke="#111" stroke-width="0.9"/>
<line x1="572.64" y1="37.40" x2="586.24" y2="37.40" stroke="#333" stroke-width="0.9" stroke-dasharray="0.9 2.5"/>
<rect x="589.75" y="38.00" width="13.6" height="77.50" fill="#c98f5b" stroke="#111" stroke-width="0.9"/>
<line x1="589.75" y1="37.40" x2="603.35" y2="37.40" stroke="#333" stroke-width="0.9" stroke-dasharray="0.9 2.5"/>
<rect x="606.86" y="38.70" width="13.6" height="76.80" fill="#85aed0" stroke="#111" stroke-width="0.9"/>
<line x1="606.86" y1="37.40" x2="620.46" y2="37.40" stroke="#333" stroke-width="0.9" stroke-dasharray="0.9 2.5"/>
<rect x="623.97" y="38.90" width="13.6" height="76.60" fill="#efc24f" stroke="#111" stroke-width="0.9"/>
<line x1="623.97" y1="37.40" x2="637.57" y2="37.40" stroke="#333" stroke-width="0.9" stroke-dasharray="0.9 2.5"/>
<rect x="641.08" y="40.60" width="13.6" height="74.90" fill="#b887b3" stroke="#111" stroke-width="0.9"/>
<line x1="641.08" y1="37.40" x2="654.68" y2="37.40" stroke="#333" stroke-width="0.9" stroke-dasharray="0.9 2.5"/>
<rect x="658.19" y="38.40" width="13.6" height="77.10" fill="#a6aa50" stroke="#111" stroke-width="0.9"/>
<line x1="658.19" y1="37.40" x2="671.79" y2="37.40" stroke="#333" stroke-width="0.9" stroke-dasharray="0.9 2.5"/>
<line x1="497.60" y1="3.20" x2="497.60" y2="116.00" stroke="#858585" stroke-width="1" />
<line x1="497.10" y1="115.50" x2="678.40" y2="115.50" stroke="#858585" stroke-width="1" />
<line x1="497.60" y1="114.77" x2="499.10" y2="114.77" stroke="#6a6a6a" stroke-width="0.7" />
<line x1="497.60" y1="112.99" x2="499.10" y2="112.99" stroke="#6a6a6a" stroke-width="0.7" />
<line x1="497.60" y1="111.49" x2="499.10" y2="111.49" stroke="#6a6a6a" stroke-width="0.7" />
<line x1="497.60" y1="110.18" x2="499.10" y2="110.18" stroke="#6a6a6a" stroke-width="0.7" />
<line x1="497.60" y1="109.03" x2="499.10" y2="109.03" stroke="#6a6a6a" stroke-width="0.7" />
<line x1="497.60" y1="108.00" x2="500.00" y2="108.00" stroke="#555" stroke-width="0.8" />
<line x1="497.60" y1="101.23" x2="499.10" y2="101.23" stroke="#6a6a6a" stroke-width="0.7" />
<line x1="497.60" y1="97.26" x2="499.10" y2="97.26" stroke="#6a6a6a" stroke-width="0.7" />
<line x1="497.60" y1="94.45" x2="499.10" y2="94.45" stroke="#6a6a6a" stroke-width="0.7" />
<line x1="497.60" y1="92.27" x2="499.10" y2="92.27" stroke="#6a6a6a" stroke-width="0.7" />
<line x1="497.60" y1="90.49" x2="499.10" y2="90.49" stroke="#6a6a6a" stroke-width="0.7" />
<line x1="497.60" y1="88.99" x2="499.10" y2="88.99" stroke="#6a6a6a" stroke-width="0.7" />
<line x1="497.60" y1="87.68" x2="499.10" y2="87.68" stroke="#6a6a6a" stroke-width="0.7" />
<line x1="497.60" y1="86.53" x2="499.10" y2="86.53" stroke="#6a6a6a" stroke-width="0.7" />
<line x1="497.60" y1="85.50" x2="500.00" y2="85.50" stroke="#555" stroke-width="0.8" />
<line x1="497.60" y1="78.73" x2="499.10" y2="78.73" stroke="#6a6a6a" stroke-width="0.7" />
<line x1="497.60" y1="74.76" x2="499.10" y2="74.76" stroke="#6a6a6a" stroke-width="0.7" />
<line x1="497.60" y1="71.95" x2="499.10" y2="71.95" stroke="#6a6a6a" stroke-width="0.7" />
<line x1="497.60" y1="69.77" x2="499.10" y2="69.77" stroke="#6a6a6a" stroke-width="0.7" />
<line x1="497.60" y1="67.99" x2="499.10" y2="67.99" stroke="#6a6a6a" stroke-width="0.7" />
<line x1="497.60" y1="66.49" x2="499.10" y2="66.49" stroke="#6a6a6a" stroke-width="0.7" />
<line x1="497.60" y1="65.18" x2="499.10" y2="65.18" stroke="#6a6a6a" stroke-width="0.7" />
<line x1="497.60" y1="64.03" x2="499.10" y2="64.03" stroke="#6a6a6a" stroke-width="0.7" />
<line x1="497.60" y1="63.00" x2="500.00" y2="63.00" stroke="#555" stroke-width="0.8" />
<line x1="497.60" y1="56.23" x2="499.10" y2="56.23" stroke="#6a6a6a" stroke-width="0.7" />
<line x1="497.60" y1="52.26" x2="499.10" y2="52.26" stroke="#6a6a6a" stroke-width="0.7" />
<line x1="497.60" y1="49.45" x2="499.10" y2="49.45" stroke="#6a6a6a" stroke-width="0.7" />
<line x1="497.60" y1="47.27" x2="499.10" y2="47.27" stroke="#6a6a6a" stroke-width="0.7" />
<line x1="497.60" y1="45.49" x2="499.10" y2="45.49" stroke="#6a6a6a" stroke-width="0.7" />
<line x1="497.60" y1="43.99" x2="499.10" y2="43.99" stroke="#6a6a6a" stroke-width="0.7" />
<line x1="497.60" y1="42.68" x2="499.10" y2="42.68" stroke="#6a6a6a" stroke-width="0.7" />
<line x1="497.60" y1="41.53" x2="499.10" y2="41.53" stroke="#6a6a6a" stroke-width="0.7" />
<line x1="497.60" y1="40.50" x2="500.00" y2="40.50" stroke="#555" stroke-width="0.8" />
<line x1="497.60" y1="33.73" x2="499.10" y2="33.73" stroke="#6a6a6a" stroke-width="0.7" />
<line x1="497.60" y1="29.76" x2="499.10" y2="29.76" stroke="#6a6a6a" stroke-width="0.7" />
<line x1="497.60" y1="26.95" x2="499.10" y2="26.95" stroke="#6a6a6a" stroke-width="0.7" />
<line x1="497.60" y1="24.77" x2="499.10" y2="24.77" stroke="#6a6a6a" stroke-width="0.7" />
<line x1="497.60" y1="22.99" x2="499.10" y2="22.99" stroke="#6a6a6a" stroke-width="0.7" />
<line x1="497.60" y1="21.49" x2="499.10" y2="21.49" stroke="#6a6a6a" stroke-width="0.7" />
<line x1="497.60" y1="20.18" x2="499.10" y2="20.18" stroke="#6a6a6a" stroke-width="0.7" />
<line x1="497.60" y1="19.03" x2="499.10" y2="19.03" stroke="#6a6a6a" stroke-width="0.7" />
<line x1="497.60" y1="18.00" x2="500.00" y2="18.00" stroke="#555" stroke-width="0.8" />
<line x1="497.60" y1="11.23" x2="499.10" y2="11.23" stroke="#6a6a6a" stroke-width="0.7" />
<line x1="497.60" y1="7.26" x2="499.10" y2="7.26" stroke="#6a6a6a" stroke-width="0.7" />
<line x1="497.60" y1="4.45" x2="499.10" y2="4.45" stroke="#6a6a6a" stroke-width="0.7" />
<text x="493.50" y="21.60" font-size="7.6" text-anchor="end" fill="#1a1a1a">10<tspan font-size="5.2" dy="-3.2">−4</tspan></text>
<text x="493.50" y="44.10" font-size="7.6" text-anchor="end" fill="#1a1a1a">10<tspan font-size="5.2" dy="-3.2">−5</tspan></text>
<text x="493.50" y="66.60" font-size="7.6" text-anchor="end" fill="#1a1a1a">10<tspan font-size="5.2" dy="-3.2">−6</tspan></text>
<text x="493.50" y="89.10" font-size="7.6" text-anchor="end" fill="#1a1a1a">10<tspan font-size="5.2" dy="-3.2">−7</tspan></text>
<text x="493.50" y="111.60" font-size="7.6" text-anchor="end" fill="#1a1a1a">10<tspan font-size="5.2" dy="-3.2">−8</tspan></text>
<line x1="497.60" y1="14.90" x2="676.20" y2="14.90" stroke="#ff1a1a" stroke-width="1.3" stroke-dasharray="3.2 2.65"/>
<text x="648.50" y="11.60" font-size="7.9" text-anchor="start" fill="#1a1a1a" font-weight="normal" >204 km</text>
<text x="627.00" y="28.90" font-size="7.9" text-anchor="start" fill="#1a1a1a" font-weight="normal" >PLOB bound</text>
<text x="510.30" y="127.20" font-size="7.9" text-anchor="middle" fill="#1a1a1a" font-weight="normal" >{A<tspan font-size="5.4" dy="2.4" stroke-width="0.12">1</tspan><tspan dy="-2.4">, B</tspan><tspan font-size="5.4" dy="2.4" stroke-width="0.12">1</tspan><tspan dy="-2.4">}</tspan></text>
<text x="561.63" y="127.20" font-size="7.9" text-anchor="middle" fill="#1a1a1a" font-weight="normal" >{A<tspan font-size="5.4" dy="2.4" stroke-width="0.12">4</tspan><tspan dy="-2.4">, B</tspan><tspan font-size="5.4" dy="2.4" stroke-width="0.12">4</tspan><tspan dy="-2.4">}</tspan></text>
<text x="612.96" y="127.20" font-size="7.9" text-anchor="middle" fill="#1a1a1a" font-weight="normal" >{A<tspan font-size="5.4" dy="2.4" stroke-width="0.12">7</tspan><tspan dy="-2.4">, B</tspan><tspan font-size="5.4" dy="2.4" stroke-width="0.12">7</tspan><tspan dy="-2.4">}</tspan></text>
<text x="664.29" y="127.20" font-size="7.9" text-anchor="middle" fill="#1a1a1a" font-weight="normal" >{A<tspan font-size="5.4" dy="2.4" stroke-width="0.12">10</tspan><tspan dy="-2.4">, B</tspan><tspan font-size="5.4" dy="2.4" stroke-width="0.12">10</tspan><tspan dy="-2.4">}</tspan></text>
<text x="589.00" y="143.00" font-size="7.9" text-anchor="middle" fill="#1a1a1a" font-weight="normal" >Paired QKD chips</text>
<text x="471.60" y="60.60" font-size="7.9" text-anchor="middle" fill="#1a1a1a" font-weight="normal" transform="rotate(-90 471.6 60.6)">Key rate (bits per pulse)</text>
<rect x="504.20" y="210.40" width="13.6" height="90.90" fill="#8aa0c6" stroke="#111" stroke-width="0.9"/>
<line x1="504.20" y1="209.40" x2="517.80" y2="209.40" stroke="#333" stroke-width="0.9" stroke-dasharray="0.9 2.5"/>
<rect x="521.31" y="220.30" width="13.6" height="81.00" fill="#dcaa62" stroke="#111" stroke-width="0.9"/>
<path d="M521.31 220.30V209.4H534.91V220.30" fill="none" stroke="#333" stroke-width="0.9" stroke-dasharray="0.9 2.5"/>
<rect x="538.42" y="222.20" width="13.6" height="79.10" fill="#a3bd6c" stroke="#111" stroke-width="0.9"/>
<path d="M538.42 222.20V209.4H552.02V222.20" fill="none" stroke="#333" stroke-width="0.9" stroke-dasharray="0.9 2.5"/>
<rect x="555.53" y="215.90" width="13.6" height="85.40" fill="#e3896c" stroke="#111" stroke-width="0.9"/>
<path d="M555.53 215.90V209.4H569.13V215.90" fill="none" stroke="#333" stroke-width="0.9" stroke-dasharray="0.9 2.5"/>
<rect x="572.64" y="217.80" width="13.6" height="83.50" fill="#a49ac3" stroke="#111" stroke-width="0.9"/>
<path d="M572.64 217.80V209.4H586.24V217.80" fill="none" stroke="#333" stroke-width="0.9" stroke-dasharray="0.9 2.5"/>
<rect x="589.75" y="213.90" width="13.6" height="87.40" fill="#c98f5b" stroke="#111" stroke-width="0.9"/>
<path d="M589.75 213.90V209.4H603.35V213.90" fill="none" stroke="#333" stroke-width="0.9" stroke-dasharray="0.9 2.5"/>
<rect x="606.86" y="217.80" width="13.6" height="83.50" fill="#85aed0" stroke="#111" stroke-width="0.9"/>
<path d="M606.86 217.80V209.4H620.46V217.80" fill="none" stroke="#333" stroke-width="0.9" stroke-dasharray="0.9 2.5"/>
<rect x="623.97" y="215.90" width="13.6" height="85.40" fill="#efc24f" stroke="#111" stroke-width="0.9"/>
<path d="M623.97 215.90V209.4H637.57V215.90" fill="none" stroke="#333" stroke-width="0.9" stroke-dasharray="0.9 2.5"/>
<rect x="641.08" y="215.90" width="13.6" height="85.40" fill="#b887b3" stroke="#111" stroke-width="0.9"/>
<path d="M641.08 215.90V209.4H654.68V215.90" fill="none" stroke="#333" stroke-width="0.9" stroke-dasharray="0.9 2.5"/>
<rect x="658.19" y="223.10" width="13.6" height="78.20" fill="#a6aa50" stroke="#111" stroke-width="0.9"/>
<path d="M658.19 223.10V209.4H671.79V223.10" fill="none" stroke="#333" stroke-width="0.9" stroke-dasharray="0.9 2.5"/>
<line x1="497.50" y1="189.00" x2="497.50" y2="301.80" stroke="#858585" stroke-width="1" />
<line x1="497.00" y1="301.30" x2="678.40" y2="301.30" stroke="#858585" stroke-width="1" />
<line x1="497.50" y1="300.64" x2="499.00" y2="300.64" stroke="#6a6a6a" stroke-width="0.7" />
<line x1="497.50" y1="297.98" x2="499.00" y2="297.98" stroke="#6a6a6a" stroke-width="0.7" />
<line x1="497.50" y1="295.72" x2="499.00" y2="295.72" stroke="#6a6a6a" stroke-width="0.7" />
<line x1="497.50" y1="293.77" x2="499.00" y2="293.77" stroke="#6a6a6a" stroke-width="0.7" />
<line x1="497.50" y1="292.04" x2="499.00" y2="292.04" stroke="#6a6a6a" stroke-width="0.7" />
<line x1="497.50" y1="290.50" x2="499.90" y2="290.50" stroke="#555" stroke-width="0.8" />
<line x1="497.50" y1="280.36" x2="499.00" y2="280.36" stroke="#6a6a6a" stroke-width="0.7" />
<line x1="497.50" y1="274.42" x2="499.00" y2="274.42" stroke="#6a6a6a" stroke-width="0.7" />
<line x1="497.50" y1="270.21" x2="499.00" y2="270.21" stroke="#6a6a6a" stroke-width="0.7" />
<line x1="497.50" y1="266.94" x2="499.00" y2="266.94" stroke="#6a6a6a" stroke-width="0.7" />
<line x1="497.50" y1="264.28" x2="499.00" y2="264.28" stroke="#6a6a6a" stroke-width="0.7" />
<line x1="497.50" y1="262.02" x2="499.00" y2="262.02" stroke="#6a6a6a" stroke-width="0.7" />
<line x1="497.50" y1="260.07" x2="499.00" y2="260.07" stroke="#6a6a6a" stroke-width="0.7" />
<line x1="497.50" y1="258.34" x2="499.00" y2="258.34" stroke="#6a6a6a" stroke-width="0.7" />
<line x1="497.50" y1="256.80" x2="499.90" y2="256.80" stroke="#555" stroke-width="0.8" />
<line x1="497.50" y1="246.66" x2="499.00" y2="246.66" stroke="#6a6a6a" stroke-width="0.7" />
<line x1="497.50" y1="240.72" x2="499.00" y2="240.72" stroke="#6a6a6a" stroke-width="0.7" />
<line x1="497.50" y1="236.51" x2="499.00" y2="236.51" stroke="#6a6a6a" stroke-width="0.7" />
<line x1="497.50" y1="233.24" x2="499.00" y2="233.24" stroke="#6a6a6a" stroke-width="0.7" />
<line x1="497.50" y1="230.58" x2="499.00" y2="230.58" stroke="#6a6a6a" stroke-width="0.7" />
<line x1="497.50" y1="228.32" x2="499.00" y2="228.32" stroke="#6a6a6a" stroke-width="0.7" />
<line x1="497.50" y1="226.37" x2="499.00" y2="226.37" stroke="#6a6a6a" stroke-width="0.7" />
<line x1="497.50" y1="224.64" x2="499.00" y2="224.64" stroke="#6a6a6a" stroke-width="0.7" />
<line x1="497.50" y1="223.10" x2="499.90" y2="223.10" stroke="#555" stroke-width="0.8" />
<line x1="497.50" y1="212.96" x2="499.00" y2="212.96" stroke="#6a6a6a" stroke-width="0.7" />
<line x1="497.50" y1="207.02" x2="499.00" y2="207.02" stroke="#6a6a6a" stroke-width="0.7" />
<line x1="497.50" y1="202.81" x2="499.00" y2="202.81" stroke="#6a6a6a" stroke-width="0.7" />
<line x1="497.50" y1="199.54" x2="499.00" y2="199.54" stroke="#6a6a6a" stroke-width="0.7" />
<line x1="497.50" y1="196.88" x2="499.00" y2="196.88" stroke="#6a6a6a" stroke-width="0.7" />
<line x1="497.50" y1="194.62" x2="499.00" y2="194.62" stroke="#6a6a6a" stroke-width="0.7" />
<line x1="497.50" y1="192.67" x2="499.00" y2="192.67" stroke="#6a6a6a" stroke-width="0.7" />
<line x1="497.50" y1="190.94" x2="499.00" y2="190.94" stroke="#6a6a6a" stroke-width="0.7" />
<line x1="497.50" y1="189.40" x2="499.90" y2="189.40" stroke="#555" stroke-width="0.8" />
<text x="493.50" y="193.00" font-size="7.6" text-anchor="end" fill="#1a1a1a">10<tspan font-size="5.2" dy="-3.2">−6</tspan></text>
<text x="493.50" y="226.70" font-size="7.6" text-anchor="end" fill="#1a1a1a">10<tspan font-size="5.2" dy="-3.2">−7</tspan></text>
<text x="493.50" y="260.40" font-size="7.6" text-anchor="end" fill="#1a1a1a">10<tspan font-size="5.2" dy="-3.2">−8</tspan></text>
<text x="493.50" y="294.10" font-size="7.6" text-anchor="end" fill="#1a1a1a">10<tspan font-size="5.2" dy="-3.2">−9</tspan></text>
<line x1="497.50" y1="228.80" x2="678.40" y2="228.80" stroke="#ff1a1a" stroke-width="1.3" stroke-dasharray="3.2 2.65"/>
<rect x="621" y="233.7" width="55" height="14.8" fill="#fff"/>
<text x="625.60" y="244.00" font-size="7.9" text-anchor="start" fill="#1a1a1a" font-weight="normal" >PLOB bound</text>
<text x="511.35" y="312.40" font-size="7.9" text-anchor="middle" fill="#1a1a1a" font-weight="normal" >{A<tspan font-size="5.4" dy="2.4" stroke-width="0.12">1</tspan><tspan dy="-2.4">, B</tspan><tspan font-size="5.4" dy="2.4" stroke-width="0.12">1</tspan><tspan dy="-2.4">}</tspan></text>
<text x="563.80" y="312.40" font-size="7.9" text-anchor="middle" fill="#1a1a1a" font-weight="normal" >{A<tspan font-size="5.4" dy="2.4" stroke-width="0.12">4</tspan><tspan dy="-2.4">, B</tspan><tspan font-size="5.4" dy="2.4" stroke-width="0.12">4</tspan><tspan dy="-2.4">}</tspan></text>
<text x="616.30" y="312.40" font-size="7.9" text-anchor="middle" fill="#1a1a1a" font-weight="normal" >{A<tspan font-size="5.4" dy="2.4" stroke-width="0.12">7</tspan><tspan dy="-2.4">, B</tspan><tspan font-size="5.4" dy="2.4" stroke-width="0.12">7</tspan><tspan dy="-2.4">}</tspan></text>
<text x="669.10" y="312.40" font-size="7.9" text-anchor="middle" fill="#1a1a1a" font-weight="normal" >{A<tspan font-size="5.4" dy="2.4" stroke-width="0.12">10</tspan><tspan dy="-2.4">, B</tspan><tspan font-size="5.4" dy="2.4" stroke-width="0.12">10</tspan><tspan dy="-2.4">}</tspan></text>
<text x="590.00" y="327.70" font-size="7.9" text-anchor="middle" fill="#1a1a1a" font-weight="normal" >Paired QKD chips</text>
<text x="471.30" y="245.60" font-size="7.9" text-anchor="middle" fill="#1a1a1a" font-weight="normal" transform="rotate(-90 471.3 245.6)">Key rate (bits per pulse)</text>
<polygon points="509.4,187.0 509.4,169.2 526.7,181.0 543.5,182.9 560.7,176.8 577.6,178.8 594.8,174.0 612.0,178.5 629.1,176.5 646.0,176.4 663.2,183.6 663.2,187.0" fill="#f3ebc6"/>
<line x1="497.50" y1="187.40" x2="678.30" y2="187.40" stroke="#c8c8c8" stroke-width="0.9" />
<polyline points="509.4,169.2 526.7,181.0 543.5,182.9 560.7,176.8 577.6,178.8 594.8,174.0 612.0,178.5 629.1,176.5 646.0,176.4 663.2,183.6" fill="none" stroke="#ff2020" stroke-width="1.3"/>
<circle cx="509.4" cy="169.2" r="2.6" fill="#fff" stroke="#4a6fab" stroke-width="1.8"/>
<circle cx="526.7" cy="181.0" r="2.6" fill="#fff" stroke="#c98f1a" stroke-width="1.8"/>
<circle cx="543.5" cy="182.9" r="2.6" fill="#fff" stroke="#7fa52a" stroke-width="1.8"/>
<circle cx="560.7" cy="176.8" r="2.6" fill="#fff" stroke="#d9602f" stroke-width="1.8"/>
<circle cx="577.6" cy="178.8" r="2.6" fill="#fff" stroke="#7a6aab" stroke-width="1.8"/>
<circle cx="594.8" cy="174.0" r="2.6" fill="#fff" stroke="#ad6418" stroke-width="1.8"/>
<circle cx="612.0" cy="178.5" r="2.6" fill="#fff" stroke="#4e92c0" stroke-width="1.8"/>
<circle cx="629.1" cy="176.5" r="2.6" fill="#fff" stroke="#e8ad00" stroke-width="1.8"/>
<circle cx="646.0" cy="176.4" r="2.6" fill="#fff" stroke="#8f4f8a" stroke-width="1.8"/>
<circle cx="663.2" cy="183.6" r="2.6" fill="#fff" stroke="#7f8200" stroke-width="1.8"/>
<line x1="519.50" y1="168.40" x2="526.40" y2="168.40" stroke="#9b1b30" stroke-width="1.0" />
<path d="M515.8 168.4 L520.2 166.3 L519.2 168.4 L520.2 170.5 Z" fill="#9b1b30"/>
<text x="529.30" y="170.00" font-size="7.9" text-anchor="start" fill="#1a1a1a" font-weight="normal" >Max. +251.4%</text>
<text x="477.00" y="163.20" font-size="7.9" text-anchor="start" fill="#1a1a1a" font-weight="normal" >Enhancement</text>
<text x="648.60" y="198.30" font-size="7.9" text-anchor="start" fill="#1a1a1a" font-weight="normal" >370 km</text>
<text x="464.50" y="6.00" font-size="10.2" text-anchor="start" fill="#000" font-weight="bold" >e</text>
<text x="465.00" y="159.60" font-size="10.2" text-anchor="start" fill="#000" font-weight="bold" >f</text>
</g>
</svg></body></html>
